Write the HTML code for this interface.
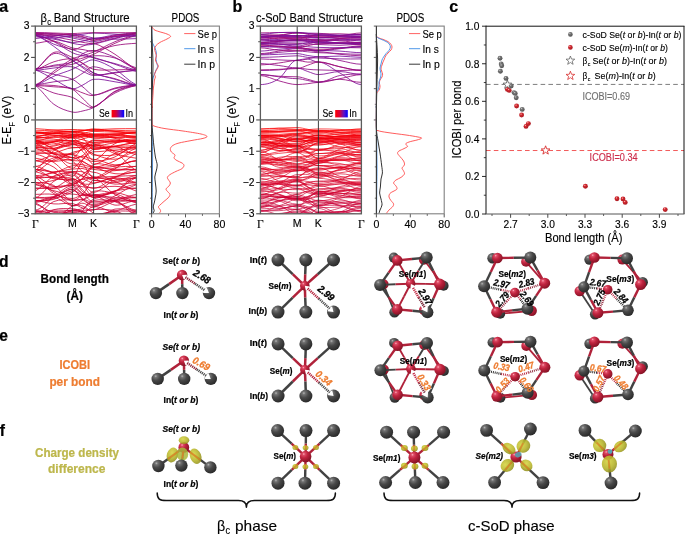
<!DOCTYPE html>
<html lang="en">
<head>
<meta charset="utf-8">
<title>Band structure, PDOS, ICOBI and charge density difference</title>
<style>
html,body{margin:0;padding:0;background:#fff;}
body{width:685px;height:535px;overflow:hidden;font-family:"Liberation Sans", sans-serif;}
svg{display:block;font-family:"Liberation Sans", sans-serif;}
.ser{font-family:"Liberation Serif", serif;}
</style>
</head>
<body>
<svg width="685" height="535" viewBox="0 0 685 535">
<rect x="0" y="0" width="685" height="535" fill="#fff"/>
<defs>
<radialGradient id="gIn" cx="0.34" cy="0.28" r="0.8">
<stop offset="0" stop-color="#b4b4b4"/><stop offset="0.15" stop-color="#727272"/><stop offset="0.45" stop-color="#484848"/><stop offset="1" stop-color="#242424"/>
</radialGradient>
<radialGradient id="gSe" cx="0.34" cy="0.28" r="0.8">
<stop offset="0" stop-color="#ffb0be"/><stop offset="0.14" stop-color="#de4c66"/><stop offset="0.42" stop-color="#c0243f"/><stop offset="1" stop-color="#7c0f21"/>
</radialGradient>
<radialGradient id="gY" cx="0.4" cy="0.35" r="0.75">
<stop offset="0" stop-color="#d6d440"/><stop offset="0.55" stop-color="#b6b428"/><stop offset="1" stop-color="#86841a"/>
</radialGradient>
<linearGradient id="gLeg" x1="0" x2="1" y1="0" y2="0">
<stop offset="0" stop-color="#ff0000"/><stop offset="0.35" stop-color="#d8003a"/><stop offset="0.7" stop-color="#5a14c8"/><stop offset="1" stop-color="#0000ff"/>
</linearGradient>
<radialGradient id="gPg" cx="0.38" cy="0.32" r="0.7">
<stop offset="0" stop-color="#c8c8c8"/><stop offset="0.3" stop-color="#767676"/><stop offset="1" stop-color="#505050"/>
</radialGradient>
<radialGradient id="gPr" cx="0.38" cy="0.32" r="0.7">
<stop offset="0" stop-color="#ffb0b0"/><stop offset="0.3" stop-color="#d02a30"/><stop offset="1" stop-color="#a81820"/>
</radialGradient>
</defs>
<text x="-0.7" y="11.6" font-size="16" font-weight="bold" stroke="#000" stroke-width="0.22">a</text>
<text x="232.6" y="11.6" font-size="16" font-weight="bold" stroke="#000" stroke-width="0.22">b</text>
<text x="449.2" y="11.6" font-size="16" font-weight="bold" stroke="#000" stroke-width="0.22">c</text>
<text x="-0.9" y="267.2" font-size="15.6" font-weight="bold" stroke="#000" stroke-width="0.22">d</text>
<text x="-0.7" y="341.2" font-size="15.6" font-weight="bold" stroke="#000" stroke-width="0.22">e</text>
<text x="-0.2" y="436.0" font-size="15.6" font-weight="bold" stroke="#000" stroke-width="0.22">f</text>
<text x="40.4" y="21.6" font-size="12.6" stroke="#000" stroke-width="0.14" textLength="6.4" lengthAdjust="spacingAndGlyphs">β</text>
<text x="47.2" y="24.8" font-size="9.2" stroke="#000" stroke-width="0.14" textLength="3.8" lengthAdjust="spacingAndGlyphs">c</text>
<text x="53.8" y="21.6" font-size="12.0" stroke="#000" stroke-width="0.14" textLength="75.8" lengthAdjust="spacingAndGlyphs">Band Structure</text>
<text x="171.6" y="22.0" font-size="12.0" stroke="#000" stroke-width="0.14" textLength="27.8" lengthAdjust="spacingAndGlyphs">PDOS</text>
<text x="256.0" y="22.2" font-size="12.0" stroke="#000" stroke-width="0.14" textLength="107.0" lengthAdjust="spacingAndGlyphs">c-SoD Band Structure</text>
<text x="396.4" y="22.2" font-size="12.0" stroke="#000" stroke-width="0.14" textLength="27.8" lengthAdjust="spacingAndGlyphs">PDOS</text>
<g transform="translate(11.4 119.8) rotate(-90)">
<text x="-24.4" y="0" font-size="13.2" stroke="#000" stroke-width="0.14" textLength="17.6" lengthAdjust="spacingAndGlyphs">E-E</text>
<text x="-6.9" y="3.9" font-size="8.4" textLength="4.9" lengthAdjust="spacingAndGlyphs">F</text>
<text x="1.4" y="0" font-size="13.2" stroke="#000" stroke-width="0.14" textLength="22.8" lengthAdjust="spacingAndGlyphs">(eV)</text>
</g>
<g transform="translate(235.9 119.8) rotate(-90)">
<text x="-24.4" y="0" font-size="13.2" stroke="#000" stroke-width="0.14" textLength="17.6" lengthAdjust="spacingAndGlyphs">E-E</text>
<text x="-6.9" y="3.9" font-size="8.4" textLength="4.9" lengthAdjust="spacingAndGlyphs">F</text>
<text x="1.4" y="0" font-size="13.2" stroke="#000" stroke-width="0.14" textLength="22.8" lengthAdjust="spacingAndGlyphs">(eV)</text>
</g>
<line x1="31.10" y1="213.80" x2="35.30" y2="213.80" stroke="#222" stroke-width="0.9" />
<text x="29.4" y="217.1" font-size="10.3" stroke="#000" stroke-width="0.14" text-anchor="end">−3</text>
<line x1="31.10" y1="182.52" x2="35.30" y2="182.52" stroke="#222" stroke-width="0.9" />
<text x="29.4" y="185.8" font-size="10.3" stroke="#000" stroke-width="0.14" text-anchor="end">−2</text>
<line x1="31.10" y1="151.23" x2="35.30" y2="151.23" stroke="#222" stroke-width="0.9" />
<text x="29.4" y="154.5" font-size="10.3" stroke="#000" stroke-width="0.14" text-anchor="end">−1</text>
<line x1="31.10" y1="119.95" x2="35.30" y2="119.95" stroke="#222" stroke-width="0.9" />
<text x="29.4" y="123.2" font-size="10.3" stroke="#000" stroke-width="0.14" text-anchor="end">0</text>
<line x1="31.10" y1="88.67" x2="35.30" y2="88.67" stroke="#222" stroke-width="0.9" />
<text x="29.4" y="92.0" font-size="10.3" stroke="#000" stroke-width="0.14" text-anchor="end">1</text>
<line x1="31.10" y1="57.38" x2="35.30" y2="57.38" stroke="#222" stroke-width="0.9" />
<text x="29.4" y="60.7" font-size="10.3" stroke="#000" stroke-width="0.14" text-anchor="end">2</text>
<line x1="31.10" y1="26.10" x2="35.30" y2="26.10" stroke="#222" stroke-width="0.9" />
<text x="29.4" y="29.4" font-size="10.3" stroke="#000" stroke-width="0.14" text-anchor="end">3</text>
<line x1="33.10" y1="198.16" x2="35.30" y2="198.16" stroke="#222" stroke-width="0.8" />
<line x1="33.10" y1="166.88" x2="35.30" y2="166.88" stroke="#222" stroke-width="0.8" />
<line x1="33.10" y1="135.59" x2="35.30" y2="135.59" stroke="#222" stroke-width="0.8" />
<line x1="33.10" y1="104.31" x2="35.30" y2="104.31" stroke="#222" stroke-width="0.8" />
<line x1="33.10" y1="73.03" x2="35.30" y2="73.03" stroke="#222" stroke-width="0.8" />
<line x1="33.10" y1="41.74" x2="35.30" y2="41.74" stroke="#222" stroke-width="0.8" />
<text x="35.3" y="227.6" font-size="11.5" stroke="#000" stroke-width="0.14" text-anchor="middle" class="ser">Γ</text>
<text x="72.4" y="227.4" font-size="10.6" stroke="#000" stroke-width="0.14" text-anchor="middle">M</text>
<text x="93.6" y="227.4" font-size="10.6" stroke="#000" stroke-width="0.14" text-anchor="middle">K</text>
<text x="136.4" y="227.6" font-size="11.5" stroke="#000" stroke-width="0.14" text-anchor="middle" class="ser">Γ</text>
<clipPath id="clA"><rect x="35.30" y="26.10" width="101.10" height="187.70"/></clipPath>
<g clip-path="url(#clA)" fill="none" stroke-linecap="round">
<path d="M35.3 130.9C41.5 130.9 47.7 130.2 53.9 130.0C60.0 129.8 66.2 129.5 72.4 129.5C75.9 129.5 79.5 129.8 83.0 129.9C86.5 130.1 90.1 130.3 93.6 130.3C100.7 130.3 107.9 130.2 115.0 130.3C122.1 130.4 129.3 130.9 136.4 130.9" stroke="#fd0003" stroke-width="0.8"/>
<path d="M35.3 132.6C41.5 132.6 47.7 133.3 53.9 133.3C60.0 133.4 66.2 132.9 72.4 132.9C75.9 132.9 79.5 131.5 83.0 130.9C86.5 130.2 90.1 128.9 93.6 128.9C100.7 128.9 107.9 130.8 115.0 131.4C122.1 132.0 129.3 132.6 136.4 132.6" stroke="#fc0004" stroke-width="0.8"/>
<path d="M35.3 128.7C41.5 128.7 47.7 129.7 53.9 130.1C60.0 130.6 66.2 131.4 72.4 131.4C75.9 131.4 79.5 130.8 83.0 130.5C86.5 130.2 90.1 129.6 93.6 129.6C100.7 129.6 107.9 128.9 115.0 128.8C122.1 128.6 129.3 128.7 136.4 128.7" stroke="#fb0005" stroke-width="0.8"/>
<path d="M35.3 134.0C41.5 134.0 47.7 133.0 53.9 132.6C60.0 132.2 66.2 131.3 72.4 131.3C75.9 131.3 79.5 130.9 83.0 130.7C86.5 130.5 90.1 130.1 93.6 130.1C100.7 130.1 107.9 130.7 115.0 131.4C122.1 132.0 129.3 134.0 136.4 134.0" stroke="#fa0006" stroke-width="0.8"/>
<path d="M35.3 131.9C41.5 131.9 47.7 132.8 53.9 133.4C60.0 133.9 66.2 135.4 72.4 135.4C75.9 135.4 79.5 134.0 83.0 133.4C86.5 132.7 90.1 131.4 93.6 131.4C100.7 131.4 107.9 132.1 115.0 132.2C122.1 132.3 129.3 131.9 136.4 131.9" stroke="#f90006" stroke-width="0.8"/>
<path d="M35.3 136.5C41.5 136.5 47.7 134.1 53.9 133.3C60.0 132.4 66.2 131.4 72.4 131.4C75.9 131.4 79.5 132.2 83.0 132.6C86.5 133.0 90.1 133.8 93.6 133.8C100.7 133.8 107.9 133.5 115.0 134.0C122.1 134.4 129.3 136.5 136.4 136.5" stroke="#f80007" stroke-width="0.8"/>
<path d="M35.3 133.0C41.5 133.0 47.7 131.6 53.9 131.4C60.0 131.2 66.2 131.7 72.4 131.7C75.9 131.7 79.5 132.8 83.0 133.4C86.5 134.0 90.1 135.1 93.6 135.1C100.7 135.1 107.9 134.6 115.0 134.2C122.1 133.9 129.3 133.0 136.4 133.0" stroke="#f70008" stroke-width="0.8"/>
<path d="M35.3 132.3C41.5 132.3 47.7 133.6 53.9 133.7C60.0 133.7 66.2 132.7 72.4 132.7C75.9 132.7 79.5 134.4 83.0 135.3C86.5 136.2 90.1 137.9 93.6 137.9C100.7 137.9 107.9 137.0 115.0 136.0C122.1 135.1 129.3 132.3 136.4 132.3" stroke="#f70009" stroke-width="0.8"/>
<path d="M35.3 132.7C41.5 132.7 47.7 134.6 53.9 135.3C60.0 135.9 66.2 136.4 72.4 136.4C75.9 136.4 79.5 136.0 83.0 135.8C86.5 135.5 90.1 135.1 93.6 135.1C100.7 135.1 107.9 134.3 115.0 133.9C122.1 133.5 129.3 132.7 136.4 132.7" stroke="#f6000a" stroke-width="0.8"/>
<path d="M35.3 137.6C41.5 137.6 47.7 137.4 53.9 137.4C60.0 137.5 66.2 137.9 72.4 137.9C75.9 137.9 79.5 137.3 83.0 137.0C86.5 136.7 90.1 136.1 93.6 136.1C100.7 136.1 107.9 135.1 115.0 135.4C122.1 135.6 129.3 137.6 136.4 137.6" stroke="#f5000a" stroke-width="0.8"/>
<path d="M35.3 136.2C41.5 136.2 47.7 133.6 53.9 133.3C60.0 133.0 66.2 134.3 72.4 134.3C75.9 134.3 79.5 134.4 83.0 134.5C86.5 134.6 90.1 134.8 93.6 134.8C100.7 134.8 107.9 134.6 115.0 134.8C122.1 135.1 129.3 136.2 136.4 136.2" stroke="#f5000b" stroke-width="0.8"/>
<path d="M35.3 141.0C41.5 141.0 47.7 137.5 53.9 136.6C60.0 135.7 66.2 135.5 72.4 135.5C75.9 135.5 79.5 135.2 83.0 135.0C86.5 134.9 90.1 134.6 93.6 134.6C100.7 134.6 107.9 136.5 115.0 137.5C122.1 138.6 129.3 141.0 136.4 141.0" stroke="#f4000c" stroke-width="0.8"/>
<path d="M35.3 137.3C41.5 137.3 47.7 138.4 53.9 139.1C60.0 139.8 66.2 141.5 72.4 141.5C75.9 141.5 79.5 139.8 83.0 138.9C86.5 138.1 90.1 136.4 93.6 136.4C100.7 136.4 107.9 137.6 115.0 137.7C122.1 137.9 129.3 137.3 136.4 137.3" stroke="#f3000c" stroke-width="0.8"/>
<path d="M35.3 143.6C41.5 143.6 47.7 143.2 53.9 142.0C60.0 140.9 66.2 136.8 72.4 136.8C75.9 136.8 79.5 136.5 83.0 136.3C86.5 136.1 90.1 135.7 93.6 135.7C100.7 135.7 107.9 137.0 115.0 138.4C122.1 139.7 129.3 143.6 136.4 143.6" stroke="#f3000d" stroke-width="0.8"/>
<path d="M35.3 141.5C41.5 141.5 47.7 141.0 53.9 141.4C60.0 141.8 66.2 143.8 72.4 143.8C75.9 143.8 79.5 143.4 83.0 143.2C86.5 142.9 90.1 142.5 93.6 142.5C100.7 142.5 107.9 140.5 115.0 140.3C122.1 140.2 129.3 141.5 136.4 141.5" stroke="#f2000e" stroke-width="0.8"/>
<path d="M35.3 145.7C41.5 145.7 47.7 142.9 53.9 142.0C60.0 141.1 66.2 140.4 72.4 140.4C75.9 140.4 79.5 142.2 83.0 143.0C86.5 143.9 90.1 145.7 93.6 145.7C100.7 145.7 107.9 146.4 115.0 146.4C122.1 146.4 129.3 145.7 136.4 145.7" stroke="#f1000e" stroke-width="0.8"/>
<path d="M35.3 138.6C41.5 138.6 47.7 135.9 53.9 135.8C60.0 135.6 66.2 137.7 72.4 137.7C75.9 137.7 79.5 139.2 83.0 139.9C86.5 140.7 90.1 142.2 93.6 142.2C100.7 142.2 107.9 141.9 115.0 141.3C122.1 140.7 129.3 138.6 136.4 138.6" stroke="#f1000f" stroke-width="0.8"/>
<path d="M35.3 147.2C41.5 147.2 47.7 147.0 53.9 146.1C60.0 145.2 66.2 142.0 72.4 142.0C75.9 142.0 79.5 143.9 83.0 144.8C86.5 145.8 90.1 147.6 93.6 147.6C100.7 147.6 107.9 147.9 115.0 147.9C122.1 147.8 129.3 147.2 136.4 147.2" stroke="#f00010" stroke-width="0.8"/>
<path d="M35.3 142.7C41.5 142.7 47.7 142.4 53.9 143.1C60.0 143.9 66.2 147.3 72.4 147.3C75.9 147.3 79.5 147.7 83.0 147.9C86.5 148.1 90.1 148.5 93.6 148.5C100.7 148.5 107.9 147.5 115.0 146.5C122.1 145.6 129.3 142.7 136.4 142.7" stroke="#f00010" stroke-width="0.8"/>
<path d="M35.3 139.8C41.5 139.8 47.7 140.2 53.9 140.3C60.0 140.4 66.2 140.4 72.4 140.4C75.9 140.4 79.5 142.2 83.0 143.1C86.5 144.1 90.1 145.9 93.6 145.9C100.7 145.9 107.9 143.7 115.0 142.7C122.1 141.7 129.3 139.8 136.4 139.8" stroke="#ef0011" stroke-width="0.8"/>
<path d="M35.3 136.4C41.5 136.1 47.7 134.9 53.9 135.0C60.0 135.1 66.2 137.2 72.4 137.0C75.9 136.9 79.5 133.9 83.0 134.1C86.5 134.3 90.1 137.8 93.6 138.1C100.7 138.8 107.9 137.5 115.0 137.2C122.1 136.9 129.3 136.6 136.4 136.4" stroke="#f3000d" stroke-width="0.8"/>
<path d="M35.3 143.0C41.5 143.0 47.7 142.9 53.9 141.5C60.0 140.1 66.2 134.4 72.4 134.4C75.9 134.4 79.5 135.7 83.0 138.2C86.5 140.7 90.1 149.5 93.6 149.5C100.7 149.5 107.9 147.0 115.0 146.0C122.1 144.9 129.3 143.0 136.4 143.0" stroke="#f2000e" stroke-width="0.8"/>
<path d="M35.3 141.4C41.5 142.8 47.7 145.8 53.9 148.5C60.0 151.3 66.2 156.4 72.4 157.9C75.9 158.7 79.5 157.4 83.0 155.3C86.5 153.2 90.1 146.8 93.6 145.3C100.7 142.2 107.9 142.3 115.0 141.7C122.1 141.0 129.3 141.4 136.4 141.4" stroke="#f1000f" stroke-width="0.8"/>
<path d="M35.3 140.6C41.5 140.6 47.7 146.8 53.9 149.6C60.0 152.4 66.2 157.7 72.4 157.7C75.9 157.7 79.5 150.3 83.0 147.4C86.5 144.4 90.1 139.9 93.6 139.9C100.7 139.9 107.9 142.2 115.0 142.3C122.1 142.4 129.3 140.6 136.4 140.6" stroke="#f00010" stroke-width="0.8"/>
<path d="M35.3 140.0C41.5 141.0 47.7 145.5 53.9 145.1C60.0 144.7 66.2 137.2 72.4 137.8C75.9 138.1 79.5 143.8 83.0 147.6C86.5 151.3 90.1 160.6 93.6 160.2C100.7 159.3 107.9 146.9 115.0 143.6C122.1 140.2 129.3 140.7 136.4 140.0" stroke="#ef0011" stroke-width="0.8"/>
<path d="M35.3 152.7C41.5 152.7 47.7 153.6 53.9 152.8C60.0 152.0 66.2 147.9 72.4 147.9C75.9 147.9 79.5 147.5 83.0 146.8C86.5 146.1 90.1 143.6 93.6 143.6C100.7 143.6 107.9 149.3 115.0 150.8C122.1 152.3 129.3 152.7 136.4 152.7" stroke="#ee0012" stroke-width="0.8"/>
<path d="M35.3 151.1C41.5 150.8 47.7 150.7 53.9 149.7C60.0 148.6 66.2 145.3 72.4 144.8C75.9 144.5 79.5 145.8 83.0 147.3C86.5 148.8 90.1 152.7 93.6 154.1C100.7 156.7 107.9 159.7 115.0 159.2C122.1 158.7 129.3 152.7 136.4 151.1" stroke="#ed0013" stroke-width="0.8"/>
<path d="M35.3 147.4C41.5 147.4 47.7 149.4 53.9 148.5C60.0 147.5 66.2 141.8 72.4 141.8C75.9 141.8 79.5 143.8 83.0 146.0C86.5 148.2 90.1 155.1 93.6 155.1C100.7 155.1 107.9 156.2 115.0 154.9C122.1 153.6 129.3 147.4 136.4 147.4" stroke="#ec0014" stroke-width="0.8"/>
<path d="M35.3 158.2C41.5 158.8 47.7 161.9 53.9 160.9C60.0 160.0 66.2 154.8 72.4 152.4C75.9 151.1 79.5 151.1 83.0 149.7C86.5 148.3 90.1 143.8 93.6 144.2C100.7 145.1 107.9 151.2 115.0 153.6C122.1 155.9 129.3 157.3 136.4 158.2" stroke="#eb0015" stroke-width="0.8"/>
<path d="M35.3 143.4C41.5 143.4 47.7 151.4 53.9 153.2C60.0 154.9 66.2 153.6 72.4 153.6C75.9 153.6 79.5 150.6 83.0 148.4C86.5 146.2 90.1 140.6 93.6 140.6C100.7 140.6 107.9 139.4 115.0 139.9C122.1 140.3 129.3 143.4 136.4 143.4" stroke="#ea0016" stroke-width="0.8"/>
<path d="M35.3 143.4C41.5 145.6 47.7 152.4 53.9 154.3C60.0 156.2 66.2 153.8 72.4 154.5C75.9 155.0 79.5 156.7 83.0 157.8C86.5 159.0 90.1 161.7 93.6 161.6C100.7 161.4 107.9 159.9 115.0 156.9C122.1 153.8 129.3 146.1 136.4 143.4" stroke="#e90017" stroke-width="0.8"/>
<path d="M35.3 146.6C41.5 146.6 47.7 148.8 53.9 148.3C60.0 147.8 66.2 143.7 72.4 143.7C75.9 143.7 79.5 148.2 83.0 151.6C86.5 155.0 90.1 164.2 93.6 164.2C100.7 164.2 107.9 156.4 115.0 153.4C122.1 150.5 129.3 146.6 136.4 146.6" stroke="#e80018" stroke-width="0.8"/>
<path d="M35.3 148.0C41.5 149.8 47.7 155.1 53.9 157.1C60.0 159.2 66.2 159.5 72.4 160.5C75.9 161.0 79.5 160.4 83.0 161.5C86.5 162.7 90.1 167.3 93.6 167.2C100.7 167.0 107.9 164.0 115.0 160.8C122.1 157.6 129.3 150.5 136.4 148.0" stroke="#e70019" stroke-width="0.8"/>
<path d="M35.3 160.8C41.5 160.8 47.7 161.6 53.9 161.4C60.0 161.2 66.2 159.5 72.4 159.5C75.9 159.5 79.5 156.2 83.0 156.2C86.5 156.2 90.1 159.4 93.6 159.4C100.7 159.4 107.9 164.7 115.0 164.9C122.1 165.2 129.3 160.8 136.4 160.8" stroke="#e7001a" stroke-width="0.8"/>
<path d="M35.3 170.6C41.5 166.6 47.7 155.0 53.9 150.6C60.0 146.3 66.2 145.4 72.4 144.4C75.9 143.8 79.5 145.5 83.0 145.9C86.5 146.2 90.1 145.6 93.6 146.3C100.7 147.7 107.9 148.1 115.0 152.1C122.1 156.2 129.3 166.9 136.4 170.6" stroke="#e6001b" stroke-width="0.8"/>
<path d="M35.3 148.8C41.5 148.8 47.7 150.6 53.9 153.8C60.0 157.0 66.2 168.2 72.4 168.2C75.9 168.2 79.5 161.5 83.0 158.8C86.5 156.0 90.1 151.8 93.6 151.8C100.7 151.8 107.9 150.6 115.0 150.1C122.1 149.6 129.3 148.8 136.4 148.8" stroke="#e5001b" stroke-width="0.8"/>
<path d="M35.3 166.1C41.5 167.3 47.7 172.1 53.9 172.0C60.0 172.0 66.2 166.9 72.4 165.8C75.9 165.2 79.5 166.3 83.0 166.9C86.5 167.5 90.1 168.9 93.6 169.4C100.7 170.2 107.9 171.3 115.0 170.7C122.1 170.2 129.3 167.0 136.4 166.1" stroke="#e4001c" stroke-width="0.8"/>
<path d="M35.3 154.4C41.5 154.4 47.7 159.0 53.9 162.6C60.0 166.3 66.2 176.4 72.4 176.4C75.9 176.4 79.5 164.1 83.0 159.6C86.5 155.1 90.1 149.5 93.6 149.5C100.7 149.5 107.9 145.5 115.0 146.3C122.1 147.2 129.3 154.4 136.4 154.4" stroke="#e3001d" stroke-width="0.8"/>
<path d="M35.3 153.4C41.5 153.5 47.7 152.5 53.9 153.8C60.0 155.0 66.2 157.1 72.4 161.0C75.9 163.3 79.5 169.5 83.0 172.4C86.5 175.3 90.1 179.1 93.6 178.7C100.7 177.9 107.9 173.1 115.0 168.9C122.1 164.7 129.3 156.5 136.4 153.4" stroke="#e3001e" stroke-width="0.8"/>
<path d="M35.3 160.7C41.5 160.7 47.7 155.6 53.9 156.1C60.0 156.7 66.2 163.9 72.4 163.9C75.9 163.9 79.5 164.2 83.0 164.8C86.5 165.4 90.1 167.4 93.6 167.4C100.7 167.4 107.9 167.4 115.0 166.3C122.1 165.1 129.3 160.7 136.4 160.7" stroke="#e2001f" stroke-width="0.8"/>
<path d="M35.3 172.2C41.5 169.7 47.7 162.4 53.9 159.5C60.0 156.6 66.2 154.2 72.4 154.7C75.9 155.0 79.5 159.9 83.0 161.9C86.5 163.9 90.1 165.4 93.6 166.7C100.7 169.4 107.9 172.8 115.0 173.7C122.1 174.7 129.3 172.5 136.4 172.2" stroke="#e10020" stroke-width="0.8"/>
<path d="M35.3 166.5C41.5 166.5 47.7 159.3 53.9 157.8C60.0 156.3 66.2 157.4 72.4 157.4C75.9 157.4 79.5 160.9 83.0 164.2C86.5 167.6 90.1 177.6 93.6 177.6C100.7 177.6 107.9 169.6 115.0 167.7C122.1 165.9 129.3 166.5 136.4 166.5" stroke="#e00020" stroke-width="0.8"/>
<path d="M35.3 160.5C41.5 161.9 47.7 163.3 53.9 167.2C60.0 171.1 66.2 181.8 72.4 184.0C75.9 185.3 79.5 181.1 83.0 177.8C86.5 174.6 90.1 165.9 93.6 164.6C100.7 161.9 107.9 166.5 115.0 165.8C122.1 165.1 129.3 161.6 136.4 160.5" stroke="#df0021" stroke-width="0.8"/>
<path d="M35.3 175.7C41.5 175.7 47.7 173.9 53.9 172.8C60.0 171.7 66.2 169.1 72.4 169.1C75.9 169.1 79.5 168.0 83.0 168.6C86.5 169.1 90.1 172.3 93.6 172.3C100.7 172.3 107.9 180.5 115.0 181.1C122.1 181.6 129.3 175.7 136.4 175.7" stroke="#df0022" stroke-width="0.8"/>
<path d="M35.3 182.4C41.5 183.6 47.7 188.6 53.9 188.7C60.0 188.8 66.2 184.9 72.4 182.9C75.9 181.8 79.5 179.2 83.0 179.2C86.5 179.2 90.1 183.2 93.6 183.0C100.7 182.6 107.9 177.8 115.0 177.7C122.1 177.6 129.3 181.4 136.4 182.4" stroke="#de0023" stroke-width="0.8"/>
<path d="M35.3 182.9C41.5 182.9 47.7 182.0 53.9 180.3C60.0 178.6 66.2 172.5 72.4 172.5C75.9 172.5 79.5 175.6 83.0 176.6C86.5 177.5 90.1 178.3 93.6 178.3C100.7 178.3 107.9 177.8 115.0 178.5C122.1 179.3 129.3 182.9 136.4 182.9" stroke="#dd0024" stroke-width="0.8"/>
<path d="M35.3 171.7C41.5 172.8 47.7 176.3 53.9 177.3C60.0 178.4 66.2 176.8 72.4 178.2C75.9 179.0 79.5 182.9 83.0 183.8C86.5 184.7 90.1 184.3 93.6 183.5C100.7 182.0 107.9 178.8 115.0 176.8C122.1 174.8 129.3 172.7 136.4 171.7" stroke="#dc0024" stroke-width="0.8"/>
<path d="M35.3 169.7C41.5 169.7 47.7 177.3 53.9 178.8C60.0 180.4 66.2 178.9 72.4 178.9C75.9 178.9 79.5 183.0 83.0 184.6C86.5 186.1 90.1 188.3 93.6 188.3C100.7 188.3 107.9 180.6 115.0 177.5C122.1 174.5 129.3 169.7 136.4 169.7" stroke="#dc0025" stroke-width="0.8"/>
<path d="M35.3 169.4C41.5 170.1 47.7 171.2 53.9 173.1C60.0 174.9 66.2 180.0 72.4 180.2C75.9 180.3 79.5 176.3 83.0 174.1C86.5 171.9 90.1 167.5 93.6 167.0C100.7 166.1 107.9 169.6 115.0 170.0C122.1 170.4 129.3 169.5 136.4 169.4" stroke="#db0026" stroke-width="0.8"/>
<path d="M35.3 177.8C41.5 177.8 47.7 173.0 53.9 171.9C60.0 170.8 66.2 171.4 72.4 171.4C75.9 171.4 79.5 174.7 83.0 176.1C86.5 177.6 90.1 180.2 93.6 180.2C100.7 180.2 107.9 183.0 115.0 182.6C122.1 182.2 129.3 177.8 136.4 177.8" stroke="#da0027" stroke-width="0.8"/>
<path d="M35.3 178.2C41.5 177.8 47.7 177.5 53.9 176.6C60.0 175.7 66.2 171.5 72.4 172.9C75.9 173.8 79.5 180.0 83.0 183.3C86.5 186.5 90.1 192.8 93.6 192.5C100.7 191.7 107.9 182.3 115.0 180.0C122.1 177.6 129.3 178.5 136.4 178.2" stroke="#da0028" stroke-width="0.8"/>
<path d="M35.3 169.4C41.5 169.4 47.7 170.3 53.9 172.8C60.0 175.2 66.2 184.3 72.4 184.3C75.9 184.3 79.5 180.7 83.0 178.0C86.5 175.2 90.1 167.9 93.6 167.9C100.7 167.9 107.9 168.9 115.0 169.2C122.1 169.4 129.3 169.4 136.4 169.4" stroke="#d90028" stroke-width="0.8"/>
<path d="M35.3 191.1C41.5 188.1 47.7 179.2 53.9 176.0C60.0 172.8 66.2 172.7 72.4 171.9C75.9 171.4 79.5 171.1 83.0 171.9C86.5 172.7 90.1 175.5 93.6 176.6C100.7 178.7 107.9 179.1 115.0 181.5C122.1 183.9 129.3 189.2 136.4 191.1" stroke="#d80029" stroke-width="0.8"/>
<path d="M35.3 177.1C41.5 177.1 47.7 177.2 53.9 177.8C60.0 178.4 66.2 181.0 72.4 181.0C75.9 181.0 79.5 189.6 83.0 192.0C86.5 194.4 90.1 195.4 93.6 195.4C100.7 195.4 107.9 194.3 115.0 191.3C122.1 188.2 129.3 177.1 136.4 177.1" stroke="#d7002a" stroke-width="0.8"/>
<path d="M35.3 177.4C41.5 180.6 47.7 190.1 53.9 193.6C60.0 197.1 66.2 198.3 72.4 198.5C75.9 198.7 79.5 195.0 83.0 194.8C86.5 194.5 90.1 197.4 93.6 197.0C100.7 196.3 107.9 195.0 115.0 191.7C122.1 188.5 129.3 180.3 136.4 177.4" stroke="#d7002b" stroke-width="0.8"/>
<path d="M35.3 197.5C41.5 197.5 47.7 185.1 53.9 181.3C60.0 177.6 66.2 174.9 72.4 174.9C75.9 174.9 79.5 181.0 83.0 184.8C86.5 188.5 90.1 197.4 93.6 197.4C100.7 197.4 107.9 192.7 115.0 192.7C122.1 192.7 129.3 197.5 136.4 197.5" stroke="#d6002b" stroke-width="0.8"/>
<path d="M35.3 175.5C41.5 177.7 47.7 185.0 53.9 186.5C60.0 188.0 66.2 186.0 72.4 184.4C75.9 183.5 79.5 180.0 83.0 178.9C86.5 177.7 90.1 177.8 93.6 177.5C100.7 177.0 107.9 176.7 115.0 176.4C122.1 176.0 129.3 175.7 136.4 175.5" stroke="#d5002c" stroke-width="0.8"/>
<path d="M35.3 182.8C41.5 182.8 47.7 182.6 53.9 185.5C60.0 188.5 66.2 200.5 72.4 200.5C75.9 200.5 79.5 197.2 83.0 193.9C86.5 190.5 90.1 180.4 93.6 180.4C100.7 180.4 107.9 183.6 115.0 184.1C122.1 184.5 129.3 182.8 136.4 182.8" stroke="#d5002d" stroke-width="0.8"/>
<path d="M35.3 187.9C41.5 187.9 47.7 189.5 53.9 188.0C60.0 186.6 66.2 178.7 72.4 179.2C75.9 179.5 79.5 187.3 83.0 190.3C86.5 193.4 90.1 197.4 93.6 197.5C100.7 197.7 107.9 192.7 115.0 191.1C122.1 189.5 129.3 188.5 136.4 187.9" stroke="#d4002d" stroke-width="0.8"/>
<path d="M35.3 184.4C41.5 184.4 47.7 189.1 53.9 190.7C60.0 192.3 66.2 194.1 72.4 194.1C75.9 194.1 79.5 195.5 83.0 195.7C86.5 195.8 90.1 194.9 93.6 194.9C100.7 194.9 107.9 192.6 115.0 190.8C122.1 189.1 129.3 184.4 136.4 184.4" stroke="#d3002e" stroke-width="0.8"/>
<path d="M35.3 202.5C41.5 201.7 47.7 200.2 53.9 198.5C60.0 196.8 66.2 195.4 72.4 192.1C75.9 190.1 79.5 185.2 83.0 182.7C86.5 180.3 90.1 176.0 93.6 177.3C100.7 179.9 107.9 190.5 115.0 194.7C122.1 198.9 129.3 200.9 136.4 202.5" stroke="#d3002f" stroke-width="0.8"/>
<path d="M35.3 188.6C41.5 188.6 47.7 187.3 53.9 186.7C60.0 186.2 66.2 185.4 72.4 185.4C75.9 185.4 79.5 186.3 83.0 186.8C86.5 187.2 90.1 187.9 93.6 187.9C100.7 187.9 107.9 186.1 115.0 186.3C122.1 186.4 129.3 188.6 136.4 188.6" stroke="#d20030" stroke-width="0.8"/>
<path d="M35.3 184.7C41.5 186.1 47.7 188.2 53.9 191.7C60.0 195.2 66.2 203.2 72.4 205.6C75.9 207.0 79.5 202.9 83.0 203.2C86.5 203.5 90.1 208.1 93.6 207.3C100.7 205.7 107.9 199.5 115.0 195.8C122.1 192.0 129.3 186.9 136.4 184.7" stroke="#d10030" stroke-width="0.8"/>
<path d="M35.3 197.4C41.5 197.4 47.7 197.9 53.9 196.5C60.0 195.2 66.2 189.1 72.4 189.1C75.9 189.1 79.5 197.0 83.0 199.8C86.5 202.6 90.1 205.8 93.6 205.8C100.7 205.8 107.9 201.8 115.0 200.4C122.1 199.0 129.3 197.4 136.4 197.4" stroke="#d00031" stroke-width="0.8"/>
<path d="M35.3 201.9C41.5 201.0 47.7 196.8 53.9 197.4C60.0 198.0 66.2 205.1 72.4 205.6C75.9 206.0 79.5 202.5 83.0 200.1C86.5 197.7 90.1 192.0 93.6 191.3C100.7 189.9 107.9 191.9 115.0 193.7C122.1 195.5 129.3 200.3 136.4 201.9" stroke="#d00032" stroke-width="0.8"/>
<path d="M35.3 200.7C41.5 200.7 47.7 199.6 53.9 197.4C60.0 195.2 66.2 187.5 72.4 187.5C75.9 187.5 79.5 192.5 83.0 193.9C86.5 195.3 90.1 195.9 93.6 195.9C100.7 195.9 107.9 204.2 115.0 205.1C122.1 205.9 129.3 200.7 136.4 200.7" stroke="#cf0032" stroke-width="0.8"/>
<path d="M35.3 200.4C41.5 201.1 47.7 203.4 53.9 203.9C60.0 204.5 66.2 202.6 72.4 203.5C75.9 204.1 79.5 207.1 83.0 208.2C86.5 209.3 90.1 210.9 93.6 210.1C100.7 208.6 107.9 203.0 115.0 201.4C122.1 199.8 129.3 200.6 136.4 200.4" stroke="#ce0033" stroke-width="0.8"/>
<path d="M35.3 210.1C41.5 210.1 47.7 200.6 53.9 196.6C60.0 192.5 66.2 185.8 72.4 185.8C75.9 185.8 79.5 191.4 83.0 194.1C86.5 196.7 90.1 201.8 93.6 201.8C100.7 201.8 107.9 199.9 115.0 201.2C122.1 202.6 129.3 210.1 136.4 210.1" stroke="#ce0034" stroke-width="0.8"/>
<path d="M35.3 194.4C41.5 194.4 47.7 193.4 53.9 194.5C60.0 195.5 66.2 199.7 72.4 200.7C75.9 201.3 79.5 198.7 83.0 199.1C86.5 199.5 90.1 203.0 93.6 203.1C100.7 203.3 107.9 201.6 115.0 200.2C122.1 198.7 129.3 195.6 136.4 194.4" stroke="#cd0035" stroke-width="0.8"/>
<path d="M35.3 197.9C41.5 197.9 47.7 198.9 53.9 197.5C60.0 196.0 66.2 189.4 72.4 189.4C75.9 189.4 79.5 196.6 83.0 199.2C86.5 201.7 90.1 204.8 93.6 204.8C100.7 204.8 107.9 199.5 115.0 198.3C122.1 197.2 129.3 197.9 136.4 197.9" stroke="#cc0035" stroke-width="0.8"/>
<path d="M35.3 200.7C41.5 200.4 47.7 201.0 53.9 199.3C60.0 197.7 66.2 191.7 72.4 190.7C75.9 190.2 79.5 194.3 83.0 194.8C86.5 195.3 90.1 193.4 93.6 194.0C100.7 195.3 107.9 199.6 115.0 200.8C122.1 201.9 129.3 200.7 136.4 200.7" stroke="#cc0036" stroke-width="0.8"/>
<path d="M35.3 214.2C41.5 214.2 47.7 203.8 53.9 201.5C60.0 199.1 66.2 200.0 72.4 200.0C75.9 200.0 79.5 200.3 83.0 199.5C86.5 198.7 90.1 195.2 93.6 195.2C100.7 195.2 107.9 196.4 115.0 199.6C122.1 202.7 129.3 214.2 136.4 214.2" stroke="#cb0037" stroke-width="0.8"/>
<path d="M35.3 212.4C41.5 213.3 47.7 217.4 53.9 217.1C60.0 216.7 66.2 211.9 72.4 210.1C75.9 209.1 79.5 210.1 83.0 208.5C86.5 206.9 90.1 201.3 93.6 200.5C100.7 199.0 107.9 199.8 115.0 201.7C122.1 203.7 129.3 210.2 136.4 212.4" stroke="#cb0037" stroke-width="0.8"/>
<path d="M35.3 214.2C41.5 214.2 47.7 211.5 53.9 211.4C60.0 211.2 66.2 213.5 72.4 213.5C75.9 213.5 79.5 215.0 83.0 213.8C86.5 212.7 90.1 206.5 93.6 206.5C100.7 206.5 107.9 211.4 115.0 212.7C122.1 214.0 129.3 214.2 136.4 214.2" stroke="#ca0038" stroke-width="0.8"/>
<path d="M35.3 211.9C41.5 211.5 47.7 210.3 53.9 210.1C60.0 209.9 66.2 210.4 72.4 210.7C75.9 210.9 79.5 210.0 83.0 211.5C86.5 212.9 90.1 218.7 93.6 219.4C100.7 220.6 107.9 218.4 115.0 217.2C122.1 215.9 129.3 212.9 136.4 211.9" stroke="#c90039" stroke-width="0.8"/>
<path d="M35.3 210.5C41.5 210.5 47.7 212.5 53.9 214.7C60.0 216.8 66.2 223.5 72.4 223.5C75.9 223.5 79.5 224.9 83.0 224.1C86.5 223.3 90.1 218.6 93.6 218.6C100.7 218.6 107.9 210.5 115.0 209.1C122.1 207.8 129.3 210.5 136.4 210.5" stroke="#c90039" stroke-width="0.8"/>
<path d="M35.3 202.7C41.5 205.3 47.7 212.1 53.9 215.9C60.0 219.7 66.2 226.7 72.4 225.5C75.9 224.8 79.5 214.6 83.0 210.2C86.5 205.8 90.1 200.5 93.6 199.1C100.7 196.2 107.9 196.7 115.0 197.3C122.1 197.9 129.3 201.6 136.4 202.7" stroke="#c8003a" stroke-width="0.8"/>
<path d="M35.3 219.3C41.5 219.3 47.7 211.5 53.9 209.7C60.0 207.9 66.2 208.7 72.4 208.7C75.9 208.7 79.5 210.8 83.0 210.9C86.5 211.0 90.1 209.4 93.6 209.4C100.7 209.4 107.9 209.1 115.0 210.8C122.1 212.4 129.3 219.3 136.4 219.3" stroke="#c8003a" stroke-width="0.8"/>
<path d="M35.3 204.0C41.5 205.7 47.7 211.4 53.9 212.5C60.0 213.5 66.2 210.1 72.4 210.1C75.9 210.1 79.5 211.6 83.0 212.3C86.5 213.0 90.1 214.5 93.6 214.4C100.7 214.1 107.9 213.0 115.0 211.2C122.1 209.5 129.3 205.4 136.4 204.0" stroke="#c8003a" stroke-width="0.8"/>
<path d="M35.3 211.3C41.5 211.3 47.7 215.8 53.9 215.8C60.0 215.7 66.2 211.2 72.4 211.2C75.9 211.2 79.5 211.2 83.0 211.8C86.5 212.4 90.1 214.7 93.6 214.7C100.7 214.7 107.9 211.8 115.0 211.2C122.1 210.6 129.3 211.3 136.4 211.3" stroke="#c8003a" stroke-width="0.8"/>
<path d="M35.3 226.1C41.5 225.2 47.7 224.7 53.9 221.3C60.0 218.0 66.2 209.1 72.4 205.9C75.9 204.1 79.5 205.0 83.0 206.2C86.5 207.4 90.1 211.2 93.6 213.2C100.7 217.4 107.9 222.6 115.0 224.7C122.1 226.9 129.3 225.9 136.4 226.1" stroke="#c8003a" stroke-width="0.8"/>
<path d="M35.3 223.6C41.5 223.6 47.7 219.1 53.9 217.3C60.0 215.4 66.2 212.5 72.4 212.5C75.9 212.5 79.5 212.6 83.0 213.3C86.5 213.9 90.1 216.4 93.6 216.4C100.7 216.4 107.9 219.4 115.0 220.6C122.1 221.8 129.3 223.6 136.4 223.6" stroke="#c8003a" stroke-width="0.8"/>
<path d="M35.3 85.5C41.5 89.3 47.7 99.9 53.9 104.3C60.0 108.7 66.2 110.7 72.4 112.1C75.9 112.9 79.5 111.7 83.0 110.9C86.5 110.1 90.1 109.4 93.6 107.4C100.7 103.5 107.9 96.7 115.0 93.0C122.1 89.4 129.3 87.0 136.4 85.5" stroke="#940b81" stroke-width="0.85"/>
<path d="M35.3 85.5C41.5 87.0 47.7 91.1 53.9 93.0C60.0 95.0 66.2 95.2 72.4 97.4C75.9 98.7 79.5 102.0 83.0 103.7C86.5 105.4 90.1 108.7 93.6 107.4C100.7 104.8 107.9 95.4 115.0 91.8C122.1 88.1 129.3 86.8 136.4 85.5" stroke="#990a7b" stroke-width="0.85"/>
<path d="M35.3 85.5C41.5 85.8 47.7 86.2 53.9 86.8C60.0 87.4 66.2 86.8 72.4 89.3C75.9 90.7 79.5 95.8 83.0 98.7C86.5 101.6 90.1 107.6 93.6 106.8C100.7 105.1 107.9 94.8 115.0 91.2C122.1 87.5 129.3 86.2 136.4 84.9" stroke="#9c0a78" stroke-width="0.85"/>
<path d="M35.3 84.9C41.5 85.0 47.7 84.9 53.9 85.5C60.0 86.2 66.2 87.1 72.4 88.7C75.9 89.6 79.5 91.9 83.0 93.0C86.5 94.2 90.1 96.1 93.6 95.5C100.7 94.4 107.9 89.8 115.0 88.0C122.1 86.3 129.3 85.5 136.4 84.9" stroke="#a20871" stroke-width="0.85"/>
<path d="M35.3 85.9C41.5 82.9 47.7 75.6 53.9 71.1C60.0 66.7 66.2 62.3 72.4 58.9C75.9 57.1 79.5 56.7 83.0 55.5C86.5 54.4 90.1 53.6 93.6 52.1C100.7 49.0 107.9 44.6 115.0 41.7C122.1 38.9 129.3 36.2 136.4 34.9" stroke="#990a7b" stroke-width="0.85"/>
<path d="M35.3 84.9C41.5 82.5 47.7 77.0 53.9 73.0C60.0 69.1 66.2 64.3 72.4 61.1C75.9 59.3 79.5 59.2 83.0 58.0C86.5 56.9 90.1 55.9 93.6 54.3C100.7 51.0 107.9 46.4 115.0 43.3C122.1 40.2 129.3 37.0 136.4 35.5" stroke="#a20972" stroke-width="0.85"/>
<path d="M35.3 85.5C41.5 83.7 47.7 78.9 53.9 76.2C60.0 73.4 66.2 71.9 72.4 69.3C75.9 67.8 79.5 65.2 83.0 63.6C86.5 62.1 90.1 59.3 93.6 59.9C100.7 61.1 107.9 65.1 115.0 69.3C122.1 73.4 129.3 81.8 136.4 84.9" stroke="#79109f" stroke-width="0.85"/>
<path d="M35.3 84.9C41.5 84.3 47.7 82.7 53.9 81.8C60.0 80.8 66.2 81.1 72.4 79.3C75.9 78.2 79.5 75.1 83.0 73.0C86.5 70.9 90.1 66.6 93.6 66.8C100.7 67.0 107.9 71.1 115.0 74.3C122.1 77.4 129.3 83.3 136.4 85.5" stroke="#8d0c89" stroke-width="0.85"/>
<path d="M35.3 69.9C41.5 66.4 47.7 54.5 53.9 52.4C60.0 50.3 66.2 55.0 72.4 57.4C75.9 58.7 79.5 61.0 83.0 63.6C86.5 66.2 90.1 71.4 93.6 73.0C100.7 76.4 107.9 76.6 115.0 78.7C122.1 80.7 129.3 84.2 136.4 85.5" stroke="#a20871" stroke-width="0.85"/>
<path d="M35.3 69.9C41.5 66.6 47.7 55.2 53.9 53.6C60.0 52.1 66.2 57.5 72.4 60.5C75.9 62.3 79.5 65.7 83.0 68.0C86.5 70.4 90.1 74.0 93.6 74.6C100.7 75.7 107.9 73.8 115.0 73.0C122.1 72.2 129.3 70.5 136.4 69.9" stroke="#950b80" stroke-width="0.85"/>
<path d="M35.3 69.9C41.5 68.3 47.7 63.6 53.9 61.8C60.0 59.9 66.2 58.5 72.4 58.9C75.9 59.2 79.5 61.9 83.0 63.6C86.5 65.4 90.1 68.6 93.6 69.3C100.7 70.7 107.9 69.9 115.0 69.9C122.1 69.9 129.3 69.4 136.4 69.3" stroke="#a10973" stroke-width="0.85"/>
<path d="M35.3 69.9C41.5 71.8 47.7 76.2 53.9 79.3C60.0 82.4 66.2 87.5 72.4 88.7C75.9 89.3 79.5 86.5 83.0 84.9C86.5 83.3 90.1 79.6 93.6 79.3C100.7 78.6 107.9 80.7 115.0 81.8C122.1 82.8 129.3 84.8 136.4 85.5" stroke="#7d0f9a" stroke-width="0.85"/>
<path d="M35.3 69.9C41.5 70.8 47.7 72.7 53.9 74.3C60.0 75.8 66.2 76.6 72.4 79.3C75.9 80.8 79.5 84.5 83.0 87.1C86.5 89.7 90.1 94.8 93.6 94.9C100.7 95.3 107.9 90.3 115.0 88.7C122.1 87.0 129.3 85.7 136.4 84.9" stroke="#8d0c89" stroke-width="0.85"/>
<path d="M35.3 70.5C41.5 70.0 47.7 68.6 53.9 68.0C60.0 67.4 66.2 66.0 72.4 66.8C75.9 67.2 79.5 70.0 83.0 71.5C86.5 72.9 90.1 75.4 93.6 75.5C100.7 75.7 107.9 73.2 115.0 72.4C122.1 71.6 129.3 70.9 136.4 70.5" stroke="#830e94" stroke-width="0.85"/>
<path d="M35.3 69.3C41.5 68.5 47.7 66.4 53.9 65.2C60.0 64.0 66.2 64.5 72.4 62.1C75.9 60.7 79.5 55.6 83.0 53.6C86.5 51.7 90.1 50.1 93.6 50.5C100.7 51.3 107.9 54.3 115.0 57.4C122.1 60.5 129.3 66.9 136.4 69.3" stroke="#900c85" stroke-width="0.85"/>
<path d="M35.3 68.6C41.5 68.1 47.7 66.9 53.9 66.1C60.0 65.4 66.2 65.6 72.4 64.3C75.9 63.5 79.5 61.3 83.0 59.9C86.5 58.5 90.1 56.0 93.6 55.8C100.7 55.4 107.9 56.0 115.0 58.0C122.1 60.0 129.3 66.0 136.4 68.0" stroke="#920b83" stroke-width="0.85"/>
<path d="M35.3 34.9C41.5 37.2 47.7 42.2 53.9 46.4C60.0 50.7 66.2 56.2 72.4 60.5C75.9 63.0 79.5 64.7 83.0 66.8C86.5 68.9 90.1 71.6 93.6 73.0C100.7 75.8 107.9 77.2 115.0 79.3C122.1 81.4 129.3 84.3 136.4 85.5" stroke="#79109f" stroke-width="0.85"/>
<path d="M35.3 34.9C41.5 36.7 47.7 41.8 53.9 44.2C60.0 46.7 66.2 47.6 72.4 49.6C75.9 50.7 79.5 52.2 83.0 53.6C86.5 55.0 90.1 56.9 93.6 58.0C100.7 60.2 107.9 61.7 115.0 63.6C122.1 65.6 129.3 68.6 136.4 69.9" stroke="#820e95" stroke-width="0.85"/>
<path d="M35.3 34.2C41.5 35.7 47.7 38.7 53.9 41.7C60.0 44.8 66.2 49.7 72.4 52.7C75.9 54.4 79.5 55.0 83.0 55.8C86.5 56.6 90.1 56.5 93.6 57.4C100.7 59.3 107.9 61.9 115.0 64.3C122.1 66.6 129.3 70.0 136.4 71.5" stroke="#850e92" stroke-width="0.85"/>
<path d="M35.3 35.5C41.5 36.6 47.7 38.8 53.9 41.1C60.0 43.5 66.2 48.5 72.4 49.6C75.9 50.2 79.5 47.2 83.0 46.1C86.5 45.1 90.1 42.4 93.6 43.3C100.7 45.1 107.9 49.9 115.0 54.3C122.1 58.6 129.3 66.3 136.4 69.3" stroke="#a10972" stroke-width="0.85"/>
<path d="M35.3 43.3C41.5 42.9 47.7 40.3 53.9 41.1C60.0 41.9 66.2 46.2 72.4 48.0C75.9 49.0 79.5 49.0 83.0 49.6C86.5 50.1 90.1 51.6 93.6 51.1C100.7 50.2 107.9 46.8 115.0 45.5C122.1 44.2 129.3 43.7 136.4 43.3" stroke="#9a0a7a" stroke-width="0.85"/>
<path d="M35.3 33.9C41.5 34.7 47.7 36.4 53.9 38.0C60.0 39.6 66.2 41.8 72.4 43.3C75.9 44.1 79.5 44.7 83.0 44.9C86.5 45.0 90.1 44.9 93.6 44.2C100.7 42.8 107.9 40.3 115.0 38.6C122.1 36.9 129.3 34.9 136.4 33.9" stroke="#7f0f98" stroke-width="0.85"/>
<path d="M35.3 33.6C41.5 34.2 47.7 35.6 53.9 36.7C60.0 37.8 66.2 39.0 72.4 40.2C75.9 40.9 79.5 41.8 83.0 42.4C86.5 42.9 90.1 43.8 93.6 43.3C100.7 42.3 107.9 39.6 115.0 38.0C122.1 36.4 129.3 34.5 136.4 33.6" stroke="#9c0a78" stroke-width="0.85"/>
<path d="M35.3 33.0C41.5 33.4 47.7 34.0 53.9 34.9C60.0 35.7 66.2 36.9 72.4 38.0C75.9 38.6 79.5 39.6 83.0 40.2C86.5 40.8 90.1 42.1 93.6 41.7C100.7 41.0 107.9 38.2 115.0 36.7C122.1 35.3 129.3 33.7 136.4 33.0" stroke="#7e0f99" stroke-width="0.85"/>
<path d="M35.3 34.9C41.5 35.0 47.7 35.2 53.9 35.5C60.0 35.8 66.2 36.1 72.4 36.7C75.9 37.1 79.5 38.1 83.0 38.6C86.5 39.1 90.1 40.1 93.6 39.9C100.7 39.3 107.9 36.9 115.0 36.1C122.1 35.3 129.3 35.1 136.4 34.9" stroke="#940b81" stroke-width="0.85"/>
<path d="M35.3 32.7C41.5 32.9 47.7 33.1 53.9 33.6C60.0 34.1 66.2 34.7 72.4 35.5C75.9 35.9 79.5 36.8 83.0 37.4C86.5 37.9 90.1 38.9 93.6 38.6C100.7 38.1 107.9 35.8 115.0 34.9C122.1 33.9 129.3 33.1 136.4 32.7" stroke="#7e0f9a" stroke-width="0.85"/>
<path d="M35.3 35.5C41.5 36.0 47.7 38.0 53.9 38.0C60.0 38.0 66.2 36.3 72.4 35.5C75.9 35.0 79.5 34.7 83.0 34.2C86.5 33.8 90.1 33.0 93.6 33.0C100.7 33.0 107.9 33.8 115.0 34.2C122.1 34.7 129.3 35.2 136.4 35.5" stroke="#7810a0" stroke-width="0.85"/>
<path d="M35.3 32.7C41.5 32.7 47.7 32.8 53.9 33.0C60.0 33.1 66.2 33.6 72.4 33.6C75.9 33.6 79.5 33.1 83.0 33.0C86.5 32.8 90.1 32.7 93.6 32.7C100.7 32.6 107.9 32.7 115.0 32.7C122.1 32.7 129.3 32.7 136.4 32.7" stroke="#9f0974" stroke-width="0.85"/>
<path d="M35.3 36.7C41.5 37.2 47.7 38.3 53.9 39.2C60.0 40.2 66.2 42.0 72.4 42.4C75.9 42.6 79.5 41.7 83.0 41.1C86.5 40.5 90.1 39.1 93.6 38.6C100.7 37.6 107.9 37.0 115.0 36.7C122.1 36.4 129.3 36.7 136.4 36.7" stroke="#810e96" stroke-width="0.85"/>
<path d="M35.3 38.6C41.5 38.1 47.7 36.8 53.9 36.1C60.0 35.4 66.2 34.4 72.4 34.2C75.9 34.2 79.5 34.9 83.0 35.5C86.5 36.1 90.1 37.6 93.6 38.0C100.7 38.8 107.9 39.1 115.0 39.2C122.1 39.3 129.3 38.7 136.4 38.6" stroke="#820e95" stroke-width="0.85"/>
<path d="M35.3 33.6C41.5 33.7 47.7 34.0 53.9 34.2C60.0 34.4 66.2 34.3 72.4 34.9C75.9 35.2 79.5 35.8 83.0 36.7C86.5 37.7 90.1 40.6 93.6 40.5C100.7 40.2 107.9 36.6 115.0 35.5C122.1 34.3 129.3 34.0 136.4 33.6" stroke="#a4086f" stroke-width="0.85"/>
</g>
<line x1="72.40" y1="26.10" x2="72.40" y2="213.80" stroke="#2a2a2a" stroke-width="0.9" />
<line x1="93.60" y1="26.10" x2="93.60" y2="213.80" stroke="#2a2a2a" stroke-width="0.9" />
<line x1="35.30" y1="119.95" x2="136.40" y2="119.95" stroke="#808080" stroke-width="1.7" />
<rect x="35.30" y="26.10" width="101.10" height="187.70" fill="none" stroke="#5c5c5c" stroke-width="1.3"/>
<rect x="98.0" y="108.5" width="37" height="10.6" fill="#fff"/>
<text x="99.0" y="117.2" font-size="10.4" stroke="#000" stroke-width="0.14" textLength="10.6" lengthAdjust="spacingAndGlyphs">Se</text>
<rect x="111.6" y="110.0" width="12.6" height="7.4" fill="url(#gLeg)"/>
<text x="125.6" y="117.2" font-size="10.4" stroke="#000" stroke-width="0.14" textLength="7.6" lengthAdjust="spacingAndGlyphs">In</text>
<line x1="256.20" y1="213.80" x2="260.40" y2="213.80" stroke="#222" stroke-width="0.9" />
<text x="254.5" y="217.1" font-size="10.3" stroke="#000" stroke-width="0.14" text-anchor="end">−3</text>
<line x1="256.20" y1="182.52" x2="260.40" y2="182.52" stroke="#222" stroke-width="0.9" />
<text x="254.5" y="185.8" font-size="10.3" stroke="#000" stroke-width="0.14" text-anchor="end">−2</text>
<line x1="256.20" y1="151.23" x2="260.40" y2="151.23" stroke="#222" stroke-width="0.9" />
<text x="254.5" y="154.5" font-size="10.3" stroke="#000" stroke-width="0.14" text-anchor="end">−1</text>
<line x1="256.20" y1="119.95" x2="260.40" y2="119.95" stroke="#222" stroke-width="0.9" />
<text x="254.5" y="123.2" font-size="10.3" stroke="#000" stroke-width="0.14" text-anchor="end">0</text>
<line x1="256.20" y1="88.67" x2="260.40" y2="88.67" stroke="#222" stroke-width="0.9" />
<text x="254.5" y="92.0" font-size="10.3" stroke="#000" stroke-width="0.14" text-anchor="end">1</text>
<line x1="256.20" y1="57.38" x2="260.40" y2="57.38" stroke="#222" stroke-width="0.9" />
<text x="254.5" y="60.7" font-size="10.3" stroke="#000" stroke-width="0.14" text-anchor="end">2</text>
<line x1="256.20" y1="26.10" x2="260.40" y2="26.10" stroke="#222" stroke-width="0.9" />
<text x="254.5" y="29.4" font-size="10.3" stroke="#000" stroke-width="0.14" text-anchor="end">3</text>
<line x1="258.20" y1="198.16" x2="260.40" y2="198.16" stroke="#222" stroke-width="0.8" />
<line x1="258.20" y1="166.88" x2="260.40" y2="166.88" stroke="#222" stroke-width="0.8" />
<line x1="258.20" y1="135.59" x2="260.40" y2="135.59" stroke="#222" stroke-width="0.8" />
<line x1="258.20" y1="104.31" x2="260.40" y2="104.31" stroke="#222" stroke-width="0.8" />
<line x1="258.20" y1="73.03" x2="260.40" y2="73.03" stroke="#222" stroke-width="0.8" />
<line x1="258.20" y1="41.74" x2="260.40" y2="41.74" stroke="#222" stroke-width="0.8" />
<text x="260.4" y="227.6" font-size="11.5" stroke="#000" stroke-width="0.14" text-anchor="middle" class="ser">Γ</text>
<text x="297.2" y="227.4" font-size="10.6" stroke="#000" stroke-width="0.14" text-anchor="middle">M</text>
<text x="318.4" y="227.4" font-size="10.6" stroke="#000" stroke-width="0.14" text-anchor="middle">K</text>
<text x="361.4" y="227.6" font-size="11.5" stroke="#000" stroke-width="0.14" text-anchor="middle" class="ser">Γ</text>
<clipPath id="clB"><rect x="260.40" y="26.10" width="101.00" height="187.70"/></clipPath>
<g clip-path="url(#clB)" fill="none" stroke-linecap="round">
<path d="M260.4 128.8C266.5 128.8 272.7 128.1 278.8 128.2C284.9 128.3 291.1 129.3 297.2 129.3C300.7 129.3 304.3 129.6 307.8 129.8C311.3 130.0 314.9 130.3 318.4 130.3C325.6 130.3 332.7 130.9 339.9 130.7C347.1 130.4 354.2 128.8 361.4 128.8" stroke="#fd0002" stroke-width="0.68"/>
<path d="M260.4 129.3C266.5 129.3 272.7 128.5 278.8 128.2C284.9 127.9 291.1 127.5 297.2 127.5C300.7 127.5 304.3 128.7 307.8 129.3C311.3 130.0 314.9 131.3 318.4 131.3C325.6 131.3 332.7 130.3 339.9 130.0C347.1 129.7 354.2 129.3 361.4 129.3" stroke="#fc0003" stroke-width="0.68"/>
<path d="M260.4 131.0C266.5 131.0 272.7 131.0 278.8 130.9C284.9 130.8 291.1 130.5 297.2 130.5C300.7 130.5 304.3 130.0 307.8 129.7C311.3 129.4 314.9 128.9 318.4 128.9C325.6 128.9 332.7 129.0 339.9 129.4C347.1 129.8 354.2 131.0 361.4 131.0" stroke="#fb0004" stroke-width="0.68"/>
<path d="M260.4 131.4C266.5 131.4 272.7 131.5 278.8 131.6C284.9 131.7 291.1 131.9 297.2 131.9C300.7 131.9 304.3 132.1 307.8 132.2C311.3 132.3 314.9 132.5 318.4 132.5C325.6 132.5 332.7 131.0 339.9 130.9C347.1 130.7 354.2 131.4 361.4 131.4" stroke="#fa0005" stroke-width="0.68"/>
<path d="M260.4 130.9C266.5 130.9 272.7 129.8 278.8 129.6C284.9 129.4 291.1 129.6 297.2 129.6C300.7 129.6 304.3 130.3 307.8 130.7C311.3 131.0 314.9 131.7 318.4 131.7C325.6 131.7 332.7 132.5 339.9 132.4C347.1 132.2 354.2 130.9 361.4 130.9" stroke="#fa0005" stroke-width="0.68"/>
<path d="M260.4 132.3C266.5 132.3 272.7 132.0 278.8 131.7C284.9 131.5 291.1 130.7 297.2 130.7C300.7 130.7 304.3 130.6 307.8 130.6C311.3 130.5 314.9 130.4 318.4 130.4C325.6 130.4 332.7 132.2 339.9 132.5C347.1 132.8 354.2 132.3 361.4 132.3" stroke="#f90006" stroke-width="0.68"/>
<path d="M260.4 133.0C266.5 133.0 272.7 132.4 278.8 132.6C284.9 132.8 291.1 134.0 297.2 134.0C300.7 134.0 304.3 133.9 307.8 133.8C311.3 133.7 314.9 133.6 318.4 133.6C325.6 133.6 332.7 134.3 339.9 134.2C347.1 134.1 354.2 133.0 361.4 133.0" stroke="#f90007" stroke-width="0.68"/>
<path d="M260.4 131.7C266.5 131.7 272.7 131.7 278.8 131.5C284.9 131.3 291.1 130.6 297.2 130.6C300.7 130.6 304.3 132.3 307.8 133.1C311.3 134.0 314.9 135.7 318.4 135.7C325.6 135.7 332.7 134.4 339.9 133.7C347.1 133.1 354.2 131.7 361.4 131.7" stroke="#f80007" stroke-width="0.68"/>
<path d="M260.4 135.0C266.5 135.0 272.7 135.9 278.8 135.8C284.9 135.6 291.1 134.0 297.2 134.0C300.7 134.0 304.3 133.0 307.8 132.4C311.3 131.9 314.9 130.9 318.4 130.9C325.6 130.9 332.7 132.0 339.9 132.7C347.1 133.3 354.2 135.0 361.4 135.0" stroke="#f70008" stroke-width="0.68"/>
<path d="M260.4 135.4C266.5 135.4 272.7 135.8 278.8 135.5C284.9 135.2 291.1 133.6 297.2 133.6C300.7 133.6 304.3 132.9 307.8 132.5C311.3 132.2 314.9 131.5 318.4 131.5C325.6 131.5 332.7 134.4 339.9 135.1C347.1 135.7 354.2 135.4 361.4 135.4" stroke="#f70009" stroke-width="0.68"/>
<path d="M260.4 136.2C266.5 136.2 272.7 137.0 278.8 136.7C284.9 136.4 291.1 134.4 297.2 134.4C300.7 134.4 304.3 135.6 307.8 136.2C311.3 136.8 314.9 138.0 318.4 138.0C325.6 138.0 332.7 137.4 339.9 137.1C347.1 136.8 354.2 136.2 361.4 136.2" stroke="#f60009" stroke-width="0.68"/>
<path d="M260.4 133.8C266.5 133.8 272.7 134.0 278.8 134.4C284.9 134.7 291.1 135.9 297.2 135.9C300.7 135.9 304.3 135.9 307.8 136.0C311.3 136.0 314.9 136.0 318.4 136.0C325.6 136.0 332.7 136.8 339.9 136.4C347.1 136.0 354.2 133.8 361.4 133.8" stroke="#f6000a" stroke-width="0.68"/>
<path d="M260.4 135.6C266.5 135.6 272.7 134.8 278.8 135.3C284.9 135.7 291.1 138.3 297.2 138.3C300.7 138.3 304.3 137.3 307.8 136.7C311.3 136.2 314.9 135.1 318.4 135.1C325.6 135.1 332.7 136.9 339.9 137.0C347.1 137.1 354.2 135.6 361.4 135.6" stroke="#f5000a" stroke-width="0.68"/>
<path d="M260.4 136.3C266.5 136.3 272.7 137.0 278.8 136.9C284.9 136.8 291.1 135.7 297.2 135.7C300.7 135.7 304.3 136.9 307.8 137.4C311.3 138.0 314.9 139.2 318.4 139.2C325.6 139.2 332.7 136.3 339.9 135.9C347.1 135.4 354.2 136.3 361.4 136.3" stroke="#f5000b" stroke-width="0.68"/>
<path d="M260.4 135.2C266.5 135.2 272.7 135.0 278.8 135.9C284.9 136.7 291.1 140.1 297.2 140.1C300.7 140.1 304.3 138.6 307.8 137.8C311.3 137.0 314.9 135.5 318.4 135.5C325.6 135.5 332.7 136.4 339.9 136.4C347.1 136.3 354.2 135.2 361.4 135.2" stroke="#f4000b" stroke-width="0.68"/>
<path d="M260.4 137.3C266.5 137.3 272.7 138.0 278.8 138.6C284.9 139.3 291.1 141.4 297.2 141.4C300.7 141.4 304.3 140.6 307.8 140.1C311.3 139.7 314.9 138.8 318.4 138.8C325.6 138.8 332.7 137.9 339.9 137.7C347.1 137.4 354.2 137.3 361.4 137.3" stroke="#f4000c" stroke-width="0.68"/>
<path d="M260.4 137.2C266.5 137.2 272.7 137.2 278.8 138.0C284.9 138.7 291.1 141.8 297.2 141.8C300.7 141.8 304.3 141.0 307.8 140.7C311.3 140.3 314.9 139.6 318.4 139.6C325.6 139.6 332.7 138.4 339.9 138.0C347.1 137.6 354.2 137.2 361.4 137.2" stroke="#f3000c" stroke-width="0.68"/>
<path d="M260.4 139.1C266.5 139.1 272.7 139.0 278.8 139.1C284.9 139.2 291.1 139.8 297.2 139.8C300.7 139.8 304.3 138.1 307.8 137.3C311.3 136.4 314.9 134.7 318.4 134.7C325.6 134.7 332.7 138.3 339.9 139.0C347.1 139.7 354.2 139.1 361.4 139.1" stroke="#f3000d" stroke-width="0.68"/>
<path d="M260.4 138.2C266.5 138.2 272.7 140.4 278.8 140.9C284.9 141.4 291.1 141.0 297.2 141.0C300.7 141.0 304.3 140.7 307.8 140.6C311.3 140.4 314.9 140.1 318.4 140.1C325.6 140.1 332.7 139.7 339.9 139.4C347.1 139.1 354.2 138.2 361.4 138.2" stroke="#f2000d" stroke-width="0.68"/>
<path d="M260.4 140.9C266.5 140.9 272.7 143.7 278.8 144.2C284.9 144.7 291.1 143.9 297.2 143.9C300.7 143.9 304.3 142.2 307.8 141.4C311.3 140.6 314.9 139.0 318.4 139.0C325.6 139.0 332.7 138.3 339.9 138.6C347.1 139.0 354.2 140.9 361.4 140.9" stroke="#f2000e" stroke-width="0.68"/>
<path d="M260.4 142.9C266.5 142.9 272.7 141.3 278.8 140.5C284.9 139.7 291.1 138.1 297.2 138.1C300.7 138.1 304.3 138.0 307.8 138.0C311.3 137.9 314.9 137.9 318.4 137.9C325.6 137.9 332.7 138.6 339.9 139.4C347.1 140.3 354.2 142.9 361.4 142.9" stroke="#f1000e" stroke-width="0.68"/>
<path d="M260.4 142.5C266.5 142.5 272.7 142.7 278.8 142.1C284.9 141.5 291.1 139.1 297.2 139.1C300.7 139.1 304.3 140.1 307.8 140.6C311.3 141.1 314.9 142.0 318.4 142.0C325.6 142.0 332.7 140.0 339.9 140.1C347.1 140.2 354.2 142.5 361.4 142.5" stroke="#f1000f" stroke-width="0.68"/>
<path d="M260.4 142.4C266.5 142.4 272.7 143.3 278.8 143.4C284.9 143.6 291.1 143.2 297.2 143.2C300.7 143.2 304.3 141.6 307.8 140.8C311.3 140.0 314.9 138.4 318.4 138.4C325.6 138.4 332.7 138.9 339.9 139.6C347.1 140.3 354.2 142.4 361.4 142.4" stroke="#f0000f" stroke-width="0.68"/>
<path d="M260.4 144.2C266.5 144.2 272.7 144.7 278.8 143.9C284.9 143.0 291.1 139.1 297.2 139.1C300.7 139.1 304.3 141.0 307.8 142.0C311.3 143.0 314.9 145.0 318.4 145.0C325.6 145.0 332.7 142.3 339.9 142.2C347.1 142.1 354.2 144.2 361.4 144.2" stroke="#f00010" stroke-width="0.68"/>
<path d="M260.4 144.8C266.5 144.8 272.7 142.2 278.8 141.1C284.9 140.1 291.1 138.5 297.2 138.5C300.7 138.5 304.3 138.4 307.8 138.3C311.3 138.3 314.9 138.1 318.4 138.1C325.6 138.1 332.7 142.9 339.9 144.0C347.1 145.1 354.2 144.8 361.4 144.8" stroke="#ef0010" stroke-width="0.68"/>
<path d="M260.4 146.0C266.5 146.0 272.7 145.7 278.8 145.8C284.9 146.0 291.1 146.8 297.2 146.8C300.7 146.8 304.3 146.2 307.8 145.9C311.3 145.5 314.9 144.9 318.4 144.9C325.6 144.9 332.7 142.8 339.9 143.0C347.1 143.2 354.2 146.0 361.4 146.0" stroke="#ef0011" stroke-width="0.68"/>
<path d="M260.4 140.8C266.5 140.8 272.7 144.9 278.8 145.6C284.9 146.3 291.1 144.9 297.2 144.9C300.7 144.9 304.3 144.3 307.8 143.1C311.3 141.9 314.9 137.8 318.4 137.8C325.6 137.8 332.7 138.4 339.9 138.9C347.1 139.4 354.2 140.8 361.4 140.8" stroke="#f3000d" stroke-width="0.68"/>
<path d="M260.4 137.1C266.5 137.1 272.7 138.9 278.8 140.5C284.9 142.2 291.1 147.1 297.2 147.1C300.7 147.1 304.3 143.8 307.8 142.7C311.3 141.6 314.9 140.6 318.4 140.6C325.6 140.6 332.7 140.3 339.9 139.7C347.1 139.1 354.2 137.1 361.4 137.1" stroke="#f2000e" stroke-width="0.68"/>
<path d="M260.4 135.4C266.5 135.4 272.7 136.9 278.8 138.7C284.9 140.5 291.1 146.2 297.2 146.2C300.7 146.2 304.3 141.5 307.8 140.0C311.3 138.5 314.9 137.0 318.4 137.0C325.6 137.0 332.7 136.5 339.9 136.2C347.1 136.0 354.2 135.4 361.4 135.4" stroke="#f1000e" stroke-width="0.68"/>
<path d="M260.4 146.9C266.5 146.9 272.7 150.2 278.8 150.5C284.9 150.9 291.1 149.1 297.2 149.1C300.7 149.1 304.3 145.9 307.8 144.5C311.3 143.2 314.9 141.0 318.4 141.0C325.6 141.0 332.7 146.2 339.9 147.1C347.1 148.1 354.2 146.9 361.4 146.9" stroke="#f1000f" stroke-width="0.68"/>
<path d="M260.4 138.6C266.5 138.6 272.7 143.9 278.8 145.3C284.9 146.7 291.1 147.1 297.2 147.1C300.7 147.1 304.3 148.5 307.8 149.0C311.3 149.6 314.9 150.6 318.4 150.6C325.6 150.6 332.7 146.2 339.9 144.2C347.1 142.2 354.2 138.6 361.4 138.6" stroke="#f00010" stroke-width="0.68"/>
<path d="M260.4 144.8C266.5 144.8 272.7 142.7 278.8 143.4C284.9 144.1 291.1 148.8 297.2 148.8C300.7 148.8 304.3 146.9 307.8 146.1C311.3 145.2 314.9 143.6 318.4 143.6C325.6 143.6 332.7 140.6 339.9 140.8C347.1 141.0 354.2 144.8 361.4 144.8" stroke="#ef0011" stroke-width="0.68"/>
<path d="M260.4 150.5C266.5 150.5 272.7 145.3 278.8 142.9C284.9 140.4 291.1 135.8 297.2 135.8C300.7 135.8 304.3 136.3 307.8 136.6C311.3 136.9 314.9 137.6 318.4 137.6C325.6 137.6 332.7 141.6 339.9 143.8C347.1 145.9 354.2 150.5 361.4 150.5" stroke="#ef0011" stroke-width="0.68"/>
<path d="M260.4 139.5C266.5 139.5 272.7 143.5 278.8 145.6C284.9 147.8 291.1 152.4 297.2 152.4C300.7 152.4 304.3 150.0 307.8 148.4C311.3 146.7 314.9 142.7 318.4 142.7C325.6 142.7 332.7 139.9 339.9 139.4C347.1 138.9 354.2 139.5 361.4 139.5" stroke="#ee0012" stroke-width="0.68"/>
<path d="M260.4 143.0C266.5 143.0 272.7 146.6 278.8 148.2C284.9 149.8 291.1 152.7 297.2 152.7C300.7 152.7 304.3 149.3 307.8 147.7C311.3 146.0 314.9 142.6 318.4 142.6C325.6 142.6 332.7 141.7 339.9 141.7C347.1 141.8 354.2 143.0 361.4 143.0" stroke="#ed0013" stroke-width="0.68"/>
<path d="M260.4 152.9C266.5 152.9 272.7 147.4 278.8 146.1C284.9 144.8 291.1 145.1 297.2 145.1C300.7 145.1 304.3 147.5 307.8 148.2C311.3 148.8 314.9 149.0 318.4 149.0C325.6 149.0 332.7 147.8 339.9 148.5C347.1 149.1 354.2 152.9 361.4 152.9" stroke="#ed0013" stroke-width="0.68"/>
<path d="M260.4 144.6C266.5 144.6 272.7 148.5 278.8 148.6C284.9 148.8 291.1 145.6 297.2 145.6C300.7 145.6 304.3 143.8 307.8 143.1C311.3 142.4 314.9 141.4 318.4 141.4C325.6 141.4 332.7 141.6 339.9 142.1C347.1 142.7 354.2 144.6 361.4 144.6" stroke="#ec0014" stroke-width="0.68"/>
<path d="M260.4 146.2C266.5 146.2 272.7 149.9 278.8 150.6C284.9 151.2 291.1 150.2 297.2 150.2C300.7 150.2 304.3 151.6 307.8 152.6C311.3 153.5 314.9 155.9 318.4 155.9C325.6 155.9 332.7 155.1 339.9 153.5C347.1 151.9 354.2 146.2 361.4 146.2" stroke="#ec0015" stroke-width="0.68"/>
<path d="M260.4 155.4C266.5 155.4 272.7 154.0 278.8 153.4C284.9 152.8 291.1 152.0 297.2 152.0C300.7 152.0 304.3 153.3 307.8 153.0C311.3 152.7 314.9 150.0 318.4 150.0C325.6 150.0 332.7 149.7 339.9 150.6C347.1 151.5 354.2 155.4 361.4 155.4" stroke="#eb0015" stroke-width="0.68"/>
<path d="M260.4 152.6C266.5 152.6 272.7 146.8 278.8 145.7C284.9 144.5 291.1 145.6 297.2 145.6C300.7 145.6 304.3 149.6 307.8 151.8C311.3 153.9 314.9 158.7 318.4 158.7C325.6 158.7 332.7 153.1 339.9 152.0C347.1 151.0 354.2 152.6 361.4 152.6" stroke="#ea0016" stroke-width="0.68"/>
<path d="M260.4 144.7C266.5 144.7 272.7 146.2 278.8 146.3C284.9 146.5 291.1 145.7 297.2 145.7C300.7 145.7 304.3 150.9 307.8 152.9C311.3 155.0 314.9 157.9 318.4 157.9C325.6 157.9 332.7 151.4 339.9 149.2C347.1 147.0 354.2 144.7 361.4 144.7" stroke="#ea0016" stroke-width="0.68"/>
<path d="M260.4 156.3C266.5 156.3 272.7 159.4 278.8 159.5C284.9 159.6 291.1 156.9 297.2 156.9C300.7 156.9 304.3 155.6 307.8 156.0C311.3 156.3 314.9 158.7 318.4 158.7C325.6 158.7 332.7 154.3 339.9 153.9C347.1 153.5 354.2 156.3 361.4 156.3" stroke="#e90017" stroke-width="0.68"/>
<path d="M260.4 154.8C266.5 154.8 272.7 152.7 278.8 151.7C284.9 150.7 291.1 149.0 297.2 149.0C300.7 149.0 304.3 151.1 307.8 151.8C311.3 152.6 314.9 153.6 318.4 153.6C325.6 153.6 332.7 153.0 339.9 153.2C347.1 153.4 354.2 154.8 361.4 154.8" stroke="#e90018" stroke-width="0.68"/>
<path d="M260.4 157.5C266.5 157.5 272.7 160.0 278.8 160.1C284.9 160.2 291.1 158.1 297.2 158.1C300.7 158.1 304.3 156.8 307.8 156.1C311.3 155.4 314.9 153.6 318.4 153.6C325.6 153.6 332.7 151.6 339.9 152.2C347.1 152.8 354.2 157.5 361.4 157.5" stroke="#e80018" stroke-width="0.68"/>
<path d="M260.4 161.3C266.5 161.3 272.7 164.7 278.8 164.8C284.9 164.8 291.1 161.5 297.2 161.5C300.7 161.5 304.3 158.7 307.8 156.7C311.3 154.7 314.9 149.8 318.4 149.8C325.6 149.8 332.7 150.9 339.9 152.8C347.1 154.8 354.2 161.3 361.4 161.3" stroke="#e70019" stroke-width="0.68"/>
<path d="M260.4 154.3C266.5 154.3 272.7 158.0 278.8 159.1C284.9 160.1 291.1 160.4 297.2 160.4C300.7 160.4 304.3 162.2 307.8 162.6C311.3 163.1 314.9 163.2 318.4 163.2C325.6 163.2 332.7 157.9 339.9 156.4C347.1 155.0 354.2 154.3 361.4 154.3" stroke="#e7001a" stroke-width="0.68"/>
<path d="M260.4 150.2C266.5 150.2 272.7 147.4 278.8 147.7C284.9 148.0 291.1 151.8 297.2 151.8C300.7 151.8 304.3 149.5 307.8 149.2C311.3 148.9 314.9 149.8 318.4 149.8C325.6 149.8 332.7 146.7 339.9 146.8C347.1 146.9 354.2 150.2 361.4 150.2" stroke="#e6001a" stroke-width="0.68"/>
<path d="M260.4 151.2C266.5 151.2 272.7 157.5 278.8 159.7C284.9 161.9 291.1 164.3 297.2 164.3C300.7 164.3 304.3 162.6 307.8 162.0C311.3 161.4 314.9 160.6 318.4 160.6C325.6 160.6 332.7 157.5 339.9 155.9C347.1 154.4 354.2 151.2 361.4 151.2" stroke="#e6001b" stroke-width="0.68"/>
<path d="M260.4 160.4C266.5 160.4 272.7 160.1 278.8 158.8C284.9 157.5 291.1 152.7 297.2 152.7C300.7 152.7 304.3 156.1 307.8 157.3C311.3 158.6 314.9 160.1 318.4 160.1C325.6 160.1 332.7 160.5 339.9 160.6C347.1 160.6 354.2 160.4 361.4 160.4" stroke="#e5001b" stroke-width="0.68"/>
<path d="M260.4 157.8C266.5 157.8 272.7 160.3 278.8 160.3C284.9 160.4 291.1 158.1 297.2 158.1C300.7 158.1 304.3 159.2 307.8 159.6C311.3 160.0 314.9 160.3 318.4 160.3C325.6 160.3 332.7 160.8 339.9 160.4C347.1 159.9 354.2 157.8 361.4 157.8" stroke="#e5001c" stroke-width="0.68"/>
<path d="M260.4 164.6C266.5 164.6 272.7 161.3 278.8 160.4C284.9 159.5 291.1 159.4 297.2 159.4C300.7 159.4 304.3 160.7 307.8 161.7C311.3 162.7 314.9 165.4 318.4 165.4C325.6 165.4 332.7 167.9 339.9 167.8C347.1 167.6 354.2 164.6 361.4 164.6" stroke="#e4001c" stroke-width="0.68"/>
<path d="M260.4 159.3C266.5 159.3 272.7 160.0 278.8 160.8C284.9 161.5 291.1 163.8 297.2 163.8C300.7 163.8 304.3 162.1 307.8 161.8C311.3 161.4 314.9 161.9 318.4 161.9C325.6 161.9 332.7 158.2 339.9 157.7C347.1 157.3 354.2 159.3 361.4 159.3" stroke="#e3001d" stroke-width="0.68"/>
<path d="M260.4 158.8C266.5 158.8 272.7 162.7 278.8 164.0C284.9 165.4 291.1 166.8 297.2 166.8C300.7 166.8 304.3 167.0 307.8 166.0C311.3 165.1 314.9 161.2 318.4 161.2C325.6 161.2 332.7 160.0 339.9 159.6C347.1 159.2 354.2 158.8 361.4 158.8" stroke="#e3001e" stroke-width="0.68"/>
<path d="M260.4 163.2C266.5 163.2 272.7 158.5 278.8 157.4C284.9 156.3 291.1 156.6 297.2 156.6C300.7 156.6 304.3 159.6 307.8 161.1C311.3 162.7 314.9 165.8 318.4 165.8C325.6 165.8 332.7 168.0 339.9 167.5C347.1 167.1 354.2 163.2 361.4 163.2" stroke="#e2001e" stroke-width="0.68"/>
<path d="M260.4 160.8C266.5 160.8 272.7 166.2 278.8 167.3C284.9 168.4 291.1 167.3 297.2 167.3C300.7 167.3 304.3 168.0 307.8 167.3C311.3 166.6 314.9 163.1 318.4 163.1C325.6 163.1 332.7 159.1 339.9 158.8C347.1 158.4 354.2 160.8 361.4 160.8" stroke="#e2001f" stroke-width="0.68"/>
<path d="M260.4 170.8C266.5 170.8 272.7 173.8 278.8 173.7C284.9 173.7 291.1 170.5 297.2 170.5C300.7 170.5 304.3 169.1 307.8 169.0C311.3 169.0 314.9 170.3 318.4 170.3C325.6 170.3 332.7 166.7 339.9 166.8C347.1 166.8 354.2 170.8 361.4 170.8" stroke="#e1001f" stroke-width="0.68"/>
<path d="M260.4 163.5C266.5 163.5 272.7 164.7 278.8 165.3C284.9 165.9 291.1 167.2 297.2 167.2C300.7 167.2 304.3 166.0 307.8 164.6C311.3 163.2 314.9 158.9 318.4 158.9C325.6 158.9 332.7 159.0 339.9 159.7C347.1 160.5 354.2 163.5 361.4 163.5" stroke="#e10020" stroke-width="0.68"/>
<path d="M260.4 168.3C266.5 168.3 272.7 169.8 278.8 170.1C284.9 170.5 291.1 170.2 297.2 170.2C300.7 170.2 304.3 171.3 307.8 171.2C311.3 171.0 314.9 169.4 318.4 169.4C325.6 169.4 332.7 168.2 339.9 168.0C347.1 167.8 354.2 168.3 361.4 168.3" stroke="#e00020" stroke-width="0.68"/>
<path d="M260.4 162.3C266.5 162.3 272.7 162.1 278.8 162.8C284.9 163.4 291.1 166.1 297.2 166.1C300.7 166.1 304.3 171.2 307.8 172.8C311.3 174.4 314.9 175.5 318.4 175.5C325.6 175.5 332.7 171.3 339.9 169.1C347.1 166.9 354.2 162.3 361.4 162.3" stroke="#e00021" stroke-width="0.68"/>
<path d="M260.4 163.2C266.5 163.2 272.7 161.9 278.8 162.2C284.9 162.6 291.1 165.1 297.2 165.1C300.7 165.1 304.3 164.8 307.8 164.2C311.3 163.5 314.9 161.2 318.4 161.2C325.6 161.2 332.7 164.6 339.9 164.9C347.1 165.3 354.2 163.2 361.4 163.2" stroke="#df0022" stroke-width="0.68"/>
<path d="M260.4 169.7C266.5 169.7 272.7 169.7 278.8 169.1C284.9 168.5 291.1 166.0 297.2 166.0C300.7 166.0 304.3 167.5 307.8 168.7C311.3 170.0 314.9 173.6 318.4 173.6C325.6 173.6 332.7 173.4 339.9 172.8C347.1 172.1 354.2 169.7 361.4 169.7" stroke="#df0022" stroke-width="0.68"/>
<path d="M260.4 168.5C266.5 168.5 272.7 172.4 278.8 172.4C284.9 172.5 291.1 169.1 297.2 169.1C300.7 169.1 304.3 168.3 307.8 167.2C311.3 166.2 314.9 162.7 318.4 162.7C325.6 162.7 332.7 162.5 339.9 163.5C347.1 164.5 354.2 168.5 361.4 168.5" stroke="#de0023" stroke-width="0.68"/>
<path d="M260.4 168.5C266.5 168.5 272.7 173.7 278.8 175.3C284.9 176.8 291.1 177.6 297.2 177.6C300.7 177.6 304.3 177.2 307.8 177.1C311.3 177.0 314.9 177.0 318.4 177.0C325.6 177.0 332.7 171.1 339.9 169.7C347.1 168.3 354.2 168.5 361.4 168.5" stroke="#de0023" stroke-width="0.68"/>
<path d="M260.4 175.5C266.5 175.5 272.7 176.5 278.8 176.7C284.9 176.9 291.1 176.7 297.2 176.7C300.7 176.7 304.3 172.5 307.8 171.2C311.3 169.8 314.9 168.5 318.4 168.5C325.6 168.5 332.7 167.1 339.9 168.2C347.1 169.4 354.2 175.5 361.4 175.5" stroke="#dd0024" stroke-width="0.68"/>
<path d="M260.4 166.7C266.5 166.7 272.7 170.8 278.8 171.1C284.9 171.5 291.1 168.9 297.2 168.9C300.7 168.9 304.3 168.9 307.8 169.5C311.3 170.1 314.9 172.6 318.4 172.6C325.6 172.6 332.7 171.4 339.9 170.4C347.1 169.4 354.2 166.7 361.4 166.7" stroke="#dd0024" stroke-width="0.68"/>
<path d="M260.4 174.0C266.5 174.0 272.7 172.6 278.8 172.2C284.9 171.7 291.1 171.2 297.2 171.2C300.7 171.2 304.3 167.6 307.8 166.7C311.3 165.7 314.9 165.6 318.4 165.6C325.6 165.6 332.7 164.9 339.9 166.3C347.1 167.6 354.2 174.0 361.4 174.0" stroke="#dc0025" stroke-width="0.68"/>
<path d="M260.4 180.0C266.5 180.0 272.7 176.9 278.8 176.4C284.9 175.8 291.1 176.8 297.2 176.8C300.7 176.8 304.3 171.8 307.8 170.3C311.3 168.8 314.9 167.8 318.4 167.8C325.6 167.8 332.7 174.2 339.9 176.3C347.1 178.3 354.2 180.0 361.4 180.0" stroke="#dc0025" stroke-width="0.68"/>
<path d="M260.4 174.8C266.5 174.8 272.7 171.2 278.8 170.1C284.9 168.9 291.1 167.9 297.2 167.9C300.7 167.9 304.3 168.1 307.8 169.2C311.3 170.3 314.9 174.6 318.4 174.6C325.6 174.6 332.7 177.1 339.9 177.2C347.1 177.2 354.2 174.8 361.4 174.8" stroke="#db0026" stroke-width="0.68"/>
<path d="M260.4 182.1C266.5 182.1 272.7 180.4 278.8 178.4C284.9 176.4 291.1 170.1 297.2 170.1C300.7 170.1 304.3 170.3 307.8 171.0C311.3 171.8 314.9 174.8 318.4 174.8C325.6 174.8 332.7 178.9 339.9 180.1C347.1 181.3 354.2 182.1 361.4 182.1" stroke="#db0026" stroke-width="0.68"/>
<path d="M260.4 182.0C266.5 182.0 272.7 182.2 278.8 181.9C284.9 181.7 291.1 180.4 297.2 180.4C300.7 180.4 304.3 180.7 307.8 181.5C311.3 182.2 314.9 184.9 318.4 184.9C325.6 184.9 332.7 184.3 339.9 183.8C347.1 183.3 354.2 182.0 361.4 182.0" stroke="#da0027" stroke-width="0.68"/>
<path d="M260.4 171.6C266.5 171.6 272.7 179.0 278.8 181.3C284.9 183.7 291.1 185.6 297.2 185.6C300.7 185.6 304.3 184.6 307.8 184.2C311.3 183.8 314.9 183.4 318.4 183.4C325.6 183.4 332.7 181.8 339.9 179.8C347.1 177.8 354.2 171.6 361.4 171.6" stroke="#da0027" stroke-width="0.68"/>
<path d="M260.4 176.5C266.5 176.5 272.7 174.5 278.8 174.8C284.9 175.2 291.1 178.4 297.2 178.4C300.7 178.4 304.3 176.8 307.8 176.7C311.3 176.5 314.9 177.4 318.4 177.4C325.6 177.4 332.7 173.9 339.9 173.8C347.1 173.6 354.2 176.5 361.4 176.5" stroke="#d90028" stroke-width="0.68"/>
<path d="M260.4 184.4C266.5 184.4 272.7 184.3 278.8 183.8C284.9 183.4 291.1 181.7 297.2 181.7C300.7 181.7 304.3 179.3 307.8 177.7C311.3 176.1 314.9 171.9 318.4 171.9C325.6 171.9 332.7 176.2 339.9 178.3C347.1 180.4 354.2 184.4 361.4 184.4" stroke="#d90028" stroke-width="0.68"/>
<path d="M260.4 184.9C266.5 184.9 272.7 184.6 278.8 182.9C284.9 181.2 291.1 174.7 297.2 174.7C300.7 174.7 304.3 173.9 307.8 174.5C311.3 175.1 314.9 178.3 318.4 178.3C325.6 178.3 332.7 180.3 339.9 181.4C347.1 182.5 354.2 184.9 361.4 184.9" stroke="#d80029" stroke-width="0.68"/>
<path d="M260.4 184.8C266.5 184.8 272.7 184.2 278.8 183.3C284.9 182.5 291.1 179.5 297.2 179.5C300.7 179.5 304.3 179.7 307.8 178.8C311.3 177.8 314.9 173.9 318.4 173.9C325.6 173.9 332.7 179.8 339.9 181.6C347.1 183.4 354.2 184.8 361.4 184.8" stroke="#d80029" stroke-width="0.68"/>
<path d="M260.4 188.3C266.5 188.3 272.7 183.5 278.8 182.4C284.9 181.3 291.1 181.9 297.2 181.9C300.7 181.9 304.3 184.3 307.8 184.9C311.3 185.5 314.9 185.5 318.4 185.5C325.6 185.5 332.7 190.1 339.9 190.6C347.1 191.1 354.2 188.3 361.4 188.3" stroke="#d7002a" stroke-width="0.68"/>
<path d="M260.4 183.7C266.5 183.7 272.7 187.8 278.8 188.7C284.9 189.7 291.1 189.6 297.2 189.6C300.7 189.6 304.3 189.9 307.8 189.4C311.3 188.8 314.9 186.4 318.4 186.4C325.6 186.4 332.7 184.5 339.9 184.0C347.1 183.6 354.2 183.7 361.4 183.7" stroke="#d7002a" stroke-width="0.68"/>
<path d="M260.4 178.2C266.5 178.2 272.7 182.3 278.8 183.6C284.9 185.0 291.1 186.3 297.2 186.3C300.7 186.3 304.3 183.0 307.8 182.3C311.3 181.5 314.9 181.8 318.4 181.8C325.6 181.8 332.7 180.2 339.9 179.6C347.1 179.0 354.2 178.2 361.4 178.2" stroke="#d6002b" stroke-width="0.68"/>
<path d="M260.4 191.4C266.5 191.4 272.7 191.3 278.8 189.6C284.9 187.8 291.1 180.9 297.2 180.9C300.7 180.9 304.3 185.9 307.8 187.4C311.3 188.9 314.9 189.9 318.4 189.9C325.6 189.9 332.7 187.8 339.9 188.0C347.1 188.3 354.2 191.4 361.4 191.4" stroke="#d6002b" stroke-width="0.68"/>
<path d="M260.4 183.1C266.5 183.1 272.7 183.2 278.8 184.1C284.9 185.0 291.1 188.3 297.2 188.3C300.7 188.3 304.3 189.0 307.8 188.4C311.3 187.8 314.9 184.9 318.4 184.9C325.6 184.9 332.7 182.7 339.9 182.4C347.1 182.1 354.2 183.1 361.4 183.1" stroke="#d5002c" stroke-width="0.68"/>
<path d="M260.4 184.0C266.5 184.0 272.7 181.9 278.8 181.1C284.9 180.3 291.1 179.3 297.2 179.3C300.7 179.3 304.3 184.2 307.8 186.7C311.3 189.2 314.9 194.2 318.4 194.2C325.6 194.2 332.7 188.2 339.9 186.5C347.1 184.7 354.2 184.0 361.4 184.0" stroke="#d5002c" stroke-width="0.68"/>
<path d="M260.4 189.5C266.5 189.5 272.7 189.1 278.8 188.4C284.9 187.6 291.1 184.9 297.2 184.9C300.7 184.9 304.3 183.5 307.8 182.9C311.3 182.2 314.9 181.0 318.4 181.0C325.6 181.0 332.7 180.8 339.9 182.2C347.1 183.7 354.2 189.5 361.4 189.5" stroke="#d4002d" stroke-width="0.68"/>
<path d="M260.4 194.8C266.5 194.8 272.7 190.4 278.8 188.0C284.9 185.6 291.1 180.5 297.2 180.5C300.7 180.5 304.3 185.2 307.8 187.0C311.3 188.9 314.9 191.7 318.4 191.7C325.6 191.7 332.7 190.5 339.9 191.0C347.1 191.5 354.2 194.8 361.4 194.8" stroke="#d4002d" stroke-width="0.68"/>
<path d="M260.4 189.0C266.5 189.0 272.7 184.9 278.8 184.2C284.9 183.6 291.1 185.3 297.2 185.3C300.7 185.3 304.3 187.5 307.8 189.3C311.3 191.1 314.9 196.1 318.4 196.1C325.6 196.1 332.7 192.4 339.9 191.2C347.1 190.0 354.2 189.0 361.4 189.0" stroke="#d3002e" stroke-width="0.68"/>
<path d="M260.4 194.1C266.5 194.1 272.7 197.5 278.8 197.5C284.9 197.6 291.1 194.4 297.2 194.4C300.7 194.4 304.3 191.4 307.8 190.8C311.3 190.3 314.9 191.1 318.4 191.1C325.6 191.1 332.7 192.8 339.9 193.3C347.1 193.8 354.2 194.1 361.4 194.1" stroke="#d3002e" stroke-width="0.68"/>
<path d="M260.4 185.1C266.5 185.1 272.7 186.6 278.8 188.6C284.9 190.5 291.1 196.6 297.2 196.6C300.7 196.6 304.3 193.3 307.8 192.0C311.3 190.7 314.9 188.7 318.4 188.7C325.6 188.7 332.7 188.1 339.9 187.5C347.1 186.9 354.2 185.1 361.4 185.1" stroke="#d2002f" stroke-width="0.68"/>
<path d="M260.4 198.6C266.5 198.6 272.7 193.4 278.8 192.5C284.9 191.6 291.1 193.2 297.2 193.2C300.7 193.2 304.3 191.4 307.8 191.6C311.3 191.7 314.9 194.0 318.4 194.0C325.6 194.0 332.7 192.0 339.9 192.8C347.1 193.6 354.2 198.6 361.4 198.6" stroke="#d2002f" stroke-width="0.68"/>
<path d="M260.4 186.5C266.5 186.5 272.7 192.1 278.8 194.1C284.9 196.1 291.1 198.6 297.2 198.6C300.7 198.6 304.3 201.4 307.8 201.8C311.3 202.2 314.9 200.9 318.4 200.9C325.6 200.9 332.7 199.0 339.9 196.6C347.1 194.2 354.2 186.5 361.4 186.5" stroke="#d20030" stroke-width="0.68"/>
<path d="M260.4 192.8C266.5 192.8 272.7 195.8 278.8 196.8C284.9 197.8 291.1 198.9 297.2 198.9C300.7 198.9 304.3 197.6 307.8 196.4C311.3 195.3 314.9 192.0 318.4 192.0C325.6 192.0 332.7 188.7 339.9 188.9C347.1 189.0 354.2 192.8 361.4 192.8" stroke="#d10030" stroke-width="0.68"/>
<path d="M260.4 199.0C266.5 199.0 272.7 194.2 278.8 192.4C284.9 190.6 291.1 188.3 297.2 188.3C300.7 188.3 304.3 191.8 307.8 192.8C311.3 193.8 314.9 194.3 318.4 194.3C325.6 194.3 332.7 194.0 339.9 194.8C347.1 195.6 354.2 199.0 361.4 199.0" stroke="#d10031" stroke-width="0.68"/>
<path d="M260.4 190.4C266.5 190.4 272.7 192.7 278.8 194.4C284.9 196.1 291.1 200.8 297.2 200.8C300.7 200.8 304.3 199.3 307.8 198.5C311.3 197.8 314.9 196.1 318.4 196.1C325.6 196.1 332.7 192.3 339.9 191.3C347.1 190.4 354.2 190.4 361.4 190.4" stroke="#d00031" stroke-width="0.68"/>
<path d="M260.4 194.6C266.5 194.6 272.7 194.2 278.8 195.1C284.9 195.9 291.1 199.7 297.2 199.7C300.7 199.7 304.3 197.8 307.8 196.7C311.3 195.7 314.9 193.5 318.4 193.5C325.6 193.5 332.7 193.2 339.9 193.3C347.1 193.5 354.2 194.6 361.4 194.6" stroke="#d00032" stroke-width="0.68"/>
<path d="M260.4 195.6C266.5 195.6 272.7 197.0 278.8 197.4C284.9 197.8 291.1 197.8 297.2 197.8C300.7 197.8 304.3 198.8 307.8 199.9C311.3 201.0 314.9 204.4 318.4 204.4C325.6 204.4 332.7 199.7 339.9 198.3C347.1 196.8 354.2 195.6 361.4 195.6" stroke="#cf0032" stroke-width="0.68"/>
<path d="M260.4 204.1C266.5 204.1 272.7 202.0 278.8 201.1C284.9 200.2 291.1 198.7 297.2 198.7C300.7 198.7 304.3 199.5 307.8 199.2C311.3 198.9 314.9 196.8 318.4 196.8C325.6 196.8 332.7 198.1 339.9 199.3C347.1 200.5 354.2 204.1 361.4 204.1" stroke="#cf0033" stroke-width="0.68"/>
<path d="M260.4 196.5C266.5 196.5 272.7 196.6 278.8 197.0C284.9 197.3 291.1 198.6 297.2 198.6C300.7 198.6 304.3 198.4 307.8 197.2C311.3 196.1 314.9 191.8 318.4 191.8C325.6 191.8 332.7 195.0 339.9 195.8C347.1 196.6 354.2 196.5 361.4 196.5" stroke="#ce0033" stroke-width="0.68"/>
<path d="M260.4 197.4C266.5 197.4 272.7 199.1 278.8 200.8C284.9 202.4 291.1 207.2 297.2 207.2C300.7 207.2 304.3 201.1 307.8 198.6C311.3 196.1 314.9 192.2 318.4 192.2C325.6 192.2 332.7 196.5 339.9 197.3C347.1 198.2 354.2 197.4 361.4 197.4" stroke="#ce0034" stroke-width="0.68"/>
<path d="M260.4 207.6C266.5 207.6 272.7 203.8 278.8 201.6C284.9 199.4 291.1 194.7 297.2 194.7C300.7 194.7 304.3 196.6 307.8 197.7C311.3 198.7 314.9 200.8 318.4 200.8C325.6 200.8 332.7 201.0 339.9 202.2C347.1 203.3 354.2 207.6 361.4 207.6" stroke="#cd0034" stroke-width="0.68"/>
<path d="M260.4 203.6C266.5 203.6 272.7 197.8 278.8 196.8C284.9 195.7 291.1 197.3 297.2 197.3C300.7 197.3 304.3 199.9 307.8 201.6C311.3 203.3 314.9 207.6 318.4 207.6C325.6 207.6 332.7 207.6 339.9 207.0C347.1 206.3 354.2 203.6 361.4 203.6" stroke="#cd0035" stroke-width="0.68"/>
<path d="M260.4 203.1C266.5 203.1 272.7 199.3 278.8 198.2C284.9 197.0 291.1 196.3 297.2 196.3C300.7 196.3 304.3 197.7 307.8 199.3C311.3 200.8 314.9 205.7 318.4 205.7C325.6 205.7 332.7 201.3 339.9 200.9C347.1 200.4 354.2 203.1 361.4 203.1" stroke="#cd0035" stroke-width="0.68"/>
<path d="M260.4 206.9C266.5 206.9 272.7 201.8 278.8 200.5C284.9 199.1 291.1 198.7 297.2 198.7C300.7 198.7 304.3 201.5 307.8 202.0C311.3 202.6 314.9 201.8 318.4 201.8C325.6 201.8 332.7 204.2 339.9 205.0C347.1 205.9 354.2 206.9 361.4 206.9" stroke="#cc0036" stroke-width="0.68"/>
<path d="M260.4 205.2C266.5 205.2 272.7 206.7 278.8 205.7C284.9 204.7 291.1 199.2 297.2 199.2C300.7 199.2 304.3 202.5 307.8 203.5C311.3 204.5 314.9 205.3 318.4 205.3C325.6 205.3 332.7 202.8 339.9 202.7C347.1 202.7 354.2 205.2 361.4 205.2" stroke="#cc0036" stroke-width="0.68"/>
<path d="M260.4 200.2C266.5 200.2 272.7 199.5 278.8 200.1C284.9 200.8 291.1 204.2 297.2 204.2C300.7 204.2 304.3 205.4 307.8 206.8C311.3 208.2 314.9 212.5 318.4 212.5C325.6 212.5 332.7 210.0 339.9 208.0C347.1 205.9 354.2 200.2 361.4 200.2" stroke="#cb0037" stroke-width="0.68"/>
<path d="M260.4 206.5C266.5 206.5 272.7 205.9 278.8 206.4C284.9 207.0 291.1 209.8 297.2 209.8C300.7 209.8 304.3 212.6 307.8 213.3C311.3 213.9 314.9 213.8 318.4 213.8C325.6 213.8 332.7 214.6 339.9 213.3C347.1 212.1 354.2 206.5 361.4 206.5" stroke="#cb0037" stroke-width="0.68"/>
<path d="M260.4 201.7C266.5 201.7 272.7 203.4 278.8 205.4C284.9 207.5 291.1 214.0 297.2 214.0C300.7 214.0 304.3 211.3 307.8 209.5C311.3 207.6 314.9 202.8 318.4 202.8C325.6 202.8 332.7 203.4 339.9 203.2C347.1 203.0 354.2 201.7 361.4 201.7" stroke="#ca0038" stroke-width="0.68"/>
<path d="M260.4 211.8C266.5 211.8 272.7 207.5 278.8 206.3C284.9 205.1 291.1 204.6 297.2 204.6C300.7 204.6 304.3 203.1 307.8 202.3C311.3 201.6 314.9 200.1 318.4 200.1C325.6 200.1 332.7 203.7 339.9 205.7C347.1 207.6 354.2 211.8 361.4 211.8" stroke="#ca0038" stroke-width="0.68"/>
<path d="M260.4 210.2C266.5 210.2 272.7 210.5 278.8 209.7C284.9 208.9 291.1 205.3 297.2 205.3C300.7 205.3 304.3 207.0 307.8 208.3C311.3 209.5 314.9 212.9 318.4 212.9C325.6 212.9 332.7 213.8 339.9 213.4C347.1 213.0 354.2 210.2 361.4 210.2" stroke="#c90038" stroke-width="0.68"/>
<path d="M260.4 203.3C266.5 203.3 272.7 207.8 278.8 208.3C284.9 208.7 291.1 206.0 297.2 206.0C300.7 206.0 304.3 208.7 307.8 210.2C311.3 211.7 314.9 215.2 318.4 215.2C325.6 215.2 332.7 214.0 339.9 212.0C347.1 210.0 354.2 203.3 361.4 203.3" stroke="#c90039" stroke-width="0.68"/>
<path d="M260.4 210.7C266.5 210.7 272.7 211.0 278.8 210.7C284.9 210.5 291.1 209.0 297.2 209.0C300.7 209.0 304.3 207.7 307.8 207.1C311.3 206.5 314.9 205.5 318.4 205.5C325.6 205.5 332.7 204.9 339.9 205.7C347.1 206.6 354.2 210.7 361.4 210.7" stroke="#c90039" stroke-width="0.68"/>
<path d="M260.4 216.6C266.5 216.6 272.7 216.9 278.8 216.6C284.9 216.2 291.1 214.4 297.2 214.4C300.7 214.4 304.3 209.9 307.8 208.6C311.3 207.3 314.9 206.4 318.4 206.4C325.6 206.4 332.7 213.0 339.9 214.6C347.1 216.3 354.2 216.6 361.4 216.6" stroke="#c8003a" stroke-width="0.68"/>
<path d="M260.4 218.1C266.5 218.1 272.7 218.0 278.8 217.5C284.9 216.9 291.1 214.8 297.2 214.8C300.7 214.8 304.3 215.4 307.8 215.2C311.3 214.9 314.9 213.1 318.4 213.1C325.6 213.1 332.7 215.2 339.9 216.0C347.1 216.9 354.2 218.1 361.4 218.1" stroke="#c8003a" stroke-width="0.68"/>
<path d="M260.4 208.1C266.5 208.1 272.7 209.2 278.8 208.9C284.9 208.5 291.1 206.0 297.2 206.0C300.7 206.0 304.3 207.4 307.8 208.3C311.3 209.2 314.9 211.3 318.4 211.3C325.6 211.3 332.7 212.8 339.9 212.3C347.1 211.7 354.2 208.1 361.4 208.1" stroke="#c8003a" stroke-width="0.68"/>
<path d="M260.4 220.2C266.5 220.2 272.7 219.1 278.8 217.3C284.9 215.5 291.1 209.3 297.2 209.3C300.7 209.3 304.3 210.9 307.8 212.4C311.3 213.9 314.9 218.2 318.4 218.2C325.6 218.2 332.7 221.8 339.9 222.1C347.1 222.4 354.2 220.2 361.4 220.2" stroke="#c8003a" stroke-width="0.68"/>
<path d="M260.4 218.7C266.5 218.7 272.7 218.1 278.8 218.5C284.9 218.9 291.1 221.1 297.2 221.1C300.7 221.1 304.3 218.2 307.8 216.2C311.3 214.1 314.9 208.5 318.4 208.5C325.6 208.5 332.7 215.2 339.9 216.9C347.1 218.6 354.2 218.7 361.4 218.7" stroke="#c8003a" stroke-width="0.68"/>
<path d="M260.4 210.6C266.5 210.6 272.7 213.0 278.8 215.0C284.9 217.0 291.1 222.3 297.2 222.3C300.7 222.3 304.3 218.7 307.8 217.0C311.3 215.4 314.9 212.4 318.4 212.4C325.6 212.4 332.7 212.0 339.9 211.7C347.1 211.3 354.2 210.6 361.4 210.6" stroke="#c8003a" stroke-width="0.68"/>
<path d="M260.4 218.1C266.5 218.1 272.7 221.6 278.8 222.0C284.9 222.5 291.1 220.6 297.2 220.6C300.7 220.6 304.3 218.7 307.8 217.7C311.3 216.6 314.9 214.5 318.4 214.5C325.6 214.5 332.7 217.5 339.9 218.1C347.1 218.7 354.2 218.1 361.4 218.1" stroke="#c8003a" stroke-width="0.68"/>
<path d="M260.4 219.6C266.5 219.6 272.7 215.7 278.8 214.3C284.9 212.9 291.1 211.2 297.2 211.2C300.7 211.2 304.3 212.4 307.8 213.3C311.3 214.3 314.9 216.7 318.4 216.7C325.6 216.7 332.7 221.5 339.9 222.0C347.1 222.4 354.2 219.6 361.4 219.6" stroke="#c8003a" stroke-width="0.68"/>
<path d="M260.4 214.9C266.5 214.9 272.7 213.9 278.8 213.5C284.9 213.1 291.1 212.4 297.2 212.4C300.7 212.4 304.3 211.7 307.8 212.0C311.3 212.4 314.9 214.6 318.4 214.6C325.6 214.6 332.7 211.3 339.9 211.4C347.1 211.4 354.2 214.9 361.4 214.9" stroke="#c8003a" stroke-width="0.68"/>
<path d="M260.4 222.6C266.5 222.6 272.7 227.2 278.8 227.6C284.9 228.1 291.1 225.3 297.2 225.3C300.7 225.3 304.3 225.4 307.8 224.9C311.3 224.5 314.9 222.4 318.4 222.4C325.6 222.4 332.7 225.6 339.9 225.7C347.1 225.7 354.2 222.6 361.4 222.6" stroke="#c8003a" stroke-width="0.68"/>
<path d="M260.4 84.6C266.5 84.6 272.7 82.8 278.8 78.7C284.9 74.5 291.1 59.9 297.2 59.9C300.7 59.9 304.3 58.6 307.8 58.9C311.3 59.3 314.9 62.1 318.4 62.1C325.6 62.1 332.7 69.3 339.9 73.0C347.1 76.8 354.2 84.6 361.4 84.6" stroke="#7f0f98" stroke-width="0.85"/>
<path d="M260.4 75.5C266.5 75.5 272.7 79.3 278.8 80.8C284.9 82.4 291.1 84.6 297.2 84.6C300.7 84.6 304.3 84.0 307.8 83.7C311.3 83.3 314.9 82.4 318.4 82.4C325.6 82.4 332.7 80.0 339.9 78.7C347.1 77.4 354.2 74.6 361.4 74.6" stroke="#970a7e" stroke-width="0.85"/>
<path d="M260.4 74.6C266.5 74.6 272.7 75.8 278.8 76.2C284.9 76.5 291.1 76.8 297.2 76.8C300.7 76.8 304.3 78.4 307.8 79.3C311.3 80.1 314.9 81.8 318.4 81.8C325.6 81.8 332.7 79.2 339.9 79.3C347.1 79.4 354.2 82.4 361.4 82.4" stroke="#950b80" stroke-width="0.85"/>
<path d="M260.4 74.6C266.5 74.6 272.7 76.1 278.8 76.8C284.9 77.5 291.1 78.7 297.2 78.7C300.7 78.7 304.3 79.9 307.8 80.5C311.3 81.2 314.9 82.4 318.4 82.4C325.6 82.4 332.7 76.9 339.9 75.5C347.1 74.1 354.2 74.0 361.4 74.0" stroke="#8e0c88" stroke-width="0.85"/>
<path d="M260.4 70.5C266.5 70.5 272.7 70.3 278.8 69.9C284.9 69.5 291.1 68.0 297.2 68.0C300.7 68.0 304.3 70.4 307.8 71.5C311.3 72.6 314.9 74.6 318.4 74.6C325.6 74.6 332.7 71.5 339.9 71.5C347.1 71.5 354.2 74.6 361.4 74.6" stroke="#820e95" stroke-width="0.85"/>
<path d="M260.4 69.9C266.5 69.9 272.7 69.5 278.8 69.3C284.9 69.1 291.1 68.6 297.2 68.6C300.7 68.6 304.3 66.3 307.8 65.2C311.3 64.1 314.9 62.1 318.4 62.1C325.6 62.1 332.7 65.4 339.9 66.8C347.1 68.2 354.2 70.5 361.4 70.5" stroke="#9c0a78" stroke-width="0.85"/>
<path d="M260.4 64.9C266.5 64.9 272.7 63.7 278.8 63.0C284.9 62.3 291.1 60.5 297.2 60.5C300.7 60.5 304.3 61.9 307.8 62.1C311.3 62.3 314.9 61.8 318.4 61.8C325.6 61.8 332.7 65.3 339.9 66.8C347.1 68.2 354.2 70.5 361.4 70.5" stroke="#9c0a78" stroke-width="0.85"/>
<path d="M260.4 63.6C266.5 63.6 272.7 64.8 278.8 65.5C284.9 66.2 291.1 68.0 297.2 68.0C300.7 68.0 304.3 69.0 307.8 69.3C311.3 69.6 314.9 69.9 318.4 69.9C325.6 69.9 332.7 70.5 339.9 70.5C347.1 70.5 354.2 69.9 361.4 69.9" stroke="#8f0c86" stroke-width="0.85"/>
<path d="M260.4 58.9C266.5 58.9 272.7 59.6 278.8 59.9C284.9 60.1 291.1 60.5 297.2 60.5C300.7 60.5 304.3 59.6 307.8 58.9C311.3 58.3 314.9 56.8 318.4 56.8C325.6 56.8 332.7 59.3 339.9 60.5C347.1 61.8 354.2 64.3 361.4 64.3" stroke="#8f0c87" stroke-width="0.85"/>
<path d="M260.4 57.4C266.5 57.4 272.7 57.0 278.8 56.8C284.9 56.5 291.1 55.8 297.2 55.8C300.7 55.8 304.3 57.0 307.8 57.4C311.3 57.7 314.9 58.0 318.4 58.0C325.6 58.0 332.7 58.8 339.9 58.9C347.1 59.1 354.2 58.9 361.4 58.9" stroke="#830e94" stroke-width="0.85"/>
<path d="M260.4 54.9C266.5 54.9 272.7 54.5 278.8 54.3C284.9 54.0 291.1 53.6 297.2 53.6C300.7 53.6 304.3 55.0 307.8 55.5C311.3 56.0 314.9 56.8 318.4 56.8C325.6 56.8 332.7 56.0 339.9 56.1C347.1 56.2 354.2 57.4 361.4 57.4" stroke="#7810a0" stroke-width="0.85"/>
<path d="M260.4 54.3C266.5 54.3 272.7 52.9 278.8 52.4C284.9 51.9 291.1 51.1 297.2 51.1C300.7 51.1 304.3 51.5 307.8 51.8C311.3 52.0 314.9 52.7 318.4 52.7C325.6 52.7 332.7 53.4 339.9 53.6C347.1 53.9 354.2 54.3 361.4 54.3" stroke="#890d8d" stroke-width="0.85"/>
<path d="M260.4 53.6C266.5 53.6 272.7 52.0 278.8 51.1C284.9 50.3 291.1 48.6 297.2 48.6C300.7 48.6 304.3 49.4 307.8 49.9C311.3 50.4 314.9 51.8 318.4 51.8C325.6 51.8 332.7 53.6 339.9 54.3C347.1 54.9 354.2 55.8 361.4 55.8" stroke="#920b83" stroke-width="0.85"/>
<path d="M260.4 51.1C266.5 51.1 272.7 49.8 278.8 49.2C284.9 48.7 291.1 48.0 297.2 48.0C300.7 48.0 304.3 48.8 307.8 49.2C311.3 49.7 314.9 50.5 318.4 50.5C325.6 50.5 332.7 50.8 339.9 51.1C347.1 51.5 354.2 52.7 361.4 52.7" stroke="#7b0f9d" stroke-width="0.85"/>
<path d="M260.4 47.8C266.5 47.8 272.7 49.8 278.8 50.2C284.9 50.7 291.1 50.4 297.2 50.4C300.7 50.4 304.3 50.4 307.8 50.4C311.3 50.4 314.9 50.4 318.4 50.4C325.6 50.4 332.7 48.3 339.9 47.8C347.1 47.4 354.2 47.8 361.4 47.8" stroke="#990a7b" stroke-width="0.85"/>
<path d="M260.4 46.7C266.5 46.7 272.7 47.3 278.8 47.3C284.9 47.4 291.1 47.1 297.2 47.1C300.7 47.1 304.3 48.3 307.8 49.0C311.3 49.6 314.9 50.8 318.4 50.8C325.6 50.8 332.7 49.4 339.9 48.7C347.1 48.1 354.2 46.7 361.4 46.7" stroke="#7d0f9a" stroke-width="0.85"/>
<path d="M260.4 45.7C266.5 45.7 272.7 45.6 278.8 46.0C284.9 46.4 291.1 47.9 297.2 47.9C300.7 47.9 304.3 48.4 307.8 48.6C311.3 48.8 314.9 49.3 318.4 49.3C325.6 49.3 332.7 49.0 339.9 48.4C347.1 47.8 354.2 45.7 361.4 45.7" stroke="#a20972" stroke-width="0.85"/>
<path d="M260.4 46.5C266.5 46.5 272.7 46.4 278.8 46.3C284.9 46.3 291.1 46.1 297.2 46.1C300.7 46.1 304.3 46.5 307.8 46.7C311.3 46.9 314.9 47.4 318.4 47.4C325.6 47.4 332.7 47.9 339.9 47.7C347.1 47.6 354.2 46.5 361.4 46.5" stroke="#7a109e" stroke-width="0.85"/>
<path d="M260.4 44.6C266.5 44.6 272.7 46.2 278.8 46.7C284.9 47.2 291.1 47.4 297.2 47.4C300.7 47.4 304.3 46.2 307.8 45.7C311.3 45.1 314.9 43.9 318.4 43.9C325.6 43.9 332.7 43.0 339.9 43.1C347.1 43.2 354.2 44.6 361.4 44.6" stroke="#a00973" stroke-width="0.85"/>
<path d="M260.4 44.2C266.5 44.2 272.7 43.4 278.8 43.2C284.9 43.1 291.1 43.4 297.2 43.4C300.7 43.4 304.3 43.8 307.8 44.0C311.3 44.2 314.9 44.5 318.4 44.5C325.6 44.5 332.7 45.4 339.9 45.3C347.1 45.3 354.2 44.2 361.4 44.2" stroke="#8d0c88" stroke-width="0.85"/>
<path d="M260.4 43.4C266.5 43.4 272.7 43.4 278.8 43.9C284.9 44.3 291.1 46.3 297.2 46.3C300.7 46.3 304.3 44.8 307.8 44.0C311.3 43.3 314.9 41.8 318.4 41.8C325.6 41.8 332.7 42.5 339.9 42.8C347.1 43.1 354.2 43.4 361.4 43.4" stroke="#880d8e" stroke-width="0.85"/>
<path d="M260.4 43.9C266.5 43.9 272.7 44.4 278.8 44.5C284.9 44.6 291.1 44.5 297.2 44.5C300.7 44.5 304.3 43.2 307.8 42.6C311.3 41.9 314.9 40.7 318.4 40.7C325.6 40.7 332.7 42.9 339.9 43.5C347.1 44.0 354.2 43.9 361.4 43.9" stroke="#7c0f9b" stroke-width="0.85"/>
<path d="M260.4 42.5C266.5 42.5 272.7 41.7 278.8 41.3C284.9 40.9 291.1 40.1 297.2 40.1C300.7 40.1 304.3 41.1 307.8 41.6C311.3 42.1 314.9 43.2 318.4 43.2C325.6 43.2 332.7 42.8 339.9 42.7C347.1 42.6 354.2 42.5 361.4 42.5" stroke="#9a0a7b" stroke-width="0.85"/>
<path d="M260.4 43.4C266.5 43.4 272.7 42.6 278.8 42.3C284.9 42.1 291.1 41.9 297.2 41.9C300.7 41.9 304.3 42.0 307.8 42.0C311.3 42.1 314.9 42.2 318.4 42.2C325.6 42.2 332.7 43.4 339.9 43.6C347.1 43.8 354.2 43.4 361.4 43.4" stroke="#800f97" stroke-width="0.85"/>
<path d="M260.4 42.4C266.5 42.4 272.7 41.1 278.8 40.6C284.9 40.1 291.1 39.3 297.2 39.3C300.7 39.3 304.3 40.5 307.8 41.1C311.3 41.7 314.9 42.9 318.4 42.9C325.6 42.9 332.7 43.2 339.9 43.2C347.1 43.1 354.2 42.4 361.4 42.4" stroke="#7d0f9b" stroke-width="0.85"/>
<path d="M260.4 42.7C266.5 42.7 272.7 41.9 278.8 41.4C284.9 40.8 291.1 39.4 297.2 39.4C300.7 39.4 304.3 39.5 307.8 39.5C311.3 39.6 314.9 39.6 318.4 39.6C325.6 39.6 332.7 40.2 339.9 40.7C347.1 41.2 354.2 42.7 361.4 42.7" stroke="#960b7e" stroke-width="0.85"/>
<path d="M260.4 39.5C266.5 39.5 272.7 37.8 278.8 37.5C284.9 37.2 291.1 37.9 297.2 37.9C300.7 37.9 304.3 39.1 307.8 39.7C311.3 40.2 314.9 41.4 318.4 41.4C325.6 41.4 332.7 39.6 339.9 39.3C347.1 39.0 354.2 39.5 361.4 39.5" stroke="#930b82" stroke-width="0.85"/>
<path d="M260.4 39.0C266.5 39.0 272.7 40.1 278.8 40.3C284.9 40.5 291.1 40.3 297.2 40.3C300.7 40.3 304.3 40.5 307.8 40.6C311.3 40.8 314.9 41.0 318.4 41.0C325.6 41.0 332.7 39.4 339.9 39.1C347.1 38.7 354.2 39.0 361.4 39.0" stroke="#7f0f98" stroke-width="0.85"/>
<path d="M260.4 41.0C266.5 41.0 272.7 40.0 278.8 39.4C284.9 38.9 291.1 37.7 297.2 37.7C300.7 37.7 304.3 37.8 307.8 37.8C311.3 37.9 314.9 37.9 318.4 37.9C325.6 37.9 332.7 38.1 339.9 38.6C347.1 39.1 354.2 41.0 361.4 41.0" stroke="#7a109d" stroke-width="0.85"/>
<path d="M260.4 39.9C266.5 39.9 272.7 40.9 278.8 41.0C284.9 41.1 291.1 40.4 297.2 40.4C300.7 40.4 304.3 40.1 307.8 40.0C311.3 39.9 314.9 39.6 318.4 39.6C325.6 39.6 332.7 40.8 339.9 40.8C347.1 40.9 354.2 39.9 361.4 39.9" stroke="#870d8f" stroke-width="0.85"/>
<path d="M260.4 37.3C266.5 37.3 272.7 36.8 278.8 36.5C284.9 36.2 291.1 35.5 297.2 35.5C300.7 35.5 304.3 36.0 307.8 36.3C311.3 36.5 314.9 37.0 318.4 37.0C325.6 37.0 332.7 37.7 339.9 37.8C347.1 37.8 354.2 37.3 361.4 37.3" stroke="#a30870" stroke-width="0.85"/>
<path d="M260.4 37.9C266.5 37.9 272.7 38.2 278.8 38.0C284.9 37.7 291.1 36.6 297.2 36.6C300.7 36.6 304.3 38.0 307.8 38.8C311.3 39.5 314.9 40.9 318.4 40.9C325.6 40.9 332.7 39.1 339.9 38.6C347.1 38.1 354.2 37.9 361.4 37.9" stroke="#9c0a78" stroke-width="0.85"/>
<path d="M260.4 36.3C266.5 36.3 272.7 36.2 278.8 36.3C284.9 36.4 291.1 36.8 297.2 36.8C300.7 36.8 304.3 37.2 307.8 37.4C311.3 37.6 314.9 37.9 318.4 37.9C325.6 37.9 332.7 36.5 339.9 36.2C347.1 35.9 354.2 36.3 361.4 36.3" stroke="#860e91" stroke-width="0.85"/>
<path d="M260.4 36.8C266.5 36.8 272.7 38.5 278.8 38.8C284.9 39.0 291.1 38.3 297.2 38.3C300.7 38.3 304.3 37.3 307.8 36.8C311.3 36.3 314.9 35.2 318.4 35.2C325.6 35.2 332.7 35.3 339.9 35.6C347.1 35.8 354.2 36.8 361.4 36.8" stroke="#a30870" stroke-width="0.85"/>
<path d="M260.4 37.9C266.5 37.9 272.7 36.3 278.8 35.9C284.9 35.6 291.1 35.8 297.2 35.8C300.7 35.8 304.3 35.7 307.8 35.6C311.3 35.6 314.9 35.5 318.4 35.5C325.6 35.5 332.7 36.1 339.9 36.5C347.1 36.9 354.2 37.9 361.4 37.9" stroke="#840e93" stroke-width="0.85"/>
<path d="M260.4 36.1C266.5 36.1 272.7 36.0 278.8 35.5C284.9 34.9 291.1 33.0 297.2 33.0C300.7 33.0 304.3 33.1 307.8 33.1C311.3 33.2 314.9 33.3 318.4 33.3C325.6 33.3 332.7 35.3 339.9 35.7C347.1 36.2 354.2 36.1 361.4 36.1" stroke="#7c0f9b" stroke-width="0.85"/>
<path d="M260.4 36.8C266.5 36.8 272.7 35.5 278.8 35.3C284.9 35.1 291.1 35.7 297.2 35.7C300.7 35.7 304.3 36.3 307.8 36.6C311.3 36.9 314.9 37.6 318.4 37.6C325.6 37.6 332.7 36.9 339.9 36.8C347.1 36.7 354.2 36.8 361.4 36.8" stroke="#7e0f9a" stroke-width="0.85"/>
<path d="M260.4 34.7C266.5 34.7 272.7 35.8 278.8 36.0C284.9 36.2 291.1 35.9 297.2 35.9C300.7 35.9 304.3 35.5 307.8 35.4C311.3 35.2 314.9 34.8 318.4 34.8C325.6 34.8 332.7 35.6 339.9 35.6C347.1 35.6 354.2 34.7 361.4 34.7" stroke="#800f97" stroke-width="0.85"/>
<path d="M260.4 34.7C266.5 34.7 272.7 35.2 278.8 34.9C284.9 34.7 291.1 33.0 297.2 33.0C300.7 33.0 304.3 33.3 307.8 33.5C311.3 33.6 314.9 34.0 318.4 34.0C325.6 34.0 332.7 33.7 339.9 33.8C347.1 33.9 354.2 34.7 361.4 34.7" stroke="#9f0974" stroke-width="0.85"/>
<path d="M260.4 32.9C266.5 32.9 272.7 32.6 278.8 32.5C284.9 32.4 291.1 32.4 297.2 32.4C300.7 32.4 304.3 33.6 307.8 34.4C311.3 35.1 314.9 36.8 318.4 36.8C325.6 36.8 332.7 36.6 339.9 36.0C347.1 35.3 354.2 32.9 361.4 32.9" stroke="#9a0a7a" stroke-width="0.85"/>
<path d="M260.4 34.3C266.5 34.3 272.7 32.9 278.8 32.6C284.9 32.3 291.1 32.4 297.2 32.4C300.7 32.4 304.3 32.9 307.8 33.4C311.3 33.8 314.9 34.8 318.4 34.8C325.6 34.8 332.7 35.1 339.9 35.0C347.1 34.9 354.2 34.3 361.4 34.3" stroke="#7a109e" stroke-width="0.85"/>
</g>
<line x1="297.20" y1="26.10" x2="297.20" y2="213.80" stroke="#2a2a2a" stroke-width="0.9" />
<line x1="318.40" y1="26.10" x2="318.40" y2="213.80" stroke="#2a2a2a" stroke-width="0.9" />
<line x1="260.40" y1="119.95" x2="361.40" y2="119.95" stroke="#808080" stroke-width="1.7" />
<rect x="260.40" y="26.10" width="101.00" height="187.70" fill="none" stroke="#5c5c5c" stroke-width="1.3"/>
<rect x="321.6" y="108.5" width="37" height="10.6" fill="#fff"/>
<text x="322.6" y="117.2" font-size="10.4" stroke="#000" stroke-width="0.14" textLength="10.6" lengthAdjust="spacingAndGlyphs">Se</text>
<rect x="335.2" y="110.0" width="12.6" height="7.4" fill="url(#gLeg)"/>
<text x="349.2" y="117.2" font-size="10.4" stroke="#000" stroke-width="0.14" textLength="7.6" lengthAdjust="spacingAndGlyphs">In</text>
<line x1="151.60" y1="213.80" x2="151.60" y2="217.40" stroke="#444" stroke-width="0.9" />
<text x="151.6" y="227.6" font-size="10.6" stroke="#000" stroke-width="0.14" text-anchor="middle">0</text>
<line x1="168.55" y1="213.80" x2="168.55" y2="215.80" stroke="#444" stroke-width="0.9" />
<line x1="185.50" y1="213.80" x2="185.50" y2="217.40" stroke="#444" stroke-width="0.9" />
<text x="185.5" y="227.6" font-size="10.6" stroke="#000" stroke-width="0.14" text-anchor="middle">40</text>
<line x1="202.45" y1="213.80" x2="202.45" y2="215.80" stroke="#444" stroke-width="0.9" />
<line x1="219.40" y1="213.80" x2="219.40" y2="217.40" stroke="#444" stroke-width="0.9" />
<text x="219.4" y="227.6" font-size="10.6" stroke="#000" stroke-width="0.14" text-anchor="middle">80</text>
<line x1="149.00" y1="213.80" x2="151.60" y2="213.80" stroke="#333" stroke-width="0.8" />
<line x1="149.00" y1="182.52" x2="151.60" y2="182.52" stroke="#333" stroke-width="0.8" />
<line x1="149.00" y1="151.23" x2="151.60" y2="151.23" stroke="#333" stroke-width="0.8" />
<line x1="149.00" y1="119.95" x2="151.60" y2="119.95" stroke="#333" stroke-width="0.8" />
<line x1="149.00" y1="88.67" x2="151.60" y2="88.67" stroke="#333" stroke-width="0.8" />
<line x1="149.00" y1="57.38" x2="151.60" y2="57.38" stroke="#333" stroke-width="0.8" />
<line x1="149.00" y1="26.10" x2="151.60" y2="26.10" stroke="#333" stroke-width="0.8" />
<line x1="150.00" y1="198.16" x2="151.60" y2="198.16" stroke="#333" stroke-width="0.7" />
<line x1="150.00" y1="166.88" x2="151.60" y2="166.88" stroke="#333" stroke-width="0.7" />
<line x1="150.00" y1="135.59" x2="151.60" y2="135.59" stroke="#333" stroke-width="0.7" />
<line x1="150.00" y1="104.31" x2="151.60" y2="104.31" stroke="#333" stroke-width="0.7" />
<line x1="150.00" y1="73.03" x2="151.60" y2="73.03" stroke="#333" stroke-width="0.7" />
<line x1="150.00" y1="41.74" x2="151.60" y2="41.74" stroke="#333" stroke-width="0.7" />
<path d="M151.8 28.0C151.8 30.0 151.8 37.3 152.0 40.0C152.2 42.7 152.5 42.7 153.0 44.0C153.5 45.3 154.4 46.5 155.0 48.0C155.6 49.5 156.2 51.3 156.4 53.0C156.6 54.7 155.9 56.2 156.0 58.0C156.1 59.8 156.7 62.5 157.0 64.0C157.3 65.5 157.8 66.0 157.6 67.0C157.4 68.0 156.5 68.8 156.0 70.0C155.5 71.2 155.1 72.7 154.6 74.0C154.1 75.3 153.4 76.3 153.0 78.0C152.6 79.7 152.6 81.3 152.4 84.0C152.2 86.7 152.1 90.2 152.0 94.0C151.9 97.8 151.8 104.8 151.8 107.0C151.8 109.2 151.8 104.0 151.8 107.0C151.8 110.0 151.7 120.0 151.8 125.0C151.9 130.0 152.1 131.7 152.2 137.0C152.3 142.3 152.6 150.3 152.6 157.0C152.6 163.7 152.5 170.3 152.4 177.0C152.3 183.7 152.3 190.9 152.2 197.0C152.1 203.1 152.0 210.7 152.0 213.4" fill="none" stroke="#3c8ce6" stroke-width="0.9" stroke-linejoin="round"/>
<path d="M151.6 26.4C151.7 28.7 151.8 35.7 152.0 40.0C152.2 44.3 152.4 47.7 152.6 52.0C152.8 56.3 153.0 61.3 153.0 66.0C153.0 70.7 152.7 75.3 152.6 80.0C152.5 84.7 152.3 89.5 152.2 94.0C152.1 98.5 152.0 104.8 152.0 107.0C152.0 109.2 152.0 104.2 152.0 107.0C152.0 109.8 151.8 119.0 152.0 124.0C152.2 129.0 152.7 133.2 153.0 137.0C153.3 140.8 153.6 143.7 154.0 147.0C154.4 150.3 154.9 154.0 155.4 157.0C155.9 160.0 157.1 162.7 157.2 165.0C157.3 167.3 156.6 169.0 156.2 171.0C155.8 173.0 154.9 175.0 154.8 177.0C154.7 179.0 155.2 180.7 155.4 183.0C155.6 185.3 156.2 188.7 156.2 191.0C156.2 193.3 155.7 195.0 155.4 197.0C155.1 199.0 154.6 201.3 154.2 203.0C153.8 204.7 153.2 205.7 153.2 207.0C153.2 208.3 154.2 209.5 154.2 210.6C154.2 211.7 153.2 212.9 153.0 213.4" fill="none" stroke="#1a1a1a" stroke-width="0.9" stroke-linejoin="round"/>
<path d="M152.0 26.4C152.3 26.9 152.8 28.7 154.0 29.6C155.2 30.5 156.8 30.9 159.0 31.6C161.2 32.3 165.1 33.2 167.0 34.0C168.9 34.8 170.6 35.6 170.6 36.4C170.6 37.2 168.8 38.0 167.0 39.0C165.2 40.0 161.8 41.3 160.0 42.4C158.2 43.5 156.9 44.5 156.0 45.6C155.1 46.7 154.7 47.9 154.6 49.0C154.5 50.1 155.1 51.2 155.4 52.4C155.7 53.6 156.4 54.7 156.4 56.0C156.4 57.3 155.3 58.7 155.4 60.0C155.5 61.3 156.5 62.6 157.0 63.6C157.5 64.6 158.4 65.1 158.4 66.0C158.4 66.9 157.5 68.0 157.0 69.0C156.5 70.0 155.8 71.1 155.4 72.0C155.0 72.9 154.6 73.6 154.6 74.4C154.6 75.2 155.4 76.1 155.4 77.0C155.4 77.9 154.6 78.8 154.4 80.0C154.2 81.2 154.2 82.7 154.0 84.0C153.8 85.3 153.6 86.3 153.4 88.0C153.2 89.7 153.1 92.0 153.0 94.0C152.9 96.0 152.7 97.8 152.6 100.0C152.5 102.2 152.3 105.8 152.2 107.0C152.1 108.2 152.0 105.0 152.0 107.0C152.0 109.0 152.0 116.2 152.0 119.0C152.0 121.8 151.9 122.8 152.2 124.0C152.5 125.2 151.9 125.2 154.0 126.0C156.1 126.8 160.2 127.8 165.0 128.6C169.8 129.4 177.0 130.1 183.0 131.0C189.0 131.9 197.0 133.1 201.0 134.0C205.0 134.9 206.7 135.7 207.0 136.4C207.3 137.1 205.7 137.7 203.0 138.4C200.3 139.1 195.0 139.8 191.0 140.6C187.0 141.4 182.0 142.2 179.0 143.0C176.0 143.8 174.4 144.5 173.0 145.4C171.6 146.3 170.7 147.3 170.4 148.4C170.1 149.5 170.6 150.9 171.4 152.0C172.2 153.1 174.6 154.0 175.0 155.0C175.4 156.0 173.7 157.1 174.0 158.0C174.3 158.9 175.7 159.8 177.0 160.6C178.3 161.4 180.8 162.2 182.0 163.0C183.2 163.8 184.0 164.5 184.0 165.4C184.0 166.3 183.3 167.6 182.0 168.6C180.7 169.6 178.0 170.4 176.0 171.4C174.0 172.4 171.4 173.6 170.0 174.6C168.6 175.6 167.6 176.4 167.4 177.4C167.2 178.4 168.5 179.7 169.0 180.6C169.5 181.5 170.4 182.1 170.4 183.0C170.4 183.9 169.7 185.0 169.0 186.0C168.3 187.0 166.2 188.0 166.0 189.0C165.8 190.0 167.3 191.1 168.0 192.0C168.7 192.9 170.0 193.6 170.0 194.6C170.0 195.6 169.0 196.9 168.0 198.0C167.0 199.1 165.3 200.2 164.0 201.4C162.7 202.6 160.9 204.1 160.0 205.0C159.1 205.9 158.4 206.3 158.4 207.0C158.4 207.7 159.6 208.7 160.0 209.4C160.4 210.1 160.8 210.7 160.6 211.4C160.4 212.1 159.3 213.1 159.0 213.4" fill="none" stroke="#ff4a4a" stroke-width="0.9" stroke-linejoin="round"/>
<rect x="151.60" y="26.10" width="67.80" height="187.70" fill="none" stroke="#808080" stroke-width="1.1"/>
<line x1="151.60" y1="26.10" x2="151.60" y2="213.80" stroke="#333" stroke-width="1.0" />
<line x1="184.20" y1="33.60" x2="195.40" y2="33.60" stroke="#ff5050" stroke-width="0.9" />
<text x="197.6" y="37.5" font-size="10.8" stroke="#000" stroke-width="0.14" textLength="19.4" lengthAdjust="spacingAndGlyphs">Se p</text>
<line x1="184.20" y1="48.70" x2="195.40" y2="48.70" stroke="#3c8ce6" stroke-width="0.9" />
<text x="197.6" y="52.6" font-size="10.8" stroke="#000" stroke-width="0.14" textLength="16.4" lengthAdjust="spacingAndGlyphs">In s</text>
<line x1="184.20" y1="64.20" x2="195.40" y2="64.20" stroke="#222" stroke-width="0.9" />
<text x="197.6" y="68.1" font-size="10.8" stroke="#000" stroke-width="0.14" textLength="17.4" lengthAdjust="spacingAndGlyphs">In p</text>
<line x1="376.40" y1="213.80" x2="376.40" y2="217.40" stroke="#444" stroke-width="0.9" />
<text x="376.4" y="227.6" font-size="10.6" stroke="#000" stroke-width="0.14" text-anchor="middle">0</text>
<line x1="393.35" y1="213.80" x2="393.35" y2="215.80" stroke="#444" stroke-width="0.9" />
<line x1="410.30" y1="213.80" x2="410.30" y2="217.40" stroke="#444" stroke-width="0.9" />
<text x="410.3" y="227.6" font-size="10.6" stroke="#000" stroke-width="0.14" text-anchor="middle">40</text>
<line x1="427.25" y1="213.80" x2="427.25" y2="215.80" stroke="#444" stroke-width="0.9" />
<line x1="444.20" y1="213.80" x2="444.20" y2="217.40" stroke="#444" stroke-width="0.9" />
<text x="444.2" y="227.6" font-size="10.6" stroke="#000" stroke-width="0.14" text-anchor="middle">80</text>
<line x1="373.80" y1="213.80" x2="376.40" y2="213.80" stroke="#333" stroke-width="0.8" />
<line x1="373.80" y1="182.52" x2="376.40" y2="182.52" stroke="#333" stroke-width="0.8" />
<line x1="373.80" y1="151.23" x2="376.40" y2="151.23" stroke="#333" stroke-width="0.8" />
<line x1="373.80" y1="119.95" x2="376.40" y2="119.95" stroke="#333" stroke-width="0.8" />
<line x1="373.80" y1="88.67" x2="376.40" y2="88.67" stroke="#333" stroke-width="0.8" />
<line x1="373.80" y1="57.38" x2="376.40" y2="57.38" stroke="#333" stroke-width="0.8" />
<line x1="373.80" y1="26.10" x2="376.40" y2="26.10" stroke="#333" stroke-width="0.8" />
<line x1="374.80" y1="198.16" x2="376.40" y2="198.16" stroke="#333" stroke-width="0.7" />
<line x1="374.80" y1="166.88" x2="376.40" y2="166.88" stroke="#333" stroke-width="0.7" />
<line x1="374.80" y1="135.59" x2="376.40" y2="135.59" stroke="#333" stroke-width="0.7" />
<line x1="374.80" y1="104.31" x2="376.40" y2="104.31" stroke="#333" stroke-width="0.7" />
<line x1="374.80" y1="73.03" x2="376.40" y2="73.03" stroke="#333" stroke-width="0.7" />
<line x1="374.80" y1="41.74" x2="376.40" y2="41.74" stroke="#333" stroke-width="0.7" />
<path d="M376.2 34.0C376.3 36.0 376.8 41.7 377.0 46.0C377.2 50.3 377.6 55.0 377.6 60.0C377.6 65.0 377.3 71.0 377.2 76.0C377.1 81.0 376.9 84.8 376.8 90.0C376.7 95.2 376.5 104.2 376.4 107.0C376.3 109.8 376.4 103.3 376.4 107.0C376.4 110.7 376.1 123.3 376.4 129.0C376.7 134.7 377.4 137.0 378.0 141.0C378.6 145.0 379.4 149.0 380.0 153.0C380.6 157.0 381.2 161.7 381.6 165.0C382.0 168.3 382.5 170.7 382.4 173.0C382.3 175.3 381.3 176.7 381.0 179.0C380.7 181.3 380.6 184.7 380.4 187.0C380.2 189.3 379.5 191.0 379.6 193.0C379.7 195.0 380.6 197.0 381.0 199.0C381.4 201.0 382.2 203.2 382.0 205.0C381.8 206.8 380.5 208.6 380.0 210.0C379.5 211.4 379.2 212.8 379.0 213.4" fill="none" stroke="#1a1a1a" stroke-width="0.9" stroke-linejoin="round"/>
<path d="M376.4 36.0C376.7 36.3 376.9 37.0 378.0 37.6C379.1 38.2 381.3 38.7 383.0 39.4C384.7 40.1 386.7 40.8 388.0 41.6C389.3 42.4 390.3 43.5 391.0 44.4C391.7 45.3 392.0 46.1 392.0 47.0C392.0 47.9 391.7 49.0 391.0 50.0C390.3 51.0 388.9 52.0 388.0 53.0C387.1 54.0 386.2 55.0 385.6 56.0C385.0 57.0 384.8 58.0 384.4 59.0C384.0 60.0 383.4 61.0 383.0 62.0C382.6 63.0 382.3 64.0 382.0 65.0C381.7 66.0 381.1 67.0 381.0 68.0C380.9 69.0 381.3 70.0 381.6 71.0C381.9 72.0 382.5 73.0 382.6 74.0C382.7 75.0 382.4 76.0 382.0 77.0C381.6 78.0 380.4 79.0 380.0 80.0C379.6 81.0 379.4 82.0 379.4 83.0C379.4 84.0 380.0 85.0 380.0 86.0C380.0 87.0 379.9 88.1 379.6 89.0C379.3 89.9 378.5 90.8 378.0 91.6C377.5 92.4 376.9 91.0 376.6 93.6C376.3 96.2 376.4 101.3 376.4 107.0C376.4 112.7 376.1 124.1 376.4 128.0C376.7 131.9 376.1 129.8 378.0 130.6C379.9 131.4 383.3 131.9 388.0 132.6C392.7 133.3 401.0 134.3 406.0 135.0C411.0 135.7 415.4 136.5 418.0 137.0C420.6 137.5 421.8 137.7 421.6 138.2C421.4 138.7 419.1 139.4 417.0 140.0C414.9 140.6 410.9 141.3 409.0 142.0C407.1 142.7 405.8 143.3 405.6 144.0C405.4 144.7 407.9 145.6 407.6 146.4C407.3 147.2 405.4 147.8 404.0 148.6C402.6 149.4 400.1 150.2 399.0 151.0C397.9 151.8 397.4 152.5 397.6 153.4C397.8 154.3 399.0 155.3 400.0 156.6C401.0 157.9 402.9 159.6 403.6 161.0C404.3 162.4 404.7 163.8 404.4 165.0C404.1 166.2 402.1 167.0 402.0 168.0C401.9 169.0 403.2 170.0 403.6 171.0C404.0 172.0 404.8 172.9 404.4 174.0C404.0 175.1 402.4 176.4 401.0 177.4C399.6 178.4 397.2 179.1 396.0 180.0C394.8 180.9 393.6 182.0 393.6 183.0C393.6 184.0 395.4 185.0 396.0 186.0C396.6 187.0 397.3 188.2 397.0 189.0C396.7 189.8 395.2 190.3 394.0 191.0C392.8 191.7 390.8 192.4 390.0 193.4C389.2 194.4 388.8 195.8 389.0 197.0C389.2 198.2 390.2 199.4 391.0 200.6C391.8 201.8 393.4 202.9 393.6 204.0C393.8 205.1 393.2 206.0 392.4 207.0C391.6 208.0 390.0 208.9 389.0 210.0C388.0 211.1 386.8 212.8 386.4 213.4" fill="none" stroke="#ff4a4a" stroke-width="0.9" stroke-linejoin="round"/>
<path d="M376.4 36.6C376.8 36.9 377.6 37.7 379.0 38.4C380.4 39.1 383.3 40.1 385.0 41.0C386.7 41.9 388.1 42.6 389.0 43.6C389.9 44.6 390.4 45.9 390.4 47.0C390.4 48.1 389.7 49.3 389.0 50.4C388.3 51.5 386.9 52.5 386.0 53.6C385.1 54.7 384.3 55.9 383.6 57.0C382.9 58.1 382.4 58.8 382.0 60.0C381.6 61.2 381.3 62.7 381.0 64.0C380.7 65.3 380.1 66.7 380.0 68.0C379.9 69.3 380.4 70.8 380.6 72.0C380.8 73.2 381.1 73.8 381.0 75.0C380.9 76.2 380.3 77.8 380.0 79.0C379.7 80.2 379.2 80.8 379.0 82.0C378.8 83.2 379.2 84.7 379.0 86.0C378.8 87.3 378.4 88.9 378.0 90.0C377.6 91.1 376.9 89.6 376.6 92.4C376.3 95.2 376.4 104.6 376.4 107.0C376.4 109.4 376.4 103.7 376.4 107.0C376.4 110.3 376.3 120.3 376.4 127.0C376.5 133.7 376.7 140.3 376.8 147.0C376.9 153.7 377.0 160.3 377.0 167.0C377.0 173.7 376.9 179.3 376.8 187.0C376.7 194.7 376.6 209.0 376.6 213.4" fill="none" stroke="#3c8ce6" stroke-width="0.9" stroke-linejoin="round"/>
<rect x="376.40" y="26.10" width="67.80" height="187.70" fill="none" stroke="#808080" stroke-width="1.1"/>
<line x1="376.40" y1="26.10" x2="376.40" y2="213.80" stroke="#333" stroke-width="1.0" />
<line x1="409.00" y1="33.60" x2="420.20" y2="33.60" stroke="#ff5050" stroke-width="0.9" />
<text x="422.4" y="37.5" font-size="10.8" stroke="#000" stroke-width="0.14" textLength="19.4" lengthAdjust="spacingAndGlyphs">Se p</text>
<line x1="409.00" y1="48.70" x2="420.20" y2="48.70" stroke="#3c8ce6" stroke-width="0.9" />
<text x="422.4" y="52.6" font-size="10.8" stroke="#000" stroke-width="0.14" textLength="16.4" lengthAdjust="spacingAndGlyphs">In s</text>
<line x1="409.00" y1="64.20" x2="420.20" y2="64.20" stroke="#222" stroke-width="0.9" />
<text x="422.4" y="68.1" font-size="10.8" stroke="#000" stroke-width="0.14" textLength="17.4" lengthAdjust="spacingAndGlyphs">In p</text>
<line x1="482.00" y1="214.00" x2="486.00" y2="214.00" stroke="#111" stroke-width="0.9" />
<text x="479.4" y="217.8" font-size="10.6" stroke="#000" stroke-width="0.14" text-anchor="end" textLength="14.2" lengthAdjust="spacingAndGlyphs">0.0</text>
<line x1="483.80" y1="195.22" x2="486.00" y2="195.22" stroke="#111" stroke-width="0.8" />
<line x1="482.00" y1="176.44" x2="486.00" y2="176.44" stroke="#111" stroke-width="0.9" />
<text x="479.4" y="180.2" font-size="10.6" stroke="#000" stroke-width="0.14" text-anchor="end" textLength="14.2" lengthAdjust="spacingAndGlyphs">0.2</text>
<line x1="483.80" y1="157.66" x2="486.00" y2="157.66" stroke="#111" stroke-width="0.8" />
<line x1="482.00" y1="138.88" x2="486.00" y2="138.88" stroke="#111" stroke-width="0.9" />
<text x="479.4" y="142.7" font-size="10.6" stroke="#000" stroke-width="0.14" text-anchor="end" textLength="14.2" lengthAdjust="spacingAndGlyphs">0.4</text>
<line x1="483.80" y1="120.10" x2="486.00" y2="120.10" stroke="#111" stroke-width="0.8" />
<line x1="482.00" y1="101.32" x2="486.00" y2="101.32" stroke="#111" stroke-width="0.9" />
<text x="479.4" y="105.1" font-size="10.6" stroke="#000" stroke-width="0.14" text-anchor="end" textLength="14.2" lengthAdjust="spacingAndGlyphs">0.6</text>
<line x1="483.80" y1="82.54" x2="486.00" y2="82.54" stroke="#111" stroke-width="0.8" />
<line x1="482.00" y1="63.76" x2="486.00" y2="63.76" stroke="#111" stroke-width="0.9" />
<text x="479.4" y="67.6" font-size="10.6" stroke="#000" stroke-width="0.14" text-anchor="end" textLength="14.2" lengthAdjust="spacingAndGlyphs">0.8</text>
<line x1="483.80" y1="44.98" x2="486.00" y2="44.98" stroke="#111" stroke-width="0.8" />
<line x1="482.00" y1="26.20" x2="486.00" y2="26.20" stroke="#111" stroke-width="0.9" />
<text x="479.4" y="30.0" font-size="10.6" stroke="#000" stroke-width="0.14" text-anchor="end" textLength="14.2" lengthAdjust="spacingAndGlyphs">1.0</text>
<line x1="492.00" y1="214.00" x2="492.00" y2="216.00" stroke="#333" stroke-width="0.8" />
<line x1="510.60" y1="214.00" x2="510.60" y2="217.80" stroke="#333" stroke-width="0.9" />
<text x="510.6" y="228.4" font-size="10.6" stroke="#000" stroke-width="0.14" text-anchor="middle" textLength="14.2" lengthAdjust="spacingAndGlyphs">2.7</text>
<line x1="529.20" y1="214.00" x2="529.20" y2="216.00" stroke="#333" stroke-width="0.8" />
<line x1="547.80" y1="214.00" x2="547.80" y2="217.80" stroke="#333" stroke-width="0.9" />
<text x="547.8" y="228.4" font-size="10.6" stroke="#000" stroke-width="0.14" text-anchor="middle" textLength="14.2" lengthAdjust="spacingAndGlyphs">3.0</text>
<line x1="566.40" y1="214.00" x2="566.40" y2="216.00" stroke="#333" stroke-width="0.8" />
<line x1="585.00" y1="214.00" x2="585.00" y2="217.80" stroke="#333" stroke-width="0.9" />
<text x="585.0" y="228.4" font-size="10.6" stroke="#000" stroke-width="0.14" text-anchor="middle" textLength="14.2" lengthAdjust="spacingAndGlyphs">3.3</text>
<line x1="603.60" y1="214.00" x2="603.60" y2="216.00" stroke="#333" stroke-width="0.8" />
<line x1="622.20" y1="214.00" x2="622.20" y2="217.80" stroke="#333" stroke-width="0.9" />
<text x="622.2" y="228.4" font-size="10.6" stroke="#000" stroke-width="0.14" text-anchor="middle" textLength="14.2" lengthAdjust="spacingAndGlyphs">3.6</text>
<line x1="640.80" y1="214.00" x2="640.80" y2="216.00" stroke="#333" stroke-width="0.8" />
<line x1="659.40" y1="214.00" x2="659.40" y2="217.80" stroke="#333" stroke-width="0.9" />
<text x="659.4" y="228.4" font-size="10.6" stroke="#000" stroke-width="0.14" text-anchor="middle" textLength="14.2" lengthAdjust="spacingAndGlyphs">3.9</text>
<line x1="678.00" y1="214.00" x2="678.00" y2="216.00" stroke="#333" stroke-width="0.8" />
<text x="545.0" y="241.6" font-size="12.8" stroke="#000" stroke-width="0.14" textLength="77.4" lengthAdjust="spacingAndGlyphs">Bond length (Å)</text>
<text transform="translate(460.6 119.6) rotate(-90)" x="0" y="0" font-size="12.8" stroke="#000" stroke-width="0.14" text-anchor="middle" textLength="78.0" lengthAdjust="spacingAndGlyphs">ICOBI per bond</text>
<line x1="486.00" y1="84.42" x2="684.00" y2="84.42" stroke="#6e6e6e" stroke-width="0.9" stroke-dasharray="4.6 3.2"/>
<line x1="486.00" y1="150.52" x2="684.00" y2="150.52" stroke="#f04848" stroke-width="0.9" stroke-dasharray="4.6 3.2"/>
<text x="582.4" y="99.8" font-size="10.4" fill="#707070" stroke="#707070" stroke-width="0.14" textLength="47.6" lengthAdjust="spacingAndGlyphs">ICOBI=0.69</text>
<text x="589.6" y="161.2" font-size="10.4" fill="#cc2c4a" stroke="#cc2c4a" stroke-width="0.14" textLength="48.0" lengthAdjust="spacingAndGlyphs">ICOBI=0.34</text>
<circle cx="500.0" cy="58.2" r="2.45" fill="url(#gPg)"/>
<circle cx="501.2" cy="64.0" r="2.45" fill="url(#gPg)"/>
<circle cx="501.7" cy="65.8" r="2.45" fill="url(#gPg)"/>
<circle cx="500.4" cy="71.2" r="2.45" fill="url(#gPg)"/>
<circle cx="506.0" cy="78.4" r="2.45" fill="url(#gPg)"/>
<circle cx="507.4" cy="89.4" r="2.45" fill="url(#gPr)"/>
<circle cx="509.2" cy="90.4" r="2.45" fill="url(#gPr)"/>
<circle cx="511.2" cy="86.0" r="2.45" fill="url(#gPg)"/>
<circle cx="514.0" cy="92.6" r="2.45" fill="url(#gPg)"/>
<circle cx="515.2" cy="93.4" r="2.45" fill="url(#gPg)"/>
<circle cx="516.2" cy="97.8" r="2.45" fill="url(#gPg)"/>
<circle cx="522.2" cy="109.4" r="2.45" fill="url(#gPg)"/>
<circle cx="516.6" cy="106.0" r="2.45" fill="url(#gPr)"/>
<circle cx="521.6" cy="115.0" r="2.45" fill="url(#gPr)"/>
<circle cx="526.0" cy="126.4" r="2.45" fill="url(#gPr)"/>
<circle cx="528.4" cy="123.6" r="2.45" fill="url(#gPr)"/>
<circle cx="585.4" cy="186.2" r="2.45" fill="url(#gPr)"/>
<circle cx="617.0" cy="198.8" r="2.45" fill="url(#gPr)"/>
<circle cx="623.0" cy="199.0" r="2.45" fill="url(#gPr)"/>
<circle cx="625.2" cy="202.4" r="2.45" fill="url(#gPr)"/>
<circle cx="665.2" cy="209.6" r="2.45" fill="url(#gPr)"/>
<polygon points="507.40,80.00 508.52,83.06 511.77,83.18 509.21,85.19 510.10,88.32 507.40,86.50 504.70,88.32 505.59,85.19 503.03,83.18 506.28,83.06" fill="#fff" stroke="#666" stroke-width="0.9" stroke-linejoin="miter"/>
<polygon points="545.60,145.80 546.72,148.86 549.97,148.98 547.41,150.99 548.30,154.12 545.60,152.30 542.90,154.12 543.79,150.99 541.23,148.98 544.48,148.86" fill="#fff" stroke="#d83030" stroke-width="0.9" stroke-linejoin="miter"/>
<line x1="486.00" y1="26.20" x2="684.50" y2="26.20" stroke="#111" stroke-width="1.0" />
<line x1="684.00" y1="26.20" x2="684.00" y2="214.00" stroke="#111" stroke-width="1.0" />
<line x1="486.00" y1="25.70" x2="486.00" y2="214.00" stroke="#111" stroke-width="1.0" />
<line x1="485.50" y1="214.00" x2="684.50" y2="214.00" stroke="#555" stroke-width="1.0" />
<circle cx="570.4" cy="34.4" r="2.3" fill="url(#gPg)"/>
<circle cx="570.4" cy="47.4" r="2.3" fill="url(#gPr)"/>
<polygon points="570.40,56.00 571.52,59.06 574.77,59.18 572.21,61.19 573.10,64.32 570.40,62.50 567.70,64.32 568.59,61.19 566.03,59.18 569.28,59.06" fill="#fff" stroke="#666" stroke-width="0.8" stroke-linejoin="miter"/>
<polygon points="570.40,71.20 571.52,74.26 574.77,74.38 572.21,76.39 573.10,79.52 570.40,77.70 567.70,79.52 568.59,76.39 566.03,74.38 569.28,74.26" fill="#fff" stroke="#d83030" stroke-width="0.8" stroke-linejoin="miter"/>
<text x="582.6" y="37.8" font-size="9.2" stroke="#000" stroke-width="0.14" textLength="98.8" lengthAdjust="spacingAndGlyphs">c-SoD Se(<tspan font-style="italic">t</tspan> or <tspan font-style="italic">b</tspan>)-In(<tspan font-style="italic">t</tspan> or <tspan font-style="italic">b</tspan>)</text>
<text x="582.6" y="50.6" font-size="9.2" stroke="#000" stroke-width="0.14" textLength="85.4" lengthAdjust="spacingAndGlyphs">c-SoD Se(<tspan font-style="italic">m</tspan>)-In(<tspan font-style="italic">t</tspan> or <tspan font-style="italic">b</tspan>)</text>
<text x="582.6" y="63.8" font-size="9.4" stroke="#000" stroke-width="0.14" textLength="4.8" lengthAdjust="spacingAndGlyphs">β</text>
<text x="587.8" y="66.0" font-size="6.2" stroke="#000" stroke-width="0.14" textLength="2.6" lengthAdjust="spacingAndGlyphs">c</text>
<text x="592.6" y="63.8" font-size="9.2" stroke="#000" stroke-width="0.14" textLength="74.4" lengthAdjust="spacingAndGlyphs">Se(<tspan font-style="italic">t</tspan> or <tspan font-style="italic">b</tspan>)-In(<tspan font-style="italic">t</tspan> or <tspan font-style="italic">b</tspan>)</text>
<text x="582.6" y="78.8" font-size="9.4" stroke="#000" stroke-width="0.14" textLength="4.8" lengthAdjust="spacingAndGlyphs">β</text>
<text x="587.8" y="81.0" font-size="6.2" stroke="#000" stroke-width="0.14" textLength="2.6" lengthAdjust="spacingAndGlyphs">c</text>
<text x="594.6" y="78.8" font-size="9.2" stroke="#000" stroke-width="0.14" textLength="61.0" lengthAdjust="spacingAndGlyphs">Se(<tspan font-style="italic">m</tspan>)-In(<tspan font-style="italic">t</tspan> or <tspan font-style="italic">b</tspan>)</text>
<path d="M182.1 275.0L169.0 284.1" stroke="#b0223a" stroke-width="2.5" fill="none"/>
<path d="M169.0 284.1L155.9 293.1" stroke="#424242" stroke-width="2.5" fill="none"/>
<path d="M182.1 275.0L182.2 284.1" stroke="#b0223a" stroke-width="2.5" fill="none"/>
<path d="M182.2 284.1L182.4 293.1" stroke="#424242" stroke-width="2.5" fill="none"/>
<circle cx="155.9" cy="293.1" r="6.20" fill="url(#gIn)"/>
<circle cx="182.4" cy="293.1" r="6.20" fill="url(#gIn)"/>
<circle cx="209.0" cy="293.1" r="6.20" fill="url(#gIn)"/>
<circle cx="182.1" cy="275.0" r="5.20" fill="url(#gSe)"/>
<polygon points="182.1,275.0 183.8,279.6 184.2,279.0 203.5,291.9 202.7,293.1 209.0,293.1 206.6,287.3 205.9,288.5 186.6,275.5 187.0,274.8" fill="#fff"/>
<path d="M185.4 277.2L195.1 283.7" stroke="#8c2136" stroke-width="2.5" stroke-dasharray="1.2 0.8" fill="none"/>
<path d="M195.1 283.7L204.7 290.2" stroke="#4a4a4a" stroke-width="2.5" stroke-dasharray="1.2 0.8" fill="none"/>
<text transform="translate(201.9 276.8) rotate(32)" x="0" y="3.1" text-anchor="middle" font-size="10.0" font-weight="bold" font-style="italic" fill="#000" stroke="#000" stroke-width="0.3" textLength="18.0" lengthAdjust="spacingAndGlyphs">2.68</text>
<text x="162.6" y="263.6" font-size="9.2" font-weight="bold" fill="#000" stroke="#000" stroke-width="0.22" textLength="37.4" lengthAdjust="spacingAndGlyphs">Se(<tspan font-style="italic">t or b</tspan>)</text>
<text x="163.6" y="318.4" font-size="9.2" font-weight="bold" fill="#000" stroke="#000" stroke-width="0.22" textLength="34.8" lengthAdjust="spacingAndGlyphs">In(<tspan font-style="italic">t or b</tspan>)</text>
<path d="M304.8 285.8L292.7 274.2" stroke="#b0223a" stroke-width="2.5" fill="none"/>
<path d="M292.7 274.2L278.0 260.0" stroke="#424242" stroke-width="2.5" fill="none"/>
<path d="M304.8 285.8L305.2 274.2" stroke="#b0223a" stroke-width="2.5" fill="none"/>
<path d="M305.2 274.2L305.8 260.0" stroke="#424242" stroke-width="2.5" fill="none"/>
<path d="M304.8 285.8L317.7 274.2" stroke="#b0223a" stroke-width="2.5" fill="none"/>
<path d="M317.7 274.2L333.5 260.0" stroke="#424242" stroke-width="2.5" fill="none"/>
<path d="M304.8 285.8L292.7 297.6" stroke="#b0223a" stroke-width="2.5" fill="none"/>
<path d="M292.7 297.6L278.0 312.1" stroke="#424242" stroke-width="2.5" fill="none"/>
<path d="M304.8 285.8L305.2 297.6" stroke="#b0223a" stroke-width="2.5" fill="none"/>
<path d="M305.2 297.6L305.8 312.1" stroke="#424242" stroke-width="2.5" fill="none"/>
<circle cx="278.0" cy="260.0" r="6.50" fill="url(#gIn)"/>
<circle cx="305.8" cy="260.0" r="6.50" fill="url(#gIn)"/>
<circle cx="333.5" cy="260.0" r="6.50" fill="url(#gIn)"/>
<circle cx="278.0" cy="312.1" r="6.50" fill="url(#gIn)"/>
<circle cx="305.8" cy="312.1" r="6.50" fill="url(#gIn)"/>
<circle cx="333.5" cy="312.1" r="6.50" fill="url(#gIn)"/>
<circle cx="304.8" cy="285.8" r="4.80" fill="url(#gSe)"/>
<polygon points="304.8,285.8 305.8,290.6 306.3,290.1 328.2,310.1 327.3,311.2 333.5,312.1 332.0,306.0 331.1,307.0 309.2,287.0 309.7,286.4" fill="#fff"/>
<path d="M307.7 288.5L318.7 298.5" stroke="#b3203a" stroke-width="2.5" stroke-dasharray="1.2 0.8" fill="none"/>
<path d="M318.7 298.5L329.7 308.6" stroke="#4a4a4a" stroke-width="2.5" stroke-dasharray="1.2 0.8" fill="none"/>
<text transform="translate(326.0 293.3) rotate(39)" x="0" y="3.1" text-anchor="middle" font-size="10.0" font-weight="bold" font-style="italic" fill="#000" stroke="#000" stroke-width="0.3" textLength="18.0" lengthAdjust="spacingAndGlyphs">2.99</text>
<text x="249.8" y="262.6" font-size="9.2" font-weight="bold" fill="#000" stroke="#000" stroke-width="0.22" textLength="17.1" lengthAdjust="spacingAndGlyphs">In(<tspan font-style="italic">t</tspan>)</text>
<text x="268.6" y="288.6" font-size="9.2" font-weight="bold" fill="#000" stroke="#000" stroke-width="0.22" textLength="22.8" lengthAdjust="spacingAndGlyphs">Se(<tspan font-style="italic">m</tspan>)</text>
<text x="248.6" y="314.4" font-size="9.2" font-weight="bold" fill="#000" stroke="#000" stroke-width="0.22" textLength="18.6" lengthAdjust="spacingAndGlyphs">In(<tspan font-style="italic">b</tspan>)</text>
<path d="M423.9 259.7L443.6 285.7" stroke="#b0223a" stroke-width="1.8" fill="none"/>
<path d="M394.5 312.2L383.6 284.3" stroke="#424242" stroke-width="1.8" fill="none"/>
<circle cx="393.8" cy="257.6" r="5.00" fill="url(#gIn)"/>
<circle cx="423.9" cy="259.7" r="5.00" fill="url(#gSe)"/>
<circle cx="443.6" cy="285.7" r="5.00" fill="url(#gIn)"/>
<circle cx="424.0" cy="310.1" r="5.00" fill="url(#gSe)"/>
<circle cx="394.5" cy="312.2" r="5.20" fill="url(#gIn)"/>
<circle cx="383.6" cy="284.3" r="5.00" fill="url(#gSe)"/>
<path d="M397.3 260.4L412.0 259.0" stroke="#b0223a" stroke-width="2.4" fill="none"/>
<path d="M412.0 259.0L426.7 257.6" stroke="#424242" stroke-width="2.4" fill="none"/>
<path d="M426.7 257.6L433.2 270.9" stroke="#424242" stroke-width="2.4" fill="none"/>
<path d="M433.2 270.9L439.7 284.2" stroke="#b0223a" stroke-width="2.4" fill="none"/>
<path d="M439.7 284.2L433.5 298.2" stroke="#b0223a" stroke-width="2.4" fill="none"/>
<path d="M433.5 298.2L427.4 312.2" stroke="#424242" stroke-width="2.4" fill="none"/>
<path d="M427.4 312.2L412.4 310.8" stroke="#424242" stroke-width="2.4" fill="none"/>
<path d="M412.4 310.8L397.3 309.4" stroke="#b0223a" stroke-width="2.4" fill="none"/>
<path d="M397.3 309.4L388.7 297.1" stroke="#b0223a" stroke-width="2.4" fill="none"/>
<path d="M388.7 297.1L380.1 284.9" stroke="#424242" stroke-width="2.4" fill="none"/>
<path d="M380.1 284.9L388.7 272.6" stroke="#424242" stroke-width="2.4" fill="none"/>
<path d="M388.7 272.6L397.3 260.4" stroke="#b0223a" stroke-width="2.4" fill="none"/>
<path d="M410.6 283.7L404.0 272.0" stroke="#b0223a" stroke-width="1.9" fill="none"/>
<path d="M404.0 272.0L397.3 260.4" stroke="#b0223a" stroke-width="1.9" fill="none"/>
<path d="M410.6 283.7L418.6 270.6" stroke="#b0223a" stroke-width="1.9" fill="none"/>
<path d="M418.6 270.6L426.7 257.6" stroke="#424242" stroke-width="1.9" fill="none"/>
<path d="M410.6 283.7L425.1 283.9" stroke="#b0223a" stroke-width="1.9" fill="none"/>
<path d="M425.1 283.9L439.7 284.2" stroke="#b0223a" stroke-width="1.9" fill="none"/>
<path d="M410.6 283.7L404.0 296.5" stroke="#b0223a" stroke-width="1.9" fill="none"/>
<path d="M404.0 296.5L397.3 309.4" stroke="#b0223a" stroke-width="1.9" fill="none"/>
<path d="M410.6 283.7L395.4 284.3" stroke="#b0223a" stroke-width="1.9" fill="none"/>
<path d="M395.4 284.3L380.1 284.9" stroke="#424242" stroke-width="1.9" fill="none"/>
<circle cx="397.3" cy="260.4" r="5.30" fill="url(#gSe)"/>
<circle cx="426.7" cy="257.6" r="6.00" fill="url(#gIn)"/>
<circle cx="439.7" cy="284.2" r="5.70" fill="url(#gSe)"/>
<circle cx="427.4" cy="312.2" r="6.00" fill="url(#gIn)"/>
<circle cx="397.3" cy="309.4" r="5.30" fill="url(#gSe)"/>
<circle cx="380.1" cy="284.9" r="6.00" fill="url(#gIn)"/>
<circle cx="410.6" cy="283.7" r="4.80" fill="url(#gSe)"/>
<polygon points="410.9,284.1 410.3,289.5 410.8,289.2 422.2,308.5 421.0,309.2 427.4,312.2 427.9,305.2 426.7,305.9 415.3,286.6 415.8,286.3" fill="#fff"/>
<path d="M413.1 287.9L418.8 297.6" stroke="#c2233f" stroke-width="2.5" stroke-dasharray="1.2 0.8" fill="none"/>
<path d="M418.8 297.6L424.5 307.2" stroke="#7a2a3a" stroke-width="2.5" stroke-dasharray="1.2 0.8" fill="none"/>
<rect transform="translate(425.2 297.0) rotate(58)" x="-9.2" y="-3.6" width="18.4" height="7.0" fill="#fff"/>
<text transform="translate(425.2 297.0) rotate(58)" x="0" y="3.1" text-anchor="middle" font-size="9.8" font-weight="bold" font-style="italic" fill="#000" stroke="#000" stroke-width="0.3" textLength="17.4" lengthAdjust="spacingAndGlyphs">2.97</text>
<text x="398.7" y="277.0" font-size="9.2" font-weight="bold" fill="#000" stroke="#000" stroke-width="0.22" textLength="27.5" lengthAdjust="spacingAndGlyphs">Se(<tspan font-style="italic">m1</tspan>)</text>
<path d="M526.1 261.8L544.7 283.2" stroke="#b0223a" stroke-width="1.8" fill="none"/>
<path d="M531.7 310.8L500.2 313.7" stroke="#b0223a" stroke-width="1.8" fill="none"/>
<circle cx="492.5" cy="258.3" r="5.20" fill="url(#gIn)"/>
<circle cx="526.1" cy="261.8" r="5.00" fill="url(#gSe)"/>
<circle cx="531.7" cy="310.8" r="5.20" fill="url(#gSe)"/>
<circle cx="500.2" cy="313.7" r="5.00" fill="url(#gIn)"/>
<path d="M497.4 258.0L513.8 257.8" stroke="#b0223a" stroke-width="2.4" fill="none"/>
<path d="M513.8 257.8L530.3 257.6" stroke="#424242" stroke-width="2.4" fill="none"/>
<path d="M530.3 257.6L537.5 270.4" stroke="#424242" stroke-width="2.4" fill="none"/>
<path d="M537.5 270.4L544.7 283.2" stroke="#b0223a" stroke-width="2.4" fill="none"/>
<path d="M544.7 283.2L536.1 295.9" stroke="#b0223a" stroke-width="2.4" fill="none"/>
<path d="M536.1 295.9L527.5 308.7" stroke="#424242" stroke-width="2.4" fill="none"/>
<path d="M527.5 308.7L512.1 310.4" stroke="#424242" stroke-width="2.4" fill="none"/>
<path d="M512.1 310.4L496.7 312.2" stroke="#b0223a" stroke-width="2.4" fill="none"/>
<path d="M496.7 312.2L490.4 299.2" stroke="#b0223a" stroke-width="2.4" fill="none"/>
<path d="M490.4 299.2L484.1 286.3" stroke="#424242" stroke-width="2.4" fill="none"/>
<path d="M484.1 286.3L490.8 272.1" stroke="#424242" stroke-width="2.4" fill="none"/>
<path d="M490.8 272.1L497.4 258.0" stroke="#b0223a" stroke-width="2.4" fill="none"/>
<path d="M514.9 292.6L484.1 286.3" stroke="#fff" stroke-width="3.1999999999999997" fill="none"/>
<path d="M514.9 292.6L501.0 289.8" stroke="#b8233d" stroke-width="2.3" stroke-dasharray="0.9 1.0" fill="none"/>
<path d="M501.0 289.8L484.1 286.3" stroke="#222" stroke-width="2.3" stroke-dasharray="0.9 1.0" fill="none"/>
<path d="M514.9 292.6L544.7 283.2" stroke="#fff" stroke-width="3.1999999999999997" fill="none"/>
<path d="M514.9 292.6L528.3 288.4" stroke="#b8233d" stroke-width="2.3" stroke-dasharray="0.9 1.0" fill="none"/>
<path d="M528.3 288.4L544.7 283.2" stroke="#8c2136" stroke-width="2.3" stroke-dasharray="0.9 1.0" fill="none"/>
<path d="M514.9 292.6L496.7 312.2" stroke="#fff" stroke-width="3.1999999999999997" fill="none"/>
<path d="M514.9 292.6L506.7 301.4" stroke="#b8233d" stroke-width="2.3" stroke-dasharray="0.9 1.0" fill="none"/>
<path d="M506.7 301.4L496.7 312.2" stroke="#8c2136" stroke-width="2.3" stroke-dasharray="0.9 1.0" fill="none"/>
<path d="M514.9 292.6L527.5 308.7" stroke="#fff" stroke-width="3.1999999999999997" fill="none"/>
<path d="M514.9 292.6L520.6 299.8" stroke="#b8233d" stroke-width="2.3" stroke-dasharray="0.9 1.0" fill="none"/>
<path d="M520.6 299.8L527.5 308.7" stroke="#222" stroke-width="2.3" stroke-dasharray="0.9 1.0" fill="none"/>
<circle cx="497.4" cy="258.0" r="5.30" fill="url(#gSe)"/>
<circle cx="530.3" cy="257.6" r="6.00" fill="url(#gIn)"/>
<circle cx="544.7" cy="283.2" r="5.50" fill="url(#gSe)"/>
<circle cx="527.5" cy="308.7" r="6.00" fill="url(#gIn)"/>
<circle cx="496.7" cy="312.2" r="5.50" fill="url(#gSe)"/>
<circle cx="484.1" cy="286.3" r="6.00" fill="url(#gIn)"/>
<circle cx="514.9" cy="292.6" r="4.80" fill="url(#gSe)"/>
<text x="498.5" y="277.0" font-size="9.2" font-weight="bold" fill="#000" stroke="#000" stroke-width="0.22" textLength="27.4" lengthAdjust="spacingAndGlyphs">Se(<tspan font-style="italic">m2</tspan>)</text>
<text transform="translate(501.6 284.0) rotate(12)" x="0" y="3.1" text-anchor="middle" font-size="9.4" font-weight="bold" font-style="italic" fill="#000" stroke="#000" stroke-width="0.3" textLength="16.2" lengthAdjust="spacingAndGlyphs">2.97</text>
<text transform="translate(526.5 283.0) rotate(-14)" x="0" y="3.1" text-anchor="middle" font-size="9.4" font-weight="bold" font-style="italic" fill="#000" stroke="#000" stroke-width="0.3" textLength="16.2" lengthAdjust="spacingAndGlyphs">2.83</text>
<text transform="translate(502.4 299.4) rotate(-50)" x="0" y="3.1" text-anchor="middle" font-size="9.4" font-weight="bold" font-style="italic" fill="#000" stroke="#000" stroke-width="0.3" textLength="16.2" lengthAdjust="spacingAndGlyphs">2.79</text>
<text transform="translate(526.8 298.8) rotate(52)" x="0" y="3.1" text-anchor="middle" font-size="9.4" font-weight="bold" font-style="italic" fill="#000" stroke="#000" stroke-width="0.3" textLength="16.2" lengthAdjust="spacingAndGlyphs">2.69</text>
<path d="M595.1 314.2L579.7 291.1" stroke="#424242" stroke-width="1.8" fill="none"/>
<path d="M622.4 259.6L642.7 282.3" stroke="#b0223a" stroke-width="1.8" fill="none"/>
<circle cx="589.5" cy="259.6" r="5.20" fill="url(#gIn)"/>
<circle cx="622.4" cy="259.6" r="5.00" fill="url(#gSe)"/>
<circle cx="642.7" cy="282.3" r="5.20" fill="url(#gIn)"/>
<circle cx="595.1" cy="314.2" r="5.20" fill="url(#gIn)"/>
<circle cx="579.7" cy="291.1" r="5.20" fill="url(#gSe)"/>
<path d="M594.4 257.5L610.7 257.9" stroke="#b0223a" stroke-width="2.4" fill="none"/>
<path d="M610.7 257.9L627.0 258.2" stroke="#424242" stroke-width="2.4" fill="none"/>
<path d="M627.0 258.2L633.8 271.4" stroke="#424242" stroke-width="2.4" fill="none"/>
<path d="M633.8 271.4L640.6 284.5" stroke="#b0223a" stroke-width="2.4" fill="none"/>
<path d="M640.6 284.5L634.3 297.4" stroke="#b0223a" stroke-width="2.4" fill="none"/>
<path d="M634.3 297.4L628.0 310.3" stroke="#424242" stroke-width="2.4" fill="none"/>
<path d="M628.0 310.3L613.0 311.6" stroke="#424242" stroke-width="2.4" fill="none"/>
<path d="M613.0 311.6L597.9 312.8" stroke="#b0223a" stroke-width="2.4" fill="none"/>
<path d="M597.9 312.8L590.9 299.9" stroke="#b0223a" stroke-width="2.4" fill="none"/>
<path d="M590.9 299.9L583.9 286.9" stroke="#424242" stroke-width="2.4" fill="none"/>
<path d="M583.9 286.9L589.1 272.2" stroke="#424242" stroke-width="2.4" fill="none"/>
<path d="M589.1 272.2L594.4 257.5" stroke="#b0223a" stroke-width="2.4" fill="none"/>
<path d="M607.7 289.7L583.9 286.9" stroke="#fff" stroke-width="3.1999999999999997" fill="none"/>
<path d="M607.7 289.7L597.0 288.4" stroke="#b8233d" stroke-width="2.3" stroke-dasharray="0.9 1.0" fill="none"/>
<path d="M597.0 288.4L583.9 286.9" stroke="#222" stroke-width="2.3" stroke-dasharray="0.9 1.0" fill="none"/>
<path d="M607.7 289.7L597.9 312.8" stroke="#fff" stroke-width="3.1999999999999997" fill="none"/>
<path d="M607.7 289.7L603.3 300.1" stroke="#b8233d" stroke-width="2.3" stroke-dasharray="0.9 1.0" fill="none"/>
<path d="M603.3 300.1L597.9 312.8" stroke="#8c2136" stroke-width="2.3" stroke-dasharray="0.9 1.0" fill="none"/>
<path d="M607.7 289.7L628.0 310.3" stroke="#fff" stroke-width="3.1999999999999997" fill="none"/>
<path d="M607.7 289.7L616.8 299.0" stroke="#b8233d" stroke-width="2.3" stroke-dasharray="0.9 1.0" fill="none"/>
<path d="M616.8 299.0L628.0 310.3" stroke="#222" stroke-width="2.3" stroke-dasharray="0.9 1.0" fill="none"/>
<circle cx="594.4" cy="257.5" r="5.30" fill="url(#gSe)"/>
<circle cx="627.0" cy="258.2" r="6.00" fill="url(#gIn)"/>
<circle cx="640.6" cy="284.5" r="5.50" fill="url(#gSe)"/>
<circle cx="628.0" cy="310.3" r="5.80" fill="url(#gIn)"/>
<circle cx="597.9" cy="312.8" r="5.50" fill="url(#gSe)"/>
<circle cx="583.9" cy="286.9" r="5.60" fill="url(#gIn)"/>
<circle cx="607.7" cy="289.7" r="4.80" fill="url(#gSe)"/>
<text x="606.3" y="281.8" font-size="9.2" font-weight="bold" fill="#000" stroke="#000" stroke-width="0.22" textLength="28.0" lengthAdjust="spacingAndGlyphs">Se(<tspan font-style="italic">m3</tspan>)</text>
<text transform="translate(597.9 283.0) rotate(8)" x="0" y="3.1" text-anchor="middle" font-size="9.4" font-weight="bold" font-style="italic" fill="#000" stroke="#000" stroke-width="0.3" textLength="16.2" lengthAdjust="spacingAndGlyphs">2.67</text>
<text transform="translate(599.4 297.4) rotate(-65)" x="0" y="3.1" text-anchor="middle" font-size="9.4" font-weight="bold" font-style="italic" fill="#000" stroke="#000" stroke-width="0.3" textLength="16.2" lengthAdjust="spacingAndGlyphs">2.75</text>
<text transform="translate(621.0 296.0) rotate(48)" x="0" y="3.1" text-anchor="middle" font-size="9.4" font-weight="bold" font-style="italic" fill="#000" stroke="#000" stroke-width="0.3" textLength="16.2" lengthAdjust="spacingAndGlyphs">2.84</text>
<path d="M183.9 360.8L170.8 369.9" stroke="#b0223a" stroke-width="2.5" fill="none"/>
<path d="M170.8 369.9L157.7 378.9" stroke="#424242" stroke-width="2.5" fill="none"/>
<path d="M183.9 360.8L184.1 369.9" stroke="#b0223a" stroke-width="2.5" fill="none"/>
<path d="M184.1 369.9L184.2 378.9" stroke="#424242" stroke-width="2.5" fill="none"/>
<circle cx="157.7" cy="378.9" r="6.20" fill="url(#gIn)"/>
<circle cx="184.2" cy="378.9" r="6.20" fill="url(#gIn)"/>
<circle cx="210.8" cy="378.9" r="6.20" fill="url(#gIn)"/>
<circle cx="183.9" cy="360.8" r="5.20" fill="url(#gSe)"/>
<polygon points="183.9,360.8 185.6,365.4 186.0,364.8 205.3,377.7 204.5,378.9 210.8,378.9 208.4,373.1 207.7,374.3 188.4,361.3 188.8,360.6" fill="#fff"/>
<path d="M187.2 363.0L196.9 369.5" stroke="#8c2136" stroke-width="2.5" stroke-dasharray="1.2 0.8" fill="none"/>
<path d="M196.9 369.5L206.5 376.0" stroke="#4a4a4a" stroke-width="2.5" stroke-dasharray="1.2 0.8" fill="none"/>
<text transform="translate(201.2 364.0) rotate(30)" x="0" y="3.1" text-anchor="middle" font-size="10.0" font-weight="bold" font-style="italic" fill="#ee7d31" stroke="#ee7d31" stroke-width="0.3" textLength="18.0" lengthAdjust="spacingAndGlyphs">0.69</text>
<text x="162.6" y="350.0" font-size="9.2" font-weight="bold" fill="#000" stroke="#000" stroke-width="0.22" textLength="37.4" lengthAdjust="spacingAndGlyphs"><tspan font-style="italic">Se(t or b)</tspan></text>
<text x="163.6" y="403.0" font-size="9.2" font-weight="bold" fill="#000" stroke="#000" stroke-width="0.22" textLength="34.8" lengthAdjust="spacingAndGlyphs">In(<tspan font-style="italic">t or b</tspan>)</text>
<path d="M304.9 369.7L292.8 358.1" stroke="#b0223a" stroke-width="2.5" fill="none"/>
<path d="M292.8 358.1L278.1 343.9" stroke="#424242" stroke-width="2.5" fill="none"/>
<path d="M304.9 369.7L305.4 358.1" stroke="#b0223a" stroke-width="2.5" fill="none"/>
<path d="M305.4 358.1L305.9 343.9" stroke="#424242" stroke-width="2.5" fill="none"/>
<path d="M304.9 369.7L317.8 358.1" stroke="#b0223a" stroke-width="2.5" fill="none"/>
<path d="M317.8 358.1L333.6 343.9" stroke="#424242" stroke-width="2.5" fill="none"/>
<path d="M304.9 369.7L292.8 381.5" stroke="#b0223a" stroke-width="2.5" fill="none"/>
<path d="M292.8 381.5L278.1 396.0" stroke="#424242" stroke-width="2.5" fill="none"/>
<path d="M304.9 369.7L305.4 381.5" stroke="#b0223a" stroke-width="2.5" fill="none"/>
<path d="M305.4 381.5L305.9 396.0" stroke="#424242" stroke-width="2.5" fill="none"/>
<circle cx="278.1" cy="343.9" r="6.50" fill="url(#gIn)"/>
<circle cx="305.9" cy="343.9" r="6.50" fill="url(#gIn)"/>
<circle cx="333.6" cy="343.9" r="6.50" fill="url(#gIn)"/>
<circle cx="278.1" cy="396.0" r="6.50" fill="url(#gIn)"/>
<circle cx="305.9" cy="396.0" r="6.50" fill="url(#gIn)"/>
<circle cx="333.6" cy="396.0" r="6.50" fill="url(#gIn)"/>
<circle cx="304.9" cy="369.7" r="4.80" fill="url(#gSe)"/>
<polygon points="304.9,369.7 305.9,374.5 306.4,374.0 328.3,394.0 327.4,395.1 333.6,396.0 332.1,389.9 331.2,390.9 309.3,370.9 309.8,370.3" fill="#fff"/>
<path d="M307.8 372.4L318.8 382.4" stroke="#b3203a" stroke-width="2.5" stroke-dasharray="1.2 0.8" fill="none"/>
<path d="M318.8 382.4L329.8 392.5" stroke="#4a4a4a" stroke-width="2.5" stroke-dasharray="1.2 0.8" fill="none"/>
<text transform="translate(323.6 378.4) rotate(40)" x="0" y="3.1" text-anchor="middle" font-size="10.0" font-weight="bold" font-style="italic" fill="#ee7d31" stroke="#ee7d31" stroke-width="0.3" textLength="18.0" lengthAdjust="spacingAndGlyphs">0.34</text>
<text x="249.8" y="346.3" font-size="9.2" font-weight="bold" fill="#000" stroke="#000" stroke-width="0.22" textLength="17.1" lengthAdjust="spacingAndGlyphs">In(<tspan font-style="italic">t</tspan>)</text>
<text x="269.8" y="374.0" font-size="9.2" font-weight="bold" fill="#000" stroke="#000" stroke-width="0.22" textLength="22.6" lengthAdjust="spacingAndGlyphs">Se(<tspan font-style="italic">m</tspan>)</text>
<text x="249.8" y="399.2" font-size="9.2" font-weight="bold" fill="#000" stroke="#000" stroke-width="0.22" textLength="18.3" lengthAdjust="spacingAndGlyphs">In(<tspan font-style="italic">b</tspan>)</text>
<path d="M424.2 345.0L443.9 371.0" stroke="#b0223a" stroke-width="1.8" fill="none"/>
<path d="M394.8 397.5L383.9 369.6" stroke="#424242" stroke-width="1.8" fill="none"/>
<circle cx="394.1" cy="342.9" r="5.00" fill="url(#gIn)"/>
<circle cx="424.2" cy="345.0" r="5.00" fill="url(#gSe)"/>
<circle cx="443.9" cy="371.0" r="5.00" fill="url(#gIn)"/>
<circle cx="424.3" cy="395.4" r="5.00" fill="url(#gSe)"/>
<circle cx="394.8" cy="397.5" r="5.20" fill="url(#gIn)"/>
<circle cx="383.9" cy="369.6" r="5.00" fill="url(#gSe)"/>
<path d="M397.6 345.7L412.3 344.3" stroke="#b0223a" stroke-width="2.4" fill="none"/>
<path d="M412.3 344.3L427.0 342.9" stroke="#424242" stroke-width="2.4" fill="none"/>
<path d="M427.0 342.9L433.5 356.2" stroke="#424242" stroke-width="2.4" fill="none"/>
<path d="M433.5 356.2L440.0 369.5" stroke="#b0223a" stroke-width="2.4" fill="none"/>
<path d="M440.0 369.5L433.9 383.5" stroke="#b0223a" stroke-width="2.4" fill="none"/>
<path d="M433.9 383.5L427.7 397.5" stroke="#424242" stroke-width="2.4" fill="none"/>
<path d="M427.7 397.5L412.6 396.1" stroke="#424242" stroke-width="2.4" fill="none"/>
<path d="M412.6 396.1L397.6 394.7" stroke="#b0223a" stroke-width="2.4" fill="none"/>
<path d="M397.6 394.7L389.0 382.4" stroke="#b0223a" stroke-width="2.4" fill="none"/>
<path d="M389.0 382.4L380.4 370.2" stroke="#424242" stroke-width="2.4" fill="none"/>
<path d="M380.4 370.2L389.0 357.9" stroke="#424242" stroke-width="2.4" fill="none"/>
<path d="M389.0 357.9L397.6 345.7" stroke="#b0223a" stroke-width="2.4" fill="none"/>
<path d="M410.9 369.0L404.2 357.4" stroke="#b0223a" stroke-width="1.9" fill="none"/>
<path d="M404.2 357.4L397.6 345.7" stroke="#b0223a" stroke-width="1.9" fill="none"/>
<path d="M410.9 369.0L419.0 355.9" stroke="#b0223a" stroke-width="1.9" fill="none"/>
<path d="M419.0 355.9L427.0 342.9" stroke="#424242" stroke-width="1.9" fill="none"/>
<path d="M410.9 369.0L425.5 369.2" stroke="#b0223a" stroke-width="1.9" fill="none"/>
<path d="M425.5 369.2L440.0 369.5" stroke="#b0223a" stroke-width="1.9" fill="none"/>
<path d="M410.9 369.0L404.2 381.9" stroke="#b0223a" stroke-width="1.9" fill="none"/>
<path d="M404.2 381.9L397.6 394.7" stroke="#b0223a" stroke-width="1.9" fill="none"/>
<path d="M410.9 369.0L395.7 369.6" stroke="#b0223a" stroke-width="1.9" fill="none"/>
<path d="M395.7 369.6L380.4 370.2" stroke="#424242" stroke-width="1.9" fill="none"/>
<circle cx="397.6" cy="345.7" r="5.30" fill="url(#gSe)"/>
<circle cx="427.0" cy="342.9" r="6.00" fill="url(#gIn)"/>
<circle cx="440.0" cy="369.5" r="5.70" fill="url(#gSe)"/>
<circle cx="427.7" cy="397.5" r="6.00" fill="url(#gIn)"/>
<circle cx="397.6" cy="394.7" r="5.30" fill="url(#gSe)"/>
<circle cx="380.4" cy="370.2" r="6.00" fill="url(#gIn)"/>
<circle cx="410.9" cy="369.0" r="4.80" fill="url(#gSe)"/>
<polygon points="411.2,369.4 410.6,374.8 411.1,374.5 422.5,393.8 421.3,394.5 427.7,397.5 428.2,390.5 427.0,391.2 415.6,371.9 416.1,371.6" fill="#fff"/>
<path d="M413.4 373.2L419.1 382.9" stroke="#c2233f" stroke-width="2.5" stroke-dasharray="1.2 0.8" fill="none"/>
<path d="M419.1 382.9L424.8 392.5" stroke="#7a2a3a" stroke-width="2.5" stroke-dasharray="1.2 0.8" fill="none"/>
<rect transform="translate(423.9 382.5) rotate(58)" x="-9.2" y="-3.6" width="18.4" height="7.0" fill="#fff"/>
<text transform="translate(423.9 382.5) rotate(58)" x="0" y="3.1" text-anchor="middle" font-size="9.8" font-weight="bold" font-style="italic" fill="#ee7d31" stroke="#ee7d31" stroke-width="0.3" textLength="17.4" lengthAdjust="spacingAndGlyphs">0.33</text>
<text x="399.8" y="363.6" font-size="9.2" font-weight="bold" fill="#000" stroke="#000" stroke-width="0.22" textLength="27.3" lengthAdjust="spacingAndGlyphs">Se(<tspan font-style="italic">m1</tspan>)</text>
<path d="M526.3 345.9L544.9 367.3" stroke="#b0223a" stroke-width="1.8" fill="none"/>
<path d="M531.9 394.9L500.4 397.8" stroke="#b0223a" stroke-width="1.8" fill="none"/>
<circle cx="492.7" cy="342.4" r="5.20" fill="url(#gIn)"/>
<circle cx="526.3" cy="345.9" r="5.00" fill="url(#gSe)"/>
<circle cx="531.9" cy="394.9" r="5.20" fill="url(#gSe)"/>
<circle cx="500.4" cy="397.8" r="5.00" fill="url(#gIn)"/>
<path d="M497.6 342.1L514.0 341.9" stroke="#b0223a" stroke-width="2.4" fill="none"/>
<path d="M514.0 341.9L530.5 341.7" stroke="#424242" stroke-width="2.4" fill="none"/>
<path d="M530.5 341.7L537.7 354.5" stroke="#424242" stroke-width="2.4" fill="none"/>
<path d="M537.7 354.5L544.9 367.3" stroke="#b0223a" stroke-width="2.4" fill="none"/>
<path d="M544.9 367.3L536.3 380.1" stroke="#b0223a" stroke-width="2.4" fill="none"/>
<path d="M536.3 380.1L527.7 392.8" stroke="#424242" stroke-width="2.4" fill="none"/>
<path d="M527.7 392.8L512.3 394.6" stroke="#424242" stroke-width="2.4" fill="none"/>
<path d="M512.3 394.6L496.9 396.3" stroke="#b0223a" stroke-width="2.4" fill="none"/>
<path d="M496.9 396.3L490.6 383.4" stroke="#b0223a" stroke-width="2.4" fill="none"/>
<path d="M490.6 383.4L484.3 370.4" stroke="#424242" stroke-width="2.4" fill="none"/>
<path d="M484.3 370.4L490.9 356.2" stroke="#424242" stroke-width="2.4" fill="none"/>
<path d="M490.9 356.2L497.6 342.1" stroke="#b0223a" stroke-width="2.4" fill="none"/>
<path d="M515.1 376.7L484.3 370.4" stroke="#fff" stroke-width="3.1999999999999997" fill="none"/>
<path d="M515.1 376.7L501.2 373.9" stroke="#b8233d" stroke-width="2.3" stroke-dasharray="0.9 1.0" fill="none"/>
<path d="M501.2 373.9L484.3 370.4" stroke="#222" stroke-width="2.3" stroke-dasharray="0.9 1.0" fill="none"/>
<path d="M515.1 376.7L544.9 367.3" stroke="#fff" stroke-width="3.1999999999999997" fill="none"/>
<path d="M515.1 376.7L528.5 372.5" stroke="#b8233d" stroke-width="2.3" stroke-dasharray="0.9 1.0" fill="none"/>
<path d="M528.5 372.5L544.9 367.3" stroke="#8c2136" stroke-width="2.3" stroke-dasharray="0.9 1.0" fill="none"/>
<path d="M515.1 376.7L496.9 396.3" stroke="#fff" stroke-width="3.1999999999999997" fill="none"/>
<path d="M515.1 376.7L506.9 385.5" stroke="#b8233d" stroke-width="2.3" stroke-dasharray="0.9 1.0" fill="none"/>
<path d="M506.9 385.5L496.9 396.3" stroke="#8c2136" stroke-width="2.3" stroke-dasharray="0.9 1.0" fill="none"/>
<path d="M515.1 376.7L527.7 392.8" stroke="#fff" stroke-width="3.1999999999999997" fill="none"/>
<path d="M515.1 376.7L520.8 383.9" stroke="#b8233d" stroke-width="2.3" stroke-dasharray="0.9 1.0" fill="none"/>
<path d="M520.8 383.9L527.7 392.8" stroke="#222" stroke-width="2.3" stroke-dasharray="0.9 1.0" fill="none"/>
<circle cx="497.6" cy="342.1" r="5.30" fill="url(#gSe)"/>
<circle cx="530.5" cy="341.7" r="6.00" fill="url(#gIn)"/>
<circle cx="544.9" cy="367.3" r="5.50" fill="url(#gSe)"/>
<circle cx="527.7" cy="392.8" r="6.00" fill="url(#gIn)"/>
<circle cx="496.9" cy="396.3" r="5.50" fill="url(#gSe)"/>
<circle cx="484.3" cy="370.4" r="6.00" fill="url(#gIn)"/>
<circle cx="515.1" cy="376.7" r="4.80" fill="url(#gSe)"/>
<text x="499.9" y="361.5" font-size="9.2" font-weight="bold" fill="#000" stroke="#000" stroke-width="0.22" textLength="27.2" lengthAdjust="spacingAndGlyphs">Se(<tspan font-style="italic">m2</tspan>)</text>
<text transform="translate(501.6 366.8) rotate(10)" x="0" y="3.1" text-anchor="middle" font-size="9.4" font-weight="bold" font-style="italic" fill="#ee7d31" stroke="#ee7d31" stroke-width="0.3" textLength="16.2" lengthAdjust="spacingAndGlyphs">0.33</text>
<text transform="translate(526.1 367.1) rotate(-17)" x="0" y="3.1" text-anchor="middle" font-size="9.4" font-weight="bold" font-style="italic" fill="#ee7d31" stroke="#ee7d31" stroke-width="0.3" textLength="16.2" lengthAdjust="spacingAndGlyphs">0.47</text>
<text transform="translate(502.7 385.3) rotate(-48)" x="0" y="3.1" text-anchor="middle" font-size="9.4" font-weight="bold" font-style="italic" fill="#ee7d31" stroke="#ee7d31" stroke-width="0.3" textLength="16.2" lengthAdjust="spacingAndGlyphs">0.53</text>
<text transform="translate(526.5 384.6) rotate(52)" x="0" y="3.1" text-anchor="middle" font-size="9.4" font-weight="bold" font-style="italic" fill="#ee7d31" stroke="#ee7d31" stroke-width="0.3" textLength="16.2" lengthAdjust="spacingAndGlyphs">0.66</text>
<path d="M595.1 398.4L579.7 375.3" stroke="#424242" stroke-width="1.8" fill="none"/>
<path d="M622.4 343.8L642.7 366.5" stroke="#b0223a" stroke-width="1.8" fill="none"/>
<circle cx="589.5" cy="343.8" r="5.20" fill="url(#gIn)"/>
<circle cx="622.4" cy="343.8" r="5.00" fill="url(#gSe)"/>
<circle cx="642.7" cy="366.5" r="5.20" fill="url(#gIn)"/>
<circle cx="595.1" cy="398.4" r="5.20" fill="url(#gIn)"/>
<circle cx="579.7" cy="375.3" r="5.20" fill="url(#gSe)"/>
<path d="M594.4 341.7L610.7 342.1" stroke="#b0223a" stroke-width="2.4" fill="none"/>
<path d="M610.7 342.1L627.0 342.4" stroke="#424242" stroke-width="2.4" fill="none"/>
<path d="M627.0 342.4L633.8 355.6" stroke="#424242" stroke-width="2.4" fill="none"/>
<path d="M633.8 355.6L640.6 368.7" stroke="#b0223a" stroke-width="2.4" fill="none"/>
<path d="M640.6 368.7L634.3 381.6" stroke="#b0223a" stroke-width="2.4" fill="none"/>
<path d="M634.3 381.6L628.0 394.5" stroke="#424242" stroke-width="2.4" fill="none"/>
<path d="M628.0 394.5L613.0 395.8" stroke="#424242" stroke-width="2.4" fill="none"/>
<path d="M613.0 395.8L597.9 397.0" stroke="#b0223a" stroke-width="2.4" fill="none"/>
<path d="M597.9 397.0L590.9 384.1" stroke="#b0223a" stroke-width="2.4" fill="none"/>
<path d="M590.9 384.1L583.9 371.1" stroke="#424242" stroke-width="2.4" fill="none"/>
<path d="M583.9 371.1L589.1 356.4" stroke="#424242" stroke-width="2.4" fill="none"/>
<path d="M589.1 356.4L594.4 341.7" stroke="#b0223a" stroke-width="2.4" fill="none"/>
<path d="M607.7 373.9L583.9 371.1" stroke="#fff" stroke-width="3.1999999999999997" fill="none"/>
<path d="M607.7 373.9L597.0 372.6" stroke="#b8233d" stroke-width="2.3" stroke-dasharray="0.9 1.0" fill="none"/>
<path d="M597.0 372.6L583.9 371.1" stroke="#222" stroke-width="2.3" stroke-dasharray="0.9 1.0" fill="none"/>
<path d="M607.7 373.9L597.9 397.0" stroke="#fff" stroke-width="3.1999999999999997" fill="none"/>
<path d="M607.7 373.9L603.3 384.3" stroke="#b8233d" stroke-width="2.3" stroke-dasharray="0.9 1.0" fill="none"/>
<path d="M603.3 384.3L597.9 397.0" stroke="#8c2136" stroke-width="2.3" stroke-dasharray="0.9 1.0" fill="none"/>
<path d="M607.7 373.9L628.0 394.5" stroke="#fff" stroke-width="3.1999999999999997" fill="none"/>
<path d="M607.7 373.9L616.8 383.2" stroke="#b8233d" stroke-width="2.3" stroke-dasharray="0.9 1.0" fill="none"/>
<path d="M616.8 383.2L628.0 394.5" stroke="#222" stroke-width="2.3" stroke-dasharray="0.9 1.0" fill="none"/>
<circle cx="594.4" cy="341.7" r="5.30" fill="url(#gSe)"/>
<circle cx="627.0" cy="342.4" r="6.00" fill="url(#gIn)"/>
<circle cx="640.6" cy="368.7" r="5.50" fill="url(#gSe)"/>
<circle cx="628.0" cy="394.5" r="5.80" fill="url(#gIn)"/>
<circle cx="597.9" cy="397.0" r="5.50" fill="url(#gSe)"/>
<circle cx="583.9" cy="371.1" r="5.60" fill="url(#gIn)"/>
<circle cx="607.7" cy="373.9" r="4.80" fill="url(#gSe)"/>
<text x="606.6" y="366.0" font-size="9.2" font-weight="bold" fill="#000" stroke="#000" stroke-width="0.22" textLength="27.8" lengthAdjust="spacingAndGlyphs">Se(<tspan font-style="italic">m3</tspan>)</text>
<text transform="translate(598.0 368.4) rotate(8)" x="0" y="3.1" text-anchor="middle" font-size="9.4" font-weight="bold" font-style="italic" fill="#ee7d31" stroke="#ee7d31" stroke-width="0.3" textLength="16.2" lengthAdjust="spacingAndGlyphs">0.67</text>
<text transform="translate(598.9 383.6) rotate(-65)" x="0" y="3.1" text-anchor="middle" font-size="9.4" font-weight="bold" font-style="italic" fill="#ee7d31" stroke="#ee7d31" stroke-width="0.3" textLength="16.2" lengthAdjust="spacingAndGlyphs">0.57</text>
<text transform="translate(621.0 382.4) rotate(48)" x="0" y="3.1" text-anchor="middle" font-size="9.4" font-weight="bold" font-style="italic" fill="#ee7d31" stroke="#ee7d31" stroke-width="0.3" textLength="16.2" lengthAdjust="spacingAndGlyphs">0.48</text>
<text x="74.7" y="283.2" font-size="12.2" font-weight="bold" stroke="#000" stroke-width="0.22" text-anchor="middle" textLength="68.2" lengthAdjust="spacingAndGlyphs">Bond length</text>
<text x="74.7" y="299.6" font-size="12.2" font-weight="bold" stroke="#000" stroke-width="0.22" text-anchor="middle" textLength="16.2" lengthAdjust="spacingAndGlyphs">(Å)</text>
<text x="74.7" y="369.2" font-size="12.2" font-weight="bold" fill="#ee7d31" stroke="#ee7d31" stroke-width="0.22" text-anchor="middle" textLength="30.6" lengthAdjust="spacingAndGlyphs">ICOBI</text>
<text x="74.7" y="385.6" font-size="12.2" font-weight="bold" fill="#ee7d31" stroke="#ee7d31" stroke-width="0.22" text-anchor="middle" textLength="50.6" lengthAdjust="spacingAndGlyphs">per bond</text>
<text x="77.0" y="457.2" font-size="12.2" font-weight="bold" fill="#bdb74c" stroke="#bdb74c" stroke-width="0.22" text-anchor="middle" textLength="84.0" lengthAdjust="spacingAndGlyphs">Charge density</text>
<text x="76.7" y="473.2" font-size="12.2" font-weight="bold" fill="#bdb74c" stroke="#bdb74c" stroke-width="0.22" text-anchor="middle" textLength="57.4" lengthAdjust="spacingAndGlyphs">difference</text>
<path d="M183.8 447.4L171.1 456.7" stroke="#b0223a" stroke-width="2.4" fill="none"/>
<path d="M171.1 456.7L158.4 466.0" stroke="#424242" stroke-width="2.4" fill="none"/>
<path d="M183.8 447.4L182.6 456.5" stroke="#b0223a" stroke-width="2.4" fill="none"/>
<path d="M182.6 456.5L181.4 465.6" stroke="#424242" stroke-width="2.4" fill="none"/>
<path d="M183.8 447.4L197.1 457.4" stroke="#b0223a" stroke-width="2.4" fill="none"/>
<path d="M197.1 457.4L210.4 467.4" stroke="#424242" stroke-width="2.4" fill="none"/>
<circle cx="183.8" cy="447.4" r="5.40" fill="url(#gSe)"/>
<ellipse cx="184.0" cy="440.2" rx="5.3" ry="3.9" transform="rotate(0 184.0 440.2)" fill="url(#gY)" fill-opacity="0.88"/>
<ellipse cx="172.4" cy="455.0" rx="5.6" ry="7.6" transform="rotate(18 172.4 455.0)" fill="url(#gY)" fill-opacity="0.88"/>
<ellipse cx="195.6" cy="456.2" rx="5.6" ry="8.0" transform="rotate(-22 195.6 456.2)" fill="url(#gY)" fill-opacity="0.88"/>
<ellipse cx="182.4" cy="454.2" rx="5.8" ry="6.6" fill="#a9b83a" fill-opacity="0.85"/>
<path d="M178.2 451.5L168.1 458.9" stroke="#e07a28" stroke-width="1.5" stroke-opacity="0.75" fill="none"/>
<path d="M183.3 451.4L182.3 458.7" stroke="#e07a28" stroke-width="1.5" stroke-opacity="0.75" fill="none"/>
<path d="M189.7 451.8L200.3 459.8" stroke="#e07a28" stroke-width="1.5" stroke-opacity="0.75" fill="none"/>
<circle cx="158.4" cy="466.0" r="6.20" fill="url(#gIn)"/>
<circle cx="181.4" cy="465.6" r="6.20" fill="url(#gIn)"/>
<circle cx="210.4" cy="467.4" r="6.20" fill="url(#gIn)"/>
<text x="162.6" y="431.6" font-size="9.2" font-weight="bold" font-style="italic" stroke="#000" stroke-width="0.22" textLength="37.4" lengthAdjust="spacingAndGlyphs">Se(t or b)</text>
<text x="163.6" y="487.4" font-size="9.2" font-weight="bold" fill="#000" stroke="#000" stroke-width="0.22" textLength="34.8" lengthAdjust="spacingAndGlyphs">In(<tspan font-style="italic">t or b</tspan>)</text>
<path d="M305.6 456.6L291.6 443.6" stroke="#b0223a" stroke-width="2.4" fill="none"/>
<path d="M291.6 443.6L277.6 430.6" stroke="#424242" stroke-width="2.4" fill="none"/>
<path d="M305.6 456.6L305.8 443.6" stroke="#b0223a" stroke-width="2.4" fill="none"/>
<path d="M305.8 443.6L306.0 430.6" stroke="#424242" stroke-width="2.4" fill="none"/>
<path d="M305.6 456.6L319.6 443.6" stroke="#b0223a" stroke-width="2.4" fill="none"/>
<path d="M319.6 443.6L333.6 430.6" stroke="#424242" stroke-width="2.4" fill="none"/>
<path d="M305.6 456.6L291.8 469.9" stroke="#b0223a" stroke-width="2.4" fill="none"/>
<path d="M291.8 469.9L278.0 483.2" stroke="#424242" stroke-width="2.4" fill="none"/>
<path d="M305.6 456.6L305.3 469.9" stroke="#b0223a" stroke-width="2.4" fill="none"/>
<path d="M305.3 469.9L305.0 483.2" stroke="#424242" stroke-width="2.4" fill="none"/>
<path d="M305.6 456.6L319.6 469.9" stroke="#b0223a" stroke-width="2.4" fill="none"/>
<path d="M319.6 469.9L333.6 483.2" stroke="#424242" stroke-width="2.4" fill="none"/>
<circle cx="277.6" cy="430.6" r="6.50" fill="url(#gIn)"/>
<circle cx="306.0" cy="430.6" r="6.50" fill="url(#gIn)"/>
<circle cx="333.6" cy="430.6" r="6.50" fill="url(#gIn)"/>
<circle cx="278.0" cy="483.2" r="6.50" fill="url(#gIn)"/>
<circle cx="305.0" cy="483.2" r="6.50" fill="url(#gIn)"/>
<circle cx="333.6" cy="483.2" r="6.50" fill="url(#gIn)"/>
<circle cx="305.6" cy="456.6" r="5.80" fill="url(#gSe)"/>
<ellipse cx="295.4" cy="447.6" rx="2.9" ry="2.5" transform="rotate(0 295.4 447.6)" fill="url(#gY)" fill-opacity="0.9"/>
<ellipse cx="305.6" cy="447.8" rx="2.9" ry="2.5" transform="rotate(0 305.6 447.8)" fill="url(#gY)" fill-opacity="0.9"/>
<ellipse cx="316.0" cy="447.6" rx="2.9" ry="2.5" transform="rotate(0 316.0 447.6)" fill="url(#gY)" fill-opacity="0.9"/>
<ellipse cx="295.4" cy="466.6" rx="2.9" ry="2.5" transform="rotate(0 295.4 466.6)" fill="url(#gY)" fill-opacity="0.9"/>
<ellipse cx="305.4" cy="466.8" rx="2.9" ry="2.5" transform="rotate(0 305.4 466.8)" fill="url(#gY)" fill-opacity="0.9"/>
<ellipse cx="316.0" cy="466.6" rx="2.9" ry="2.5" transform="rotate(0 316.0 466.6)" fill="url(#gY)" fill-opacity="0.9"/>
<path d="M297.8 449.3L293.3 445.2" stroke="#dc7a2a" stroke-width="1.3" stroke-opacity="0.7" fill="none"/>
<path d="M305.7 449.3L305.8 445.2" stroke="#dc7a2a" stroke-width="1.3" stroke-opacity="0.7" fill="none"/>
<path d="M313.4 449.3L317.9 445.2" stroke="#dc7a2a" stroke-width="1.3" stroke-opacity="0.7" fill="none"/>
<path d="M297.9 464.0L293.5 468.3" stroke="#dc7a2a" stroke-width="1.3" stroke-opacity="0.7" fill="none"/>
<path d="M305.4 464.0L305.3 468.3" stroke="#dc7a2a" stroke-width="1.3" stroke-opacity="0.7" fill="none"/>
<path d="M313.4 464.0L317.9 468.3" stroke="#dc7a2a" stroke-width="1.3" stroke-opacity="0.7" fill="none"/>
<text x="273.6" y="459.2" font-size="9.2" font-weight="bold" fill="#000" stroke="#000" stroke-width="0.22" textLength="22.4" lengthAdjust="spacingAndGlyphs">Se(<tspan font-style="italic">m</tspan>)</text>
<path d="M414.4 457.4L400.5 444.8" stroke="#b0223a" stroke-width="2.4" fill="none"/>
<path d="M400.5 444.8L386.6 432.2" stroke="#424242" stroke-width="2.4" fill="none"/>
<path d="M414.4 457.4L414.0 444.8" stroke="#b0223a" stroke-width="2.4" fill="none"/>
<path d="M414.0 444.8L413.6 432.2" stroke="#424242" stroke-width="2.4" fill="none"/>
<path d="M414.4 457.4L429.0 444.8" stroke="#b0223a" stroke-width="2.4" fill="none"/>
<path d="M429.0 444.8L443.6 432.2" stroke="#424242" stroke-width="2.4" fill="none"/>
<path d="M414.4 457.4L400.0 469.9" stroke="#b0223a" stroke-width="2.4" fill="none"/>
<path d="M400.0 469.9L385.6 482.5" stroke="#424242" stroke-width="2.4" fill="none"/>
<path d="M414.4 457.4L414.9 469.9" stroke="#b0223a" stroke-width="2.4" fill="none"/>
<path d="M414.9 469.9L415.4 482.5" stroke="#424242" stroke-width="2.4" fill="none"/>
<path d="M414.4 457.4L428.7 469.9" stroke="#b0223a" stroke-width="2.4" fill="none"/>
<path d="M428.7 469.9L443.0 482.5" stroke="#424242" stroke-width="2.4" fill="none"/>
<circle cx="386.6" cy="432.2" r="6.50" fill="url(#gIn)"/>
<circle cx="413.6" cy="432.2" r="6.50" fill="url(#gIn)"/>
<circle cx="443.6" cy="432.2" r="6.50" fill="url(#gIn)"/>
<circle cx="385.6" cy="482.5" r="6.50" fill="url(#gIn)"/>
<circle cx="415.4" cy="482.5" r="6.50" fill="url(#gIn)"/>
<circle cx="443.0" cy="482.5" r="6.50" fill="url(#gIn)"/>
<circle cx="414.4" cy="457.4" r="6.00" fill="url(#gSe)"/>
<ellipse cx="404.4" cy="448.0" rx="3.4" ry="3.0" transform="rotate(0 404.4 448.0)" fill="url(#gY)" fill-opacity="0.9"/>
<ellipse cx="414.4" cy="448.4" rx="3.4" ry="3.0" transform="rotate(0 414.4 448.4)" fill="url(#gY)" fill-opacity="0.9"/>
<ellipse cx="425.0" cy="448.0" rx="3.4" ry="3.0" transform="rotate(0 425.0 448.0)" fill="url(#gY)" fill-opacity="0.9"/>
<ellipse cx="404.4" cy="465.8" rx="3.4" ry="3.0" transform="rotate(0 404.4 465.8)" fill="url(#gY)" fill-opacity="0.9"/>
<ellipse cx="415.0" cy="466.4" rx="3.4" ry="3.0" transform="rotate(0 415.0 466.4)" fill="url(#gY)" fill-opacity="0.9"/>
<ellipse cx="425.0" cy="465.8" rx="3.4" ry="3.0" transform="rotate(0 425.0 465.8)" fill="url(#gY)" fill-opacity="0.9"/>
<path d="M406.9 450.6L401.6 445.8" stroke="#dc7a2a" stroke-width="1.3" stroke-opacity="0.7" fill="none"/>
<path d="M414.2 450.6L414.0 445.8" stroke="#dc7a2a" stroke-width="1.3" stroke-opacity="0.7" fill="none"/>
<path d="M422.3 450.6L427.8 445.8" stroke="#dc7a2a" stroke-width="1.3" stroke-opacity="0.7" fill="none"/>
<path d="M406.6 464.2L401.2 468.9" stroke="#dc7a2a" stroke-width="1.3" stroke-opacity="0.7" fill="none"/>
<path d="M414.7 464.2L414.9 468.9" stroke="#dc7a2a" stroke-width="1.3" stroke-opacity="0.7" fill="none"/>
<path d="M422.1 464.2L427.6 468.9" stroke="#dc7a2a" stroke-width="1.3" stroke-opacity="0.7" fill="none"/>
<text x="373.0" y="460.6" font-size="9.2" font-weight="bold" fill="#000" stroke="#000" stroke-width="0.22" textLength="27.4" lengthAdjust="spacingAndGlyphs">Se(<tspan font-style="italic">m1</tspan>)</text>
<path d="M516.0 457.0L501.3 443.7" stroke="#b0223a" stroke-width="2.4" fill="none"/>
<path d="M501.3 443.7L486.6 430.4" stroke="#424242" stroke-width="2.4" fill="none"/>
<path d="M516.0 457.0L523.2 443.0" stroke="#b0223a" stroke-width="2.4" fill="none"/>
<path d="M523.2 443.0L530.4 429.0" stroke="#424242" stroke-width="2.4" fill="none"/>
<path d="M516.0 457.0L505.3 469.7" stroke="#b0223a" stroke-width="2.4" fill="none"/>
<path d="M505.3 469.7L494.6 482.4" stroke="#424242" stroke-width="2.4" fill="none"/>
<path d="M516.0 457.0L529.5 469.8" stroke="#b0223a" stroke-width="2.4" fill="none"/>
<path d="M529.5 469.8L543.0 482.6" stroke="#424242" stroke-width="2.4" fill="none"/>
<circle cx="486.6" cy="430.4" r="6.40" fill="url(#gIn)"/>
<circle cx="530.4" cy="429.0" r="6.40" fill="url(#gIn)"/>
<circle cx="494.6" cy="482.4" r="6.40" fill="url(#gIn)"/>
<circle cx="543.0" cy="482.6" r="6.40" fill="url(#gIn)"/>
<circle cx="516.0" cy="457.0" r="5.60" fill="url(#gSe)"/>
<ellipse cx="518.2" cy="454.6" rx="3.4" ry="2.6" transform="rotate(-25 518.2 454.6)" fill="#5a9cae" fill-opacity="0.9"/>
<ellipse cx="509.0" cy="448.6" rx="7.0" ry="5.0" transform="rotate(35 509.0 448.6)" fill="url(#gY)" fill-opacity="0.88"/>
<ellipse cx="523.4" cy="446.0" rx="7.0" ry="6.6" transform="rotate(-30 523.4 446.0)" fill="url(#gY)" fill-opacity="0.88"/>
<ellipse cx="507.4" cy="465.4" rx="7.0" ry="6.2" transform="rotate(-35 507.4 465.4)" fill="url(#gY)" fill-opacity="0.88"/>
<ellipse cx="526.4" cy="465.4" rx="6.4" ry="5.6" transform="rotate(40 526.4 465.4)" fill="url(#gY)" fill-opacity="0.88"/>
<path d="M510.1 451.7L501.3 443.7" stroke="#dc7a2a" stroke-width="1.4" stroke-opacity="0.7" fill="none"/>
<path d="M518.9 451.4L523.2 443.0" stroke="#dc7a2a" stroke-width="1.4" stroke-opacity="0.7" fill="none"/>
<path d="M511.7 462.1L505.3 469.7" stroke="#dc7a2a" stroke-width="1.4" stroke-opacity="0.7" fill="none"/>
<path d="M521.4 462.1L529.5 469.8" stroke="#dc7a2a" stroke-width="1.4" stroke-opacity="0.7" fill="none"/>
<text x="475.6" y="459.4" font-size="9.2" font-weight="bold" fill="#000" stroke="#000" stroke-width="0.22" textLength="27.4" lengthAdjust="spacingAndGlyphs"><tspan font-style="italic">Se(m2)</tspan></text>
<path d="M608.0 454.4L596.5 442.4" stroke="#b0223a" stroke-width="2.4" fill="none"/>
<path d="M596.5 442.4L585.0 430.4" stroke="#424242" stroke-width="2.4" fill="none"/>
<path d="M608.0 454.4L621.7 442.7" stroke="#b0223a" stroke-width="2.4" fill="none"/>
<path d="M621.7 442.7L635.4 431.0" stroke="#424242" stroke-width="2.4" fill="none"/>
<path d="M608.0 454.4L609.5 468.7" stroke="#b0223a" stroke-width="2.4" fill="none"/>
<path d="M609.5 468.7L611.0 483.0" stroke="#424242" stroke-width="2.4" fill="none"/>
<circle cx="585.0" cy="430.4" r="6.40" fill="url(#gIn)"/>
<circle cx="635.4" cy="431.0" r="6.40" fill="url(#gIn)"/>
<circle cx="611.0" cy="483.0" r="6.40" fill="url(#gIn)"/>
<circle cx="608.0" cy="454.4" r="5.50" fill="url(#gSe)"/>
<circle cx="610.0" cy="451.6" r="2.4" fill="#4fb0c0" fill-opacity="0.9"/>
<ellipse cx="599.6" cy="445.4" rx="6.6" ry="6.8" transform="rotate(-40 599.6 445.4)" fill="url(#gY)" fill-opacity="0.88"/>
<ellipse cx="620.4" cy="446.4" rx="7.0" ry="5.4" transform="rotate(-35 620.4 446.4)" fill="url(#gY)" fill-opacity="0.88"/>
<ellipse cx="609.4" cy="464.0" rx="7.6" ry="8.6" transform="rotate(0 609.4 464.0)" fill="url(#gY)" fill-opacity="0.88"/>
<path d="M603.4 449.6L596.5 442.4" stroke="#dc7a2a" stroke-width="1.4" stroke-opacity="0.7" fill="none"/>
<path d="M613.5 449.7L621.7 442.7" stroke="#dc7a2a" stroke-width="1.4" stroke-opacity="0.7" fill="none"/>
<path d="M608.6 460.1L609.5 468.7" stroke="#dc7a2a" stroke-width="1.4" stroke-opacity="0.7" fill="none"/>
<text x="569.0" y="459.4" font-size="9.2" font-weight="bold" fill="#000" stroke="#000" stroke-width="0.22" textLength="27.6" lengthAdjust="spacingAndGlyphs">Se(<tspan font-style="italic">m3</tspan>)</text>
<path d="M157.2 493.0C157.2 499.1 159.7 500.6 166.2 500.6L238.4 500.6C243.4 500.6 246.4 503.1 246.4 507.2C246.4 503.1 249.4 500.6 254.4 500.6L326.4 500.6C332.9 500.6 335.4 499.1 335.4 493.0" fill="none" stroke="#111" stroke-width="1.5" stroke-linejoin="round" stroke-linecap="round"/>
<path d="M384.0 493.0C384.0 499.1 386.5 500.6 393.0 500.6L504.0 500.6C509.0 500.6 512.0 503.1 512.0 507.2C512.0 503.1 515.0 500.6 520.0 500.6L630.6 500.6C637.1 500.6 639.6 499.1 639.6 493.0" fill="none" stroke="#111" stroke-width="1.5" stroke-linejoin="round" stroke-linecap="round"/>
<text x="217.0" y="530.6" font-size="15.4" stroke="#000" stroke-width="0.14" textLength="8.2" lengthAdjust="spacingAndGlyphs">β</text>
<text x="225.6" y="534.0" font-size="10.0" stroke="#000" stroke-width="0.14" textLength="4.6" lengthAdjust="spacingAndGlyphs">c</text>
<text x="235.0" y="530.6" font-size="15.0" stroke="#000" stroke-width="0.14" textLength="42.0" lengthAdjust="spacingAndGlyphs">phase</text>
<text x="468.0" y="530.6" font-size="15.0" stroke="#000" stroke-width="0.14" textLength="86.6" lengthAdjust="spacingAndGlyphs">c-SoD phase</text>
</svg>
</body>
</html>
